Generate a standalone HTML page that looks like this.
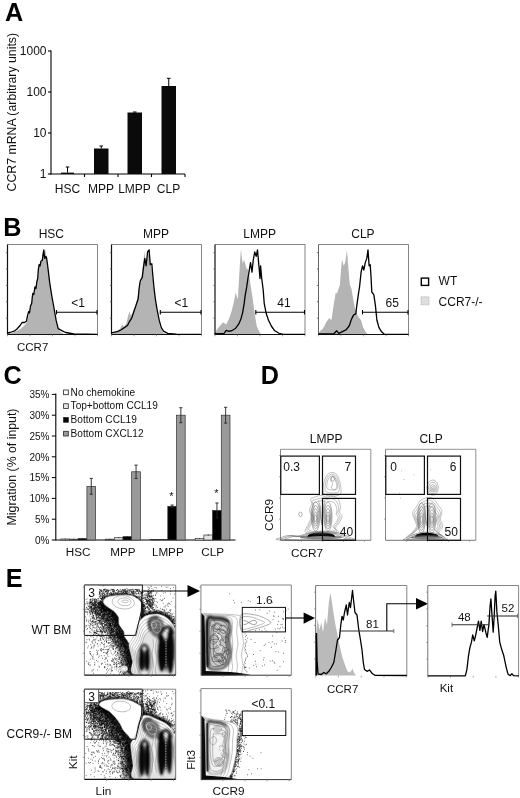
<!DOCTYPE html>
<html><head><meta charset="utf-8"><title>Figure</title>
<style>
html,body{margin:0;padding:0;background:#fff;}
body{width:520px;height:798px;overflow:hidden;}
svg{display:block;font-family:'Liberation Sans', sans-serif;will-change:transform;}
</style></head><body>
<svg width="520" height="798" viewBox="0 0 520 798">
<rect width="520" height="798" fill="#fff"/>
<text x="5" y="20.9" font-size="25.2" text-anchor="start" font-weight="bold" fill="#000">A</text>
<line x1="51" y1="50.5" x2="51" y2="174.5" stroke="#000" stroke-width="1.1"/>
<line x1="50.5" y1="174" x2="185" y2="174" stroke="#000" stroke-width="1.2"/>
<line x1="48" y1="51" x2="51" y2="51" stroke="#000" stroke-width="1.1"/>
<text x="46.5" y="55.2" font-size="12" text-anchor="end" font-weight="normal" fill="#111">1000</text>
<line x1="48" y1="92" x2="51" y2="92" stroke="#000" stroke-width="1.1"/>
<text x="46.5" y="96.2" font-size="12" text-anchor="end" font-weight="normal" fill="#111">100</text>
<line x1="48" y1="133" x2="51" y2="133" stroke="#000" stroke-width="1.1"/>
<text x="46.5" y="137.2" font-size="12" text-anchor="end" font-weight="normal" fill="#111">10</text>
<line x1="48" y1="174" x2="51" y2="174" stroke="#000" stroke-width="1.1"/>
<text x="46.5" y="178.2" font-size="12" text-anchor="end" font-weight="normal" fill="#111">1</text>
<line x1="84.5" y1="174" x2="84.5" y2="177" stroke="#000" stroke-width="1.1"/>
<line x1="118" y1="174" x2="118" y2="177" stroke="#000" stroke-width="1.1"/>
<line x1="151.5" y1="174" x2="151.5" y2="177" stroke="#000" stroke-width="1.1"/>
<line x1="185" y1="174" x2="185" y2="177" stroke="#000" stroke-width="1.1"/>
<rect x="61" y="172.6" width="13" height="1.4000000000000057" fill="#0a0a0a" stroke="none" stroke-width="1"/>
<line x1="67.5" y1="172.6" x2="67.5" y2="167" stroke="#000" stroke-width="1"/>
<line x1="65.7" y1="167" x2="69.3" y2="167" stroke="#000" stroke-width="1"/>
<rect x="94" y="148.5" width="14.5" height="25.5" fill="#0a0a0a" stroke="none" stroke-width="1"/>
<line x1="101.25" y1="148.5" x2="101.25" y2="146" stroke="#000" stroke-width="1"/>
<line x1="99.45" y1="146" x2="103.05" y2="146" stroke="#000" stroke-width="1"/>
<rect x="127.5" y="112.5" width="14.5" height="61.5" fill="#0a0a0a" stroke="none" stroke-width="1"/>
<line x1="134.75" y1="112.5" x2="134.75" y2="112" stroke="#000" stroke-width="1"/>
<line x1="132.95" y1="112" x2="136.55" y2="112" stroke="#000" stroke-width="1"/>
<rect x="161.5" y="86" width="14.5" height="88" fill="#0a0a0a" stroke="none" stroke-width="1"/>
<line x1="168.75" y1="86" x2="168.75" y2="78.3" stroke="#000" stroke-width="1"/>
<line x1="166.95" y1="78.3" x2="170.55" y2="78.3" stroke="#000" stroke-width="1"/>
<text x="67.5" y="192.5" font-size="12" text-anchor="middle" font-weight="normal" fill="#111">HSC</text>
<text x="101" y="192.5" font-size="12" text-anchor="middle" font-weight="normal" fill="#111">MPP</text>
<text x="134.5" y="192.5" font-size="12" text-anchor="middle" font-weight="normal" fill="#111">LMPP</text>
<text x="168.5" y="192.5" font-size="12" text-anchor="middle" font-weight="normal" fill="#111">CLP</text>
<text x="16.5" y="112.2" font-size="12.3" text-anchor="middle" font-weight="normal" fill="#111" transform="rotate(-90 16.5 112.2)">CCR7 mRNA (arbitrary units)</text>
<text x="3.2" y="236.2" font-size="25.2" text-anchor="start" font-weight="bold" fill="#000">B</text>
<path d="M7.5 334L12 333L17 331L21 328.5L24 326L27 322L28.5 316L30 309L32 301L33.5 294L35.5 287L37.5 279L39 268L40.5 262L42 258L43.3 249L44 252L45.2 249.5L46.5 256L48 267L49.5 280L51.5 294L53.5 306L55.5 318L57.5 327L60 331.5L64 334L64 334.5L7.5 334.5Z" fill="#b4b4b4" stroke="none" stroke-width="1"/>
<line x1="7.5" y1="244.5" x2="97.5" y2="244.5" stroke="#666" stroke-width="0.8"/>
<line x1="97.5" y1="244.5" x2="97.5" y2="334.5" stroke="#666" stroke-width="0.8"/>
<line x1="7.5" y1="244.5" x2="7.5" y2="334.5" stroke="#111" stroke-width="1.2"/>
<line x1="7.5" y1="334.5" x2="97.5" y2="334.5" stroke="#111" stroke-width="1.1"/>
<line x1="5.9" y1="318.1363636363636" x2="7.5" y2="318.1363636363636" stroke="#555" stroke-width="0.8"/>
<line x1="5.9" y1="301.77272727272725" x2="7.5" y2="301.77272727272725" stroke="#555" stroke-width="0.8"/>
<line x1="5.9" y1="285.4090909090909" x2="7.5" y2="285.4090909090909" stroke="#555" stroke-width="0.8"/>
<line x1="5.9" y1="269.04545454545456" x2="7.5" y2="269.04545454545456" stroke="#555" stroke-width="0.8"/>
<line x1="5.9" y1="252.6818181818182" x2="7.5" y2="252.6818181818182" stroke="#555" stroke-width="0.8"/>
<line x1="7.5" y1="334.5" x2="7.5" y2="336.3" stroke="#777" stroke-width="0.7"/>
<line x1="30.0" y1="334.5" x2="30.0" y2="336.3" stroke="#777" stroke-width="0.7"/>
<line x1="52.5" y1="334.5" x2="52.5" y2="336.3" stroke="#777" stroke-width="0.7"/>
<line x1="75.0" y1="334.5" x2="75.0" y2="336.3" stroke="#777" stroke-width="0.7"/>
<line x1="97.5" y1="334.5" x2="97.5" y2="336.3" stroke="#777" stroke-width="0.7"/>
<path d="M7.5 333L10 332.5L14.8 330.8L17 329L20.1 325.5L22.2 322.3L24.5 322.5L26.4 321.3L27.5 316L28.6 311.7L29.5 313L30.5 306L31.7 303.3L32.3 297L32.8 293.5L33.8 294.5L34.9 287L36 288.5L36.8 282L37.7 278.5L38.3 270L39.1 264.7L40 266L41 261L42.3 260.5L43 255L43.8 250L44.3 256L44.8 258.4L45.6 256.5L46.5 257.3L47.3 263L48.2 270L49.7 282.7L51.8 296L53.9 307.5L56.1 320.2L58.2 328.7L61.3 330.3L65.6 332.5L74 334L97.5 334.4" fill="none" stroke="#000" stroke-width="1.3" stroke-linejoin="round"/>
<text x="51.3" y="237.5" font-size="12" text-anchor="middle" font-weight="normal" fill="#111">HSC</text>
<line x1="56.5" y1="312.2" x2="97.0" y2="312.2" stroke="#000" stroke-width="1.1"/>
<line x1="56.5" y1="310.0" x2="56.5" y2="314.4" stroke="#000" stroke-width="1.1"/>
<line x1="97.0" y1="310.0" x2="97.0" y2="314.4" stroke="#000" stroke-width="1.1"/>
<text x="78" y="307" font-size="12" text-anchor="middle" font-weight="normal" fill="#111">&lt;1</text>
<path d="M111.6 334L116 332L120 329L122.2 324.4L124 327L126.5 323L128 316L129.6 311.7L131 316L133 312L135.5 305L137.5 298L139 289L140.5 281L142 274L143.2 264L144.4 251L145.5 262L147 258L148.5 253L150 261L151.5 268L152.8 279L154 290L155.5 301L157 311L158.8 321L160.5 328L163 332.5L166 334L166 334.5L111.6 334.5Z" fill="#b4b4b4" stroke="none" stroke-width="1"/>
<line x1="111.5" y1="244.5" x2="201.5" y2="244.5" stroke="#666" stroke-width="0.8"/>
<line x1="201.5" y1="244.5" x2="201.5" y2="334.5" stroke="#666" stroke-width="0.8"/>
<line x1="111.5" y1="244.5" x2="111.5" y2="334.5" stroke="#111" stroke-width="1.2"/>
<line x1="111.5" y1="334.5" x2="201.5" y2="334.5" stroke="#111" stroke-width="1.1"/>
<line x1="109.9" y1="318.1363636363636" x2="111.5" y2="318.1363636363636" stroke="#555" stroke-width="0.8"/>
<line x1="109.9" y1="301.77272727272725" x2="111.5" y2="301.77272727272725" stroke="#555" stroke-width="0.8"/>
<line x1="109.9" y1="285.4090909090909" x2="111.5" y2="285.4090909090909" stroke="#555" stroke-width="0.8"/>
<line x1="109.9" y1="269.04545454545456" x2="111.5" y2="269.04545454545456" stroke="#555" stroke-width="0.8"/>
<line x1="109.9" y1="252.6818181818182" x2="111.5" y2="252.6818181818182" stroke="#555" stroke-width="0.8"/>
<line x1="111.5" y1="334.5" x2="111.5" y2="336.3" stroke="#777" stroke-width="0.7"/>
<line x1="134.0" y1="334.5" x2="134.0" y2="336.3" stroke="#777" stroke-width="0.7"/>
<line x1="156.5" y1="334.5" x2="156.5" y2="336.3" stroke="#777" stroke-width="0.7"/>
<line x1="179.0" y1="334.5" x2="179.0" y2="336.3" stroke="#777" stroke-width="0.7"/>
<line x1="201.5" y1="334.5" x2="201.5" y2="336.3" stroke="#777" stroke-width="0.7"/>
<path d="M111.6 332.9L118 331.4L121.2 329.7L124.3 327.6L127.5 325.5L129.6 321.3L131.7 318.1L133.8 311.7L136 305.4L138.1 299L139.1 288.5L140.2 281L142.3 277.4L143.4 267.9L144.8 258.4L146.1 265.8L147.6 252L149.1 249.9L150.3 264.7L151.8 263.7L152.9 276.3L153.9 286.9L155.4 299.3L157.1 309.6L159.2 320.2L161.3 327.6L163.5 331.2L167.7 333.3L176.2 334.2L201.1 334.4" fill="none" stroke="#000" stroke-width="1.3" stroke-linejoin="round"/>
<text x="155.9" y="237.5" font-size="12" text-anchor="middle" font-weight="normal" fill="#111">MPP</text>
<line x1="160.3" y1="312.2" x2="201.0" y2="312.2" stroke="#000" stroke-width="1.1"/>
<line x1="160.3" y1="310.0" x2="160.3" y2="314.4" stroke="#000" stroke-width="1.1"/>
<line x1="201.0" y1="310.0" x2="201.0" y2="314.4" stroke="#000" stroke-width="1.1"/>
<text x="181.4" y="307" font-size="12" text-anchor="middle" font-weight="normal" fill="#111">&lt;1</text>
<path d="M214.5 334L216 331L219 327L223 322.3L226.2 324.4L229.3 318L231.4 311.7L233.6 303.3L235.7 292.5L237.8 299.6L238.8 282.7L240 262L241 248.8L241.9 258L242.7 263.7L244.1 259.4L246.3 267.9L248.4 270L250.5 284.8L252.6 298L254.7 313.8L256.8 326.5L260 332.9L262 334.4L262 334.5L214.5 334.5Z" fill="#b4b4b4" stroke="none" stroke-width="1"/>
<line x1="215" y1="244.5" x2="305" y2="244.5" stroke="#666" stroke-width="0.8"/>
<line x1="305" y1="244.5" x2="305" y2="334.5" stroke="#666" stroke-width="0.8"/>
<line x1="215" y1="244.5" x2="215" y2="334.5" stroke="#111" stroke-width="1.2"/>
<line x1="215" y1="334.5" x2="305" y2="334.5" stroke="#111" stroke-width="1.1"/>
<line x1="213.4" y1="318.1363636363636" x2="215" y2="318.1363636363636" stroke="#555" stroke-width="0.8"/>
<line x1="213.4" y1="301.77272727272725" x2="215" y2="301.77272727272725" stroke="#555" stroke-width="0.8"/>
<line x1="213.4" y1="285.4090909090909" x2="215" y2="285.4090909090909" stroke="#555" stroke-width="0.8"/>
<line x1="213.4" y1="269.04545454545456" x2="215" y2="269.04545454545456" stroke="#555" stroke-width="0.8"/>
<line x1="213.4" y1="252.6818181818182" x2="215" y2="252.6818181818182" stroke="#555" stroke-width="0.8"/>
<line x1="215.0" y1="334.5" x2="215.0" y2="336.3" stroke="#777" stroke-width="0.7"/>
<line x1="237.5" y1="334.5" x2="237.5" y2="336.3" stroke="#777" stroke-width="0.7"/>
<line x1="260.0" y1="334.5" x2="260.0" y2="336.3" stroke="#777" stroke-width="0.7"/>
<line x1="282.5" y1="334.5" x2="282.5" y2="336.3" stroke="#777" stroke-width="0.7"/>
<line x1="305.0" y1="334.5" x2="305.0" y2="336.3" stroke="#777" stroke-width="0.7"/>
<path d="M214.5 333.9L224 333.5L226.2 330.3L229.3 331.4L232.5 330.3L235.7 328.2L238.8 323.9L241 318.7L242.7 312.3L244.1 303.9L245.2 295.4L246.7 286.9L247.9 278.5L249 272.1L250.5 262.6L252 272.1L253.2 260.5L254.7 252L256.2 256.3L257.5 249.9L258.9 265.8L260 278.5L260.6 265.8L261.7 278.5L263.2 290L264.2 303.3L266.3 313.8L268.5 320.2L271.6 326.5L274.8 330.8L279 333.3L283.3 334.4L305 334.4" fill="none" stroke="#000" stroke-width="1.3" stroke-linejoin="round"/>
<text x="259.6" y="237.5" font-size="12" text-anchor="middle" font-weight="normal" fill="#111">LMPP</text>
<line x1="255.8" y1="312.2" x2="304.5" y2="312.2" stroke="#000" stroke-width="1.1"/>
<line x1="255.8" y1="310.0" x2="255.8" y2="314.4" stroke="#000" stroke-width="1.1"/>
<line x1="304.5" y1="310.0" x2="304.5" y2="314.4" stroke="#000" stroke-width="1.1"/>
<text x="284" y="307" font-size="12" text-anchor="middle" font-weight="normal" fill="#111">41</text>
<path d="M318.3 334L320 331L323 328.7L326.2 322.3L329.3 318.1L331.4 320.2L333.6 305.4L335.7 292.7L337 293.5L339.9 284.8L341 270L342 259.4L343.7 265.8L345.2 262.6L346.9 249.9L348.4 267.9L349.8 284.8L351.5 289L353.2 299.3L354.7 307.5L357.9 316L361.1 320.2L363.2 327.6L366.3 332.9L368.5 334.4L368.5 334.5L318.3 334.5Z" fill="#b4b4b4" stroke="none" stroke-width="1"/>
<line x1="318.5" y1="244.5" x2="408.5" y2="244.5" stroke="#666" stroke-width="0.8"/>
<line x1="408.5" y1="244.5" x2="408.5" y2="334.5" stroke="#666" stroke-width="0.8"/>
<line x1="318.5" y1="244.5" x2="318.5" y2="334.5" stroke="#555" stroke-width="0.9"/>
<line x1="318.5" y1="334.5" x2="408.5" y2="334.5" stroke="#111" stroke-width="1.1"/>
<line x1="316.9" y1="318.1363636363636" x2="318.5" y2="318.1363636363636" stroke="#555" stroke-width="0.8"/>
<line x1="316.9" y1="301.77272727272725" x2="318.5" y2="301.77272727272725" stroke="#555" stroke-width="0.8"/>
<line x1="316.9" y1="285.4090909090909" x2="318.5" y2="285.4090909090909" stroke="#555" stroke-width="0.8"/>
<line x1="316.9" y1="269.04545454545456" x2="318.5" y2="269.04545454545456" stroke="#555" stroke-width="0.8"/>
<line x1="316.9" y1="252.6818181818182" x2="318.5" y2="252.6818181818182" stroke="#555" stroke-width="0.8"/>
<line x1="318.5" y1="334.5" x2="318.5" y2="336.3" stroke="#777" stroke-width="0.7"/>
<line x1="341.0" y1="334.5" x2="341.0" y2="336.3" stroke="#777" stroke-width="0.7"/>
<line x1="363.5" y1="334.5" x2="363.5" y2="336.3" stroke="#777" stroke-width="0.7"/>
<line x1="386.0" y1="334.5" x2="386.0" y2="336.3" stroke="#777" stroke-width="0.7"/>
<line x1="408.5" y1="334.5" x2="408.5" y2="336.3" stroke="#777" stroke-width="0.7"/>
<path d="M318.3 334L333.6 334L336.7 330.8L338.8 333.3L342 331.8L346.3 329.7L349.4 325.5L351.5 319.1L353.7 314.9L355.8 313.8L356.8 305.4L358.3 294.8L359.6 286.5L361.1 272.1L362.5 265.8L363.8 270L365.3 262.6L366.8 258.4L368 249.9L369.1 265.8L370.2 264.7L371 276.3L371.8 292L373.8 294.6L375.4 305.4L376.9 320.2L379 327.6L381.6 331.8L384.3 334.2L408.5 334.4" fill="none" stroke="#000" stroke-width="1.3" stroke-linejoin="round"/>
<text x="362.9" y="237.5" font-size="12" text-anchor="middle" font-weight="normal" fill="#111">CLP</text>
<line x1="362.5" y1="312.2" x2="408.0" y2="312.2" stroke="#000" stroke-width="1.1"/>
<line x1="362.5" y1="310.0" x2="362.5" y2="314.4" stroke="#000" stroke-width="1.1"/>
<line x1="408.0" y1="310.0" x2="408.0" y2="314.4" stroke="#000" stroke-width="1.1"/>
<text x="392.3" y="307" font-size="12" text-anchor="middle" font-weight="normal" fill="#111">65</text>
<text x="17" y="350.5" font-size="11.5" text-anchor="start" font-weight="normal" fill="#111">CCR7</text>
<rect x="421.3" y="278.1" width="7.3" height="7.3" fill="#fff" stroke="#000" stroke-width="1.4"/>
<rect x="421" y="296.8" width="8" height="8" fill="#dedede" stroke="#a8a8a8" stroke-width="0.7" stroke-dasharray="1 0.6"/>
<text x="438.6" y="285" font-size="12" text-anchor="start" font-weight="normal" fill="#111">WT</text>
<text x="438.6" y="305.6" font-size="12" text-anchor="start" font-weight="normal" fill="#111">CCR7-/-</text>
<text x="3.5" y="384" font-size="25.2" text-anchor="start" font-weight="bold" fill="#000">C</text>
<line x1="55.8" y1="393.5" x2="55.8" y2="540.5" stroke="#000" stroke-width="1.1"/>
<line x1="55.8" y1="540" x2="235.5" y2="540" stroke="#000" stroke-width="1.1"/>
<line x1="51.8" y1="540.0" x2="55.8" y2="540.0" stroke="#000" stroke-width="1"/>
<text x="49.4" y="543.8" font-size="10" text-anchor="end" font-weight="normal" fill="#111">0%</text>
<line x1="51.8" y1="519.2" x2="55.8" y2="519.2" stroke="#000" stroke-width="1"/>
<text x="49.4" y="523.0" font-size="10" text-anchor="end" font-weight="normal" fill="#111">5%</text>
<line x1="51.8" y1="498.4" x2="55.8" y2="498.4" stroke="#000" stroke-width="1"/>
<text x="49.4" y="502.2" font-size="10" text-anchor="end" font-weight="normal" fill="#111">10%</text>
<line x1="51.8" y1="477.6" x2="55.8" y2="477.6" stroke="#000" stroke-width="1"/>
<text x="49.4" y="481.40000000000003" font-size="10" text-anchor="end" font-weight="normal" fill="#111">15%</text>
<line x1="51.8" y1="456.8" x2="55.8" y2="456.8" stroke="#000" stroke-width="1"/>
<text x="49.4" y="460.6" font-size="10" text-anchor="end" font-weight="normal" fill="#111">20%</text>
<line x1="51.8" y1="436.0" x2="55.8" y2="436.0" stroke="#000" stroke-width="1"/>
<text x="49.4" y="439.8" font-size="10" text-anchor="end" font-weight="normal" fill="#111">25%</text>
<line x1="51.8" y1="415.2" x2="55.8" y2="415.2" stroke="#000" stroke-width="1"/>
<text x="49.4" y="419.0" font-size="10" text-anchor="end" font-weight="normal" fill="#111">30%</text>
<line x1="51.8" y1="394.4" x2="55.8" y2="394.4" stroke="#000" stroke-width="1"/>
<text x="49.4" y="398.2" font-size="10" text-anchor="end" font-weight="normal" fill="#111">35%</text>
<rect x="63.6" y="390.0" width="4.7" height="4.7" fill="#fff" stroke="#222" stroke-width="0.8"/>
<text x="70.6" y="395.7" font-size="10.1" text-anchor="start" font-weight="normal" fill="#111">No chemokine</text>
<rect x="63.6" y="403.77" width="4.7" height="4.7" fill="#e4e4e4" stroke="#222" stroke-width="0.8"/>
<text x="70.6" y="409.46999999999997" font-size="10.1" text-anchor="start" font-weight="normal" fill="#111">Top+bottom CCL19</text>
<rect x="63.6" y="417.54" width="4.7" height="4.7" fill="#000" stroke="#222" stroke-width="0.8"/>
<text x="70.6" y="423.24" font-size="10.1" text-anchor="start" font-weight="normal" fill="#111">Bottom CCL19</text>
<rect x="63.6" y="431.31" width="4.7" height="4.7" fill="#9a9a9a" stroke="#222" stroke-width="0.8"/>
<text x="70.6" y="437.01" font-size="10.1" text-anchor="start" font-weight="normal" fill="#111">Bottom CXCL12</text>
<rect x="60.8" y="538.96" width="8.7" height="1.0399999999999636" fill="#fff" stroke="#333" stroke-width="0.7"/>
<line x1="65.14999999999999" y1="538.544" x2="65.14999999999999" y2="539.376" stroke="#222" stroke-width="0.9"/>
<rect x="69.5" y="539.168" width="8.7" height="0.8319999999999936" fill="#e4e4e4" stroke="#333" stroke-width="0.7"/>
<line x1="73.85" y1="538.752" x2="73.85" y2="539.584" stroke="#222" stroke-width="0.9"/>
<rect x="78.19999999999999" y="538.544" width="8.7" height="1.4560000000000173" fill="#000" stroke="#333" stroke-width="0.7"/>
<line x1="82.54999999999998" y1="537.92" x2="82.54999999999998" y2="539.168" stroke="#222" stroke-width="0.9"/>
<rect x="86.89999999999999" y="486.336" width="8.7" height="53.66399999999999" fill="#9a9a9a" stroke="#333" stroke-width="0.7"/>
<line x1="91.24999999999999" y1="478.432" x2="91.24999999999999" y2="494.24" stroke="#222" stroke-width="0.9"/>
<line x1="89.64999999999999" y1="478.432" x2="92.84999999999998" y2="478.432" stroke="#222" stroke-width="0.9"/>
<line x1="89.64999999999999" y1="494.24" x2="92.84999999999998" y2="494.24" stroke="#222" stroke-width="0.9"/>
<text x="78.19999999999999" y="556.3" font-size="11.7" text-anchor="middle" font-weight="normal" fill="#111">HSC</text>
<rect x="105.6" y="539.168" width="8.7" height="0.8319999999999936" fill="#fff" stroke="#333" stroke-width="0.7"/>
<line x1="109.94999999999999" y1="538.752" x2="109.94999999999999" y2="539.584" stroke="#222" stroke-width="0.9"/>
<rect x="114.3" y="537.712" width="8.7" height="2.288000000000011" fill="#e4e4e4" stroke="#333" stroke-width="0.7"/>
<line x1="118.64999999999999" y1="537.296" x2="118.64999999999999" y2="538.128" stroke="#222" stroke-width="0.9"/>
<rect x="123.0" y="536.672" width="8.7" height="3.3279999999999745" fill="#000" stroke="#333" stroke-width="0.7"/>
<line x1="127.35" y1="536.048" x2="127.35" y2="537.296" stroke="#222" stroke-width="0.9"/>
<rect x="131.7" y="471.776" width="8.7" height="68.22399999999999" fill="#9a9a9a" stroke="#333" stroke-width="0.7"/>
<line x1="136.04999999999998" y1="465.12" x2="136.04999999999998" y2="478.432" stroke="#222" stroke-width="0.9"/>
<line x1="134.45" y1="465.12" x2="137.64999999999998" y2="465.12" stroke="#222" stroke-width="0.9"/>
<line x1="134.45" y1="478.432" x2="137.64999999999998" y2="478.432" stroke="#222" stroke-width="0.9"/>
<text x="123.0" y="556.3" font-size="11.7" text-anchor="middle" font-weight="normal" fill="#111">MPP</text>
<rect x="150.4" y="539.584" width="8.7" height="0.41600000000005366" fill="#fff" stroke="#333" stroke-width="0.7"/>
<line x1="154.75" y1="539.376" x2="154.75" y2="539.792" stroke="#222" stroke-width="0.9"/>
<rect x="159.1" y="539.584" width="8.7" height="0.41600000000005366" fill="#e4e4e4" stroke="#333" stroke-width="0.7"/>
<line x1="163.45" y1="539.376" x2="163.45" y2="539.792" stroke="#222" stroke-width="0.9"/>
<rect x="167.8" y="506.304" width="8.7" height="33.696000000000026" fill="#000" stroke="#333" stroke-width="0.7"/>
<line x1="172.15" y1="505.056" x2="172.15" y2="507.552" stroke="#222" stroke-width="0.9"/>
<line x1="170.55" y1="505.056" x2="173.75" y2="505.056" stroke="#222" stroke-width="0.9"/>
<line x1="170.55" y1="507.552" x2="173.75" y2="507.552" stroke="#222" stroke-width="0.9"/>
<rect x="176.5" y="415.2" width="8.7" height="124.80000000000001" fill="#9a9a9a" stroke="#333" stroke-width="0.7"/>
<line x1="180.85" y1="407.712" x2="180.85" y2="422.688" stroke="#222" stroke-width="0.9"/>
<line x1="179.25" y1="407.712" x2="182.45" y2="407.712" stroke="#222" stroke-width="0.9"/>
<line x1="179.25" y1="422.688" x2="182.45" y2="422.688" stroke="#222" stroke-width="0.9"/>
<text x="167.8" y="556.3" font-size="11.7" text-anchor="middle" font-weight="normal" fill="#111">LMPP</text>
<rect x="195.2" y="538.544" width="8.7" height="1.4560000000000173" fill="#fff" stroke="#333" stroke-width="0.7"/>
<line x1="199.54999999999998" y1="538.128" x2="199.54999999999998" y2="538.96" stroke="#222" stroke-width="0.9"/>
<rect x="203.89999999999998" y="535.008" width="8.7" height="4.991999999999962" fill="#e4e4e4" stroke="#333" stroke-width="0.7"/>
<line x1="208.24999999999997" y1="534.384" x2="208.24999999999997" y2="535.632" stroke="#222" stroke-width="0.9"/>
<rect x="212.6" y="510.464" width="8.7" height="29.536" fill="#000" stroke="#333" stroke-width="0.7"/>
<line x1="216.95" y1="502.976" x2="216.95" y2="517.952" stroke="#222" stroke-width="0.9"/>
<line x1="215.35" y1="502.976" x2="218.54999999999998" y2="502.976" stroke="#222" stroke-width="0.9"/>
<line x1="215.35" y1="517.952" x2="218.54999999999998" y2="517.952" stroke="#222" stroke-width="0.9"/>
<rect x="221.29999999999998" y="415.2" width="8.7" height="124.80000000000001" fill="#9a9a9a" stroke="#333" stroke-width="0.7"/>
<line x1="225.64999999999998" y1="407.296" x2="225.64999999999998" y2="423.104" stroke="#222" stroke-width="0.9"/>
<line x1="224.04999999999998" y1="407.296" x2="227.24999999999997" y2="407.296" stroke="#222" stroke-width="0.9"/>
<line x1="224.04999999999998" y1="423.104" x2="227.24999999999997" y2="423.104" stroke="#222" stroke-width="0.9"/>
<text x="212.6" y="556.3" font-size="11.7" text-anchor="middle" font-weight="normal" fill="#111">CLP</text>
<text x="171.5" y="500" font-size="11" text-anchor="middle" font-weight="normal" fill="#111">*</text>
<text x="216.5" y="497" font-size="11" text-anchor="middle" font-weight="normal" fill="#111">*</text>
<text x="16.3" y="467" font-size="12.3" text-anchor="middle" font-weight="normal" fill="#111" transform="rotate(-90 16.3 467)">Migration (% of input)</text>
<text x="260.7" y="383.5" font-size="25.2" text-anchor="start" font-weight="bold" fill="#000">D</text>
<line x1="280.5" y1="449.3" x2="370.8" y2="449.3" stroke="#777" stroke-width="0.8"/>
<line x1="370.8" y1="449.3" x2="370.8" y2="540.3" stroke="#777" stroke-width="0.8"/>
<line x1="280.5" y1="449.3" x2="280.5" y2="540.3" stroke="#777" stroke-width="0.9"/>
<line x1="280.5" y1="540.3" x2="370.8" y2="540.3" stroke="#666" stroke-width="0.9"/>
<line x1="279.0" y1="519.1372093023256" x2="280.5" y2="519.1372093023256" stroke="#888" stroke-width="0.7"/>
<line x1="301.5" y1="540.3" x2="301.5" y2="541.8" stroke="#888" stroke-width="0.7"/>
<line x1="279.0" y1="497.97441860465113" x2="280.5" y2="497.97441860465113" stroke="#888" stroke-width="0.7"/>
<line x1="322.5" y1="540.3" x2="322.5" y2="541.8" stroke="#888" stroke-width="0.7"/>
<line x1="279.0" y1="476.81162790697675" x2="280.5" y2="476.81162790697675" stroke="#888" stroke-width="0.7"/>
<line x1="343.5" y1="540.3" x2="343.5" y2="541.8" stroke="#888" stroke-width="0.7"/>
<line x1="279.0" y1="455.6488372093023" x2="280.5" y2="455.6488372093023" stroke="#888" stroke-width="0.7"/>
<line x1="364.5" y1="540.3" x2="364.5" y2="541.8" stroke="#888" stroke-width="0.7"/>
<text x="326.1" y="443.1" font-size="12" text-anchor="middle" font-weight="normal" fill="#111">LMPP</text>
<path d="M281.5 537.5C282.7 536.8 285.7 535.8 288.5 535.5C291.3 535.2 295.2 536.4 298.5 536.0C301.8 535.6 304.6 533.8 308.5 533.0C312.4 532.2 317.4 531.3 322.0 531.2C326.6 531.1 332.3 531.9 336.0 532.5C339.7 533.1 341.7 534.2 344.0 535.0C346.3 535.8 349.2 536.7 350.0 537.5C350.8 538.3 360.4 539.6 349.0 540.0C337.6 540.4 292.8 540.4 281.5 540.0C270.2 539.6 280.3 538.2 281.5 537.5Z" fill="none" stroke="#555" stroke-width="0.5"/>
<path d="M285.1 537.7C286.2 537.0 288.9 536.1 291.4 535.9C294.0 535.7 297.4 536.7 300.4 536.4C303.4 536.0 305.9 534.4 309.4 533.6C313.0 532.9 317.5 532.1 321.6 532.0C325.7 532.0 330.9 532.6 334.2 533.2C337.5 533.8 339.3 534.7 341.4 535.5C343.5 536.2 346.1 537.0 346.8 537.7C347.6 538.5 356.2 539.6 345.9 540.0C335.6 540.3 295.3 540.3 285.1 540.0C275.0 539.6 284.1 538.4 285.1 537.7Z" fill="none" stroke="#555" stroke-width="0.5"/>
<path d="M288.8 537.9C289.7 537.3 292.1 536.5 294.4 536.3C296.7 536.1 299.7 537.0 302.4 536.7C305.1 536.4 307.3 534.9 310.4 534.3C313.5 533.7 317.5 532.9 321.2 532.9C324.9 532.8 329.5 533.4 332.4 533.9C335.3 534.4 336.9 535.2 338.8 535.9C340.7 536.6 342.9 537.2 343.6 537.9C344.3 538.6 351.9 539.6 342.8 539.9C333.7 540.2 297.8 540.2 288.8 539.9C279.8 539.6 287.9 538.5 288.8 537.9Z" fill="none" stroke="#555" stroke-width="0.5"/>
<ellipse cx="321.0" cy="537.4" rx="21" ry="1.9" fill="#333" opacity="0.6"/>
<path d="M308.0 536.2Q310.0 533.2 321.0 533Q332.0 533.2 334.5 536.2Q321.0 534.8 308.0 536.2Z" fill="#000" stroke="#000" stroke-width="1.2" stroke-linejoin="round"/>
<path d="M307.0 533.0C302.2 531.5 307.8 526.7 308.5 524.0C309.2 521.3 310.8 519.3 311.0 517.0C311.2 514.7 309.3 512.3 309.5 510.0C309.7 507.7 311.8 504.8 312.0 503.0C312.2 501.2 310.0 500.0 310.5 499.0C311.0 498.0 313.2 497.6 315.0 497.0C316.8 496.4 319.0 495.5 321.0 495.5C323.0 495.5 325.2 496.9 327.0 497.0C328.8 497.1 330.2 495.7 332.0 496.0C333.8 496.3 336.6 497.2 338.0 499.0C339.4 500.8 340.2 504.8 340.5 507.0C340.8 509.2 339.2 510.4 339.5 512.0C339.8 513.6 342.1 514.7 342.0 516.5C341.9 518.3 340.1 521.1 339.0 523.0C337.9 524.9 335.8 526.3 335.5 528.0C335.2 529.7 341.8 532.2 337.0 533.0C332.2 533.8 311.8 534.5 307.0 533.0Z" fill="none" stroke="#777" stroke-width="0.45"/>
<path d="M308.6 531.9C304.3 530.5 309.4 526.2 309.9 523.8C310.5 521.4 312.0 519.6 312.2 517.5C312.4 515.4 310.7 513.3 310.9 511.2C311.0 509.1 313.0 506.5 313.1 504.9C313.2 503.2 311.3 502.2 311.8 501.3C312.2 500.4 314.2 500.0 315.8 499.5C317.4 499.0 319.4 498.1 321.2 498.1C323.0 498.1 325.0 499.4 326.6 499.5C328.2 499.6 329.5 498.3 331.1 498.6C332.8 498.9 335.2 499.7 336.5 501.3C337.8 502.9 338.5 506.6 338.8 508.5C339.0 510.4 337.6 511.6 337.9 513.0C338.1 514.4 340.2 515.4 340.1 517.0C340.0 518.7 338.4 521.2 337.4 522.9C336.4 524.6 334.6 525.9 334.2 527.4C333.9 528.9 339.9 531.1 335.6 531.9C331.3 532.6 312.9 533.2 308.6 531.9Z" fill="none" stroke="#777" stroke-width="0.45"/>
<path d="M310.2 530.8C306.4 529.6 310.9 525.7 311.4 523.6C311.9 521.5 313.3 519.9 313.4 518.0C313.5 516.1 312.1 514.3 312.2 512.4C312.3 510.5 314.1 508.3 314.2 506.8C314.3 505.3 312.6 504.4 313.0 503.6C313.4 502.8 315.2 502.5 316.6 502.0C318.0 501.5 319.8 500.8 321.4 500.8C323.0 500.8 324.7 501.9 326.2 502.0C327.7 502.1 328.7 500.9 330.2 501.2C331.7 501.5 333.9 502.1 335.0 503.6C336.1 505.1 336.8 508.3 337.0 510.0C337.2 511.7 336.0 512.7 336.2 514.0C336.4 515.3 338.3 516.1 338.2 517.6C338.1 519.1 336.7 521.3 335.8 522.8C334.9 524.3 333.3 525.5 333.0 526.8C332.7 528.1 338.0 530.1 334.2 530.8C330.4 531.5 314.0 532.0 310.2 530.8Z" fill="none" stroke="#777" stroke-width="0.45"/>
<path d="M319.8 516.5C319.8 519.3 319.5 522.7 319.0 525.0C318.5 527.3 317.7 529.4 316.9 530.3C316.1 531.2 315.1 531.2 314.3 530.3C313.5 529.4 312.7 527.3 312.2 525.0C311.7 522.7 311.4 519.3 311.4 516.5C311.4 513.7 311.7 510.3 312.2 508.0C312.7 505.7 313.5 503.6 314.3 502.7C315.1 501.8 316.1 501.8 316.9 502.7C317.7 503.6 318.5 505.7 319.0 508.0C319.5 510.3 319.8 513.7 319.8 516.5Z" fill="none" stroke="#555" stroke-width="0.5"/>
<path d="M319.0 517.0C319.0 519.3 318.7 522.0 318.3 523.8C317.9 525.7 317.3 527.3 316.6 528.0C316.0 528.7 315.2 528.7 314.6 528.0C313.9 527.3 313.3 525.7 312.9 523.8C312.5 522.0 312.2 519.3 312.2 517.0C312.2 514.7 312.5 512.0 312.9 510.2C313.3 508.3 313.9 506.7 314.6 506.0C315.2 505.3 316.0 505.3 316.6 506.0C317.3 506.7 317.9 508.3 318.3 510.2C318.7 512.0 319.0 514.7 319.0 517.0Z" fill="none" stroke="#555" stroke-width="0.5"/>
<path d="M318.1 517.5C318.1 519.2 317.9 521.2 317.6 522.6C317.3 524.0 316.8 525.2 316.4 525.8C315.9 526.3 315.3 526.3 314.8 525.8C314.4 525.2 313.9 524.0 313.6 522.6C313.3 521.2 313.1 519.2 313.1 517.5C313.1 515.8 313.3 513.8 313.6 512.4C313.9 511.0 314.4 509.8 314.8 509.2C315.3 508.7 315.9 508.7 316.4 509.2C316.8 509.8 317.3 511.0 317.6 512.4C317.9 513.8 318.1 515.8 318.1 517.5Z" fill="none" stroke="#555" stroke-width="0.5"/>
<path d="M317.4 518.0C317.4 519.1 317.2 520.6 317.0 521.5C316.8 522.5 316.5 523.4 316.1 523.7C315.8 524.1 315.4 524.1 315.1 523.7C314.7 523.4 314.4 522.5 314.2 521.5C314.0 520.6 313.8 519.1 313.8 518.0C313.8 516.8 314.0 515.3 314.2 514.4C314.4 513.4 314.7 512.5 315.1 512.2C315.4 511.8 315.8 511.8 316.1 512.2C316.5 512.5 316.8 513.4 317.0 514.4C317.2 515.3 317.4 516.8 317.4 518.0Z" fill="none" stroke="#555" stroke-width="0.5"/>
<path d="M316.7 518.4C316.7 519.1 316.6 519.9 316.4 520.5C316.3 521.1 316.1 521.6 315.9 521.8C315.7 522.0 315.5 522.0 315.3 521.8C315.1 521.6 314.9 521.1 314.8 520.5C314.6 519.9 314.6 519.1 314.6 518.4C314.6 517.7 314.6 516.8 314.8 516.2C314.9 515.7 315.1 515.1 315.3 514.9C315.5 514.7 315.7 514.7 315.9 514.9C316.1 515.1 316.3 515.7 316.4 516.2C316.6 516.8 316.7 517.7 316.7 518.4Z" fill="none" stroke="#555" stroke-width="0.5"/>
<path d="M332.0 516.5C332.0 519.3 331.7 522.7 331.2 525.0C330.8 527.3 330.0 529.4 329.2 530.3C328.5 531.2 327.5 531.2 326.8 530.3C326.0 529.4 325.2 527.3 324.8 525.0C324.3 522.7 324.0 519.3 324.0 516.5C324.0 513.7 324.3 510.3 324.8 508.0C325.2 505.7 326.0 503.6 326.8 502.7C327.5 501.8 328.5 501.8 329.2 502.7C330.0 503.6 330.8 505.7 331.2 508.0C331.7 510.3 332.0 513.7 332.0 516.5Z" fill="none" stroke="#555" stroke-width="0.5"/>
<path d="M331.2 517.0C331.2 519.3 331.0 522.0 330.6 523.8C330.2 525.7 329.6 527.3 329.0 528.0C328.4 528.7 327.6 528.7 327.0 528.0C326.4 527.3 325.8 525.7 325.4 523.8C325.0 522.0 324.8 519.3 324.8 517.0C324.8 514.7 325.0 512.0 325.4 510.2C325.8 508.3 326.4 506.7 327.0 506.0C327.6 505.3 328.4 505.3 329.0 506.0C329.6 506.7 330.2 508.3 330.6 510.2C331.0 512.0 331.2 514.7 331.2 517.0Z" fill="none" stroke="#555" stroke-width="0.5"/>
<path d="M330.4 517.5C330.4 519.2 330.2 521.2 329.9 522.6C329.7 524.0 329.2 525.2 328.7 525.8C328.3 526.3 327.7 526.3 327.3 525.8C326.8 525.2 326.3 524.0 326.1 522.6C325.8 521.2 325.6 519.2 325.6 517.5C325.6 515.8 325.8 513.8 326.1 512.4C326.3 511.0 326.8 509.8 327.3 509.2C327.7 508.7 328.3 508.7 328.7 509.2C329.2 509.8 329.7 511.0 329.9 512.4C330.2 513.8 330.4 515.8 330.4 517.5Z" fill="none" stroke="#555" stroke-width="0.5"/>
<path d="M329.7 518.0C329.7 519.1 329.6 520.6 329.4 521.5C329.2 522.5 328.8 523.4 328.5 523.7C328.2 524.1 327.8 524.1 327.5 523.7C327.2 523.4 326.8 522.5 326.6 521.5C326.4 520.6 326.3 519.1 326.3 518.0C326.3 516.8 326.4 515.3 326.6 514.4C326.8 513.4 327.2 512.5 327.5 512.2C327.8 511.8 328.2 511.8 328.5 512.2C328.8 512.5 329.2 513.4 329.4 514.4C329.6 515.3 329.7 516.8 329.7 518.0Z" fill="none" stroke="#555" stroke-width="0.5"/>
<path d="M329.0 518.4C329.0 519.1 328.9 519.9 328.8 520.5C328.7 521.1 328.5 521.6 328.3 521.8C328.1 522.0 327.9 522.0 327.7 521.8C327.5 521.6 327.3 521.1 327.2 520.5C327.1 519.9 327.0 519.1 327.0 518.4C327.0 517.7 327.1 516.8 327.2 516.2C327.3 515.7 327.5 515.1 327.7 514.9C327.9 514.7 328.1 514.7 328.3 514.9C328.5 515.1 328.7 515.7 328.8 516.2C328.9 516.8 329.0 517.7 329.0 518.4Z" fill="none" stroke="#555" stroke-width="0.5"/>
<path d="M318.8 500.0C319.0 502.0 319.5 508.3 320.0 512.0C320.5 515.7 321.1 522.0 321.7 522.0C322.3 522.0 323.1 515.7 323.6 512.0C324.1 508.3 324.6 502.0 324.8 500.0" fill="none" stroke="#777" stroke-width="0.45"/>
<path d="M319.7 503.0C319.8 504.5 320.2 508.6 320.5 512.0C320.8 515.4 321.3 523.5 321.7 523.5C322.1 523.5 322.7 515.4 323.1 512.0C323.5 508.6 323.8 504.5 323.9 503.0" fill="none" stroke="#777" stroke-width="0.45"/>
<path d="M320.6 506.0C320.7 507.0 320.8 508.8 321.0 512.0C321.2 515.2 321.4 525.0 321.7 525.0C322.0 525.0 322.4 515.2 322.6 512.0C322.8 508.8 322.9 507.0 323.0 506.0" fill="none" stroke="#777" stroke-width="0.45"/>
<path d="M324.0 494.0C322.5 492.5 323.0 489.5 323.2 487.0C323.4 484.5 324.2 481.2 325.0 479.0C325.8 476.8 326.7 475.1 328.0 474.0C329.3 472.9 331.5 472.3 333.0 472.5C334.5 472.7 335.9 473.6 337.0 475.0C338.1 476.4 338.8 478.8 339.5 481.0C340.2 483.2 340.9 485.8 341.0 488.0C341.1 490.2 341.5 493.2 340.0 494.5C338.5 495.8 334.7 496.1 332.0 496.0C329.3 495.9 325.5 495.5 324.0 494.0Z" fill="none" stroke="#777" stroke-width="0.45"/>
<path d="M325.7 491.4C324.5 490.2 324.9 487.8 325.1 485.8C325.2 483.8 325.9 481.1 326.5 479.4C327.1 477.7 327.8 476.3 328.9 475.4C330.0 474.5 331.7 474.1 332.9 474.2C334.1 474.3 335.2 475.1 336.1 476.2C337.0 477.3 337.6 479.3 338.1 481.0C338.6 482.7 339.2 484.8 339.3 486.6C339.4 488.4 339.7 490.7 338.5 491.8C337.3 492.9 334.2 493.1 332.1 493.0C330.0 492.9 326.9 492.6 325.7 491.4Z" fill="none" stroke="#777" stroke-width="0.45"/>
<path d="M327.4 488.8C326.5 487.9 326.8 486.1 326.9 484.6C327.0 483.1 327.5 481.1 328.0 479.8C328.5 478.5 329.0 477.5 329.8 476.8C330.6 476.1 331.9 475.8 332.8 475.9C333.7 476.0 334.6 476.5 335.2 477.4C335.8 478.2 336.3 479.7 336.7 481.0C337.1 482.3 337.6 483.8 337.6 485.2C337.7 486.6 337.9 488.3 337.0 489.1C336.1 489.9 333.8 490.1 332.2 490.0C330.6 489.9 328.3 489.7 327.4 488.8Z" fill="none" stroke="#777" stroke-width="0.45"/>
<path d="M330.5 480.0C330.4 478.8 331.3 477.0 332.0 476.5C332.7 476.0 333.9 476.2 334.5 477.0C335.1 477.8 335.1 479.5 335.5 481.0C335.9 482.5 337.2 484.5 337.0 486.0C336.8 487.5 335.4 489.8 334.5 490.0C333.6 490.2 331.8 488.6 331.5 487.5C331.2 486.4 332.7 484.8 332.5 483.5C332.3 482.2 330.6 481.2 330.5 480.0Z" fill="none" stroke="#777" stroke-width="0.45"/>
<ellipse cx="332.8" cy="479" rx="1.7" ry="2.2" fill="none" stroke="#666" stroke-width="0.5"/>
<ellipse cx="300.5" cy="514.3" rx="1.7" ry="2.2" fill="none" stroke="#666" stroke-width="0.5"/>
<rect x="280.8" y="456.1" width="38.6" height="38.3" fill="none" stroke="#111" stroke-width="1.2"/>
<rect x="322.5" y="456.1" width="33" height="38.3" fill="none" stroke="#111" stroke-width="1.2"/>
<rect x="322.5" y="498.4" width="33" height="41.9" fill="none" stroke="#111" stroke-width="1.2"/>
<text x="283.3" y="470.8" font-size="12" text-anchor="start" font-weight="normal" fill="#111">0.3</text>
<text x="351.3" y="470.8" font-size="12" text-anchor="end" font-weight="normal" fill="#111">7</text>
<text x="353.1" y="536.4" font-size="12" text-anchor="end" font-weight="normal" fill="#111">40</text>
<line x1="385.5" y1="449.3" x2="475.8" y2="449.3" stroke="#777" stroke-width="0.8"/>
<line x1="475.8" y1="449.3" x2="475.8" y2="540.3" stroke="#777" stroke-width="0.8"/>
<line x1="385.5" y1="449.3" x2="385.5" y2="540.3" stroke="#777" stroke-width="0.9"/>
<line x1="385.5" y1="540.3" x2="475.8" y2="540.3" stroke="#666" stroke-width="0.9"/>
<line x1="384.0" y1="519.1372093023256" x2="385.5" y2="519.1372093023256" stroke="#888" stroke-width="0.7"/>
<line x1="406.5" y1="540.3" x2="406.5" y2="541.8" stroke="#888" stroke-width="0.7"/>
<line x1="384.0" y1="497.97441860465113" x2="385.5" y2="497.97441860465113" stroke="#888" stroke-width="0.7"/>
<line x1="427.5" y1="540.3" x2="427.5" y2="541.8" stroke="#888" stroke-width="0.7"/>
<line x1="384.0" y1="476.81162790697675" x2="385.5" y2="476.81162790697675" stroke="#888" stroke-width="0.7"/>
<line x1="448.5" y1="540.3" x2="448.5" y2="541.8" stroke="#888" stroke-width="0.7"/>
<line x1="384.0" y1="455.6488372093023" x2="385.5" y2="455.6488372093023" stroke="#888" stroke-width="0.7"/>
<line x1="469.5" y1="540.3" x2="469.5" y2="541.8" stroke="#888" stroke-width="0.7"/>
<text x="431.1" y="443.1" font-size="12" text-anchor="middle" font-weight="normal" fill="#111">CLP</text>
<path d="M405.5 538.5C406.3 537.8 409.3 536.4 411.5 535.5C413.7 534.6 416.0 533.6 418.5 533.0C421.0 532.4 423.8 532.0 426.5 532.0C429.2 532.0 432.2 532.4 434.5 533.0C436.8 533.6 438.7 534.6 440.5 535.5C442.3 536.4 444.8 537.8 445.5 538.5C446.2 539.2 451.0 539.8 444.5 540.0C438.0 540.2 413.0 540.2 406.5 540.0C400.0 539.8 404.7 539.2 405.5 538.5Z" fill="none" stroke="#555" stroke-width="0.5"/>
<path d="M408.6 538.6C409.4 538.0 411.9 536.9 413.8 536.1C415.6 535.3 417.6 534.5 419.7 534.0C421.8 533.5 424.2 533.1 426.5 533.1C428.8 533.1 431.3 533.5 433.3 534.0C435.3 534.5 436.8 535.3 438.4 536.1C440.0 536.9 442.1 538.0 442.6 538.6C443.2 539.3 447.3 539.7 441.8 539.9C436.3 540.1 415.0 540.1 409.5 539.9C404.0 539.7 407.9 539.3 408.6 538.6Z" fill="none" stroke="#555" stroke-width="0.5"/>
<ellipse cx="426.5" cy="537.6" rx="16" ry="1.7" fill="#333" opacity="0.6"/>
<path d="M415.5 536.3Q417.5 533.6 426.5 533.4Q436.0 533.6 438.0 536.3Q426.5 535 415.5 536.3Z" fill="#000" stroke="#000" stroke-width="1.1" stroke-linejoin="round"/>
<path d="M408.1 538.8C402.8 537.8 410.5 534.8 411.9 532.7C413.3 530.7 416.1 528.8 416.5 526.5C416.9 524.2 414.8 521.1 414.2 518.8C413.6 516.5 412.3 514.8 412.7 512.7C413.1 510.7 415.4 508.4 416.5 506.5C417.6 504.6 418.2 502.6 419.6 501.2C421.0 499.8 423.3 498.8 425.0 498.1C426.7 497.5 428.1 497.1 429.6 497.3C431.1 497.6 432.8 498.3 434.2 499.6C435.6 500.9 436.8 503.1 438.1 505.0C439.4 506.9 441.5 508.9 441.9 511.2C442.3 513.5 440.3 516.2 440.4 518.8C440.5 521.3 443.0 524.2 442.7 526.5C442.4 528.8 438.7 530.7 438.8 532.7C438.9 534.8 448.6 537.8 443.5 538.8C438.4 539.8 413.4 539.8 408.1 538.8Z" fill="none" stroke="#777" stroke-width="0.45"/>
<path d="M410.0 537.5C405.2 536.6 412.1 533.9 413.4 532.0C414.7 530.2 417.2 528.5 417.6 526.5C417.9 524.4 416.1 521.6 415.5 519.5C414.9 517.5 413.8 515.9 414.1 514.0C414.5 512.2 416.5 510.2 417.6 508.4C418.6 506.7 419.1 504.9 420.3 503.7C421.6 502.4 423.7 501.5 425.2 500.9C426.7 500.3 428.0 499.9 429.3 500.2C430.7 500.4 432.2 501.1 433.5 502.2C434.8 503.4 435.8 505.4 437.0 507.1C438.1 508.8 440.1 510.6 440.4 512.7C440.8 514.8 438.9 517.2 439.1 519.5C439.2 521.8 441.4 524.4 441.1 526.5C440.9 528.5 437.5 530.2 437.6 532.0C437.7 533.9 446.5 536.6 441.9 537.5C437.2 538.4 414.7 538.4 410.0 537.5Z" fill="none" stroke="#777" stroke-width="0.45"/>
<path d="M411.9 536.2C407.7 535.4 413.8 533.0 414.9 531.4C416.0 529.7 418.3 528.3 418.6 526.4C418.9 524.5 417.3 522.1 416.8 520.2C416.3 518.4 415.3 517.0 415.6 515.4C415.9 513.7 417.7 511.9 418.6 510.4C419.5 508.9 419.9 507.3 421.1 506.2C422.2 505.0 424.1 504.2 425.4 503.7C426.7 503.2 427.9 502.8 429.1 503.0C430.3 503.2 431.6 503.9 432.8 504.9C433.9 505.9 434.9 507.7 435.9 509.2C436.9 510.7 438.6 512.3 438.9 514.2C439.2 516.0 437.6 518.2 437.7 520.2C437.8 522.3 439.8 524.5 439.6 526.4C439.3 528.3 436.3 529.7 436.4 531.4C436.5 533.0 444.3 535.4 440.2 536.2C436.1 537.1 416.1 537.1 411.9 536.2Z" fill="none" stroke="#777" stroke-width="0.45"/>
<path d="M413.8 535.0C410.1 534.2 415.5 532.1 416.4 530.7C417.4 529.3 419.4 528.0 419.6 526.4C419.9 524.7 418.5 522.6 418.0 521.0C417.6 519.3 416.7 518.1 417.0 516.7C417.3 515.3 418.8 513.7 419.6 512.4C420.5 511.0 420.8 509.6 421.8 508.6C422.8 507.7 424.4 506.9 425.6 506.5C426.8 506.0 427.7 505.7 428.8 505.9C429.9 506.1 431.0 506.6 432.0 507.5C433.0 508.4 433.9 509.9 434.8 511.3C435.7 512.7 437.2 514.0 437.4 515.6C437.7 517.2 436.3 519.2 436.4 521.0C436.5 522.7 438.2 524.7 438.0 526.4C437.8 528.0 435.2 529.3 435.3 530.7C435.4 532.1 442.1 534.2 438.6 535.0C435.0 535.7 417.5 535.7 413.8 535.0Z" fill="none" stroke="#777" stroke-width="0.45"/>
<path d="M425.5 518.0C425.5 520.9 425.2 524.4 424.7 526.8C424.3 529.2 423.5 531.4 422.7 532.3C422.0 533.2 421.0 533.2 420.3 532.3C419.5 531.4 418.7 529.2 418.3 526.8C417.8 524.4 417.5 520.9 417.5 518.0C417.5 515.1 417.8 511.6 418.3 509.2C418.7 506.8 419.5 504.6 420.3 503.7C421.0 502.8 422.0 502.8 422.7 503.7C423.5 504.6 424.3 506.8 424.7 509.2C425.2 511.6 425.5 515.1 425.5 518.0Z" fill="none" stroke="#555" stroke-width="0.5"/>
<path d="M424.7 518.4C424.7 520.8 424.5 523.6 424.1 525.5C423.7 527.4 423.1 529.1 422.5 529.8C421.9 530.5 421.1 530.5 420.5 529.8C419.9 529.1 419.3 527.4 418.9 525.5C418.5 523.6 418.3 520.8 418.3 518.4C418.3 516.0 418.5 513.2 418.9 511.3C419.3 509.4 419.9 507.7 420.5 507.0C421.1 506.3 421.9 506.3 422.5 507.0C423.1 507.7 423.7 509.4 424.1 511.3C424.5 513.2 424.7 516.0 424.7 518.4Z" fill="none" stroke="#555" stroke-width="0.5"/>
<path d="M423.9 518.8C423.9 520.6 423.7 522.7 423.4 524.1C423.2 525.5 422.7 526.8 422.2 527.4C421.8 527.9 421.2 527.9 420.8 527.4C420.3 526.8 419.8 525.5 419.6 524.1C419.3 522.7 419.1 520.6 419.1 518.8C419.1 517.0 419.3 514.9 419.6 513.5C419.8 512.1 420.3 510.8 420.8 510.2C421.2 509.7 421.8 509.7 422.2 510.2C422.7 510.8 423.2 512.1 423.4 513.5C423.7 514.9 423.9 517.0 423.9 518.8Z" fill="none" stroke="#555" stroke-width="0.5"/>
<path d="M423.2 519.2C423.2 520.4 423.1 521.9 422.9 522.9C422.7 523.9 422.3 524.8 422.0 525.2C421.7 525.5 421.3 525.5 421.0 525.2C420.7 524.8 420.3 523.9 420.1 522.9C419.9 521.9 419.8 520.4 419.8 519.2C419.8 517.9 419.9 516.5 420.1 515.5C420.3 514.5 420.7 513.5 421.0 513.2C421.3 512.8 421.7 512.8 422.0 513.2C422.3 513.5 422.7 514.5 422.9 515.5C423.1 516.5 423.2 517.9 423.2 519.2Z" fill="none" stroke="#555" stroke-width="0.5"/>
<path d="M422.5 519.5C422.5 520.2 422.4 521.1 422.3 521.7C422.2 522.3 422.0 522.8 421.8 523.1C421.6 523.3 421.4 523.3 421.2 523.1C421.0 522.8 420.8 522.3 420.7 521.7C420.6 521.1 420.5 520.2 420.5 519.5C420.5 518.8 420.6 517.9 420.7 517.3C420.8 516.7 421.0 516.2 421.2 515.9C421.4 515.7 421.6 515.7 421.8 515.9C422.0 516.2 422.2 516.7 422.3 517.3C422.4 517.9 422.5 518.8 422.5 519.5Z" fill="none" stroke="#555" stroke-width="0.5"/>
<path d="M435.9 518.0C435.9 520.9 435.6 524.4 435.1 526.8C434.7 529.2 433.9 531.4 433.1 532.3C432.4 533.2 431.4 533.2 430.7 532.3C429.9 531.4 429.1 529.2 428.7 526.8C428.2 524.4 427.9 520.9 427.9 518.0C427.9 515.1 428.2 511.6 428.7 509.2C429.1 506.8 429.9 504.6 430.7 503.7C431.4 502.8 432.4 502.8 433.1 503.7C433.9 504.6 434.7 506.8 435.1 509.2C435.6 511.6 435.9 515.1 435.9 518.0Z" fill="none" stroke="#555" stroke-width="0.5"/>
<path d="M435.1 518.4C435.1 520.8 434.9 523.6 434.5 525.5C434.1 527.4 433.5 529.1 432.9 529.8C432.3 530.5 431.5 530.5 430.9 529.8C430.3 529.1 429.7 527.4 429.3 525.5C428.9 523.6 428.7 520.8 428.7 518.4C428.7 516.0 428.9 513.2 429.3 511.3C429.7 509.4 430.3 507.7 430.9 507.0C431.5 506.3 432.3 506.3 432.9 507.0C433.5 507.7 434.1 509.4 434.5 511.3C434.9 513.2 435.1 516.0 435.1 518.4Z" fill="none" stroke="#555" stroke-width="0.5"/>
<path d="M434.3 518.8C434.3 520.6 434.1 522.7 433.8 524.1C433.6 525.5 433.1 526.8 432.6 527.4C432.2 527.9 431.6 527.9 431.2 527.4C430.7 526.8 430.2 525.5 430.0 524.1C429.7 522.7 429.5 520.6 429.5 518.8C429.5 517.0 429.7 514.9 430.0 513.5C430.2 512.1 430.7 510.8 431.2 510.2C431.6 509.7 432.2 509.7 432.6 510.2C433.1 510.8 433.6 512.1 433.8 513.5C434.1 514.9 434.3 517.0 434.3 518.8Z" fill="none" stroke="#555" stroke-width="0.5"/>
<path d="M433.6 519.2C433.6 520.4 433.5 521.9 433.3 522.9C433.1 523.9 432.7 524.8 432.4 525.2C432.1 525.5 431.7 525.5 431.4 525.2C431.1 524.8 430.7 523.9 430.5 522.9C430.3 521.9 430.2 520.4 430.2 519.2C430.2 517.9 430.3 516.5 430.5 515.5C430.7 514.5 431.1 513.5 431.4 513.2C431.7 512.8 432.1 512.8 432.4 513.2C432.7 513.5 433.1 514.5 433.3 515.5C433.5 516.5 433.6 517.9 433.6 519.2Z" fill="none" stroke="#555" stroke-width="0.5"/>
<path d="M432.9 519.5C432.9 520.2 432.8 521.1 432.7 521.7C432.6 522.3 432.4 522.8 432.2 523.1C432.0 523.3 431.8 523.3 431.6 523.1C431.4 522.8 431.2 522.3 431.1 521.7C431.0 521.1 430.9 520.2 430.9 519.5C430.9 518.8 431.0 517.9 431.1 517.3C431.2 516.7 431.4 516.2 431.6 515.9C431.8 515.7 432.0 515.7 432.2 515.9C432.4 516.2 432.6 516.7 432.7 517.3C432.8 517.9 432.9 518.8 432.9 519.5Z" fill="none" stroke="#555" stroke-width="0.5"/>
<path d="M424.1 502.0C424.3 504.0 424.7 510.3 425.1 514.0C425.5 517.7 426.2 524.0 426.7 524.0C427.2 524.0 427.9 517.7 428.3 514.0C428.7 510.3 429.1 504.0 429.3 502.0" fill="none" stroke="#888" stroke-width="0.45"/>
<path d="M425.0 506.0C425.1 507.3 425.3 510.8 425.6 514.0C425.9 517.2 426.3 525.5 426.7 525.5C427.1 525.5 427.5 517.2 427.8 514.0C428.1 510.8 428.3 507.3 428.4 506.0" fill="none" stroke="#888" stroke-width="0.45"/>
<ellipse cx="432.7" cy="487.6" rx="5.6" ry="7.6" fill="none" stroke="#777" stroke-width="0.5"/>
<ellipse cx="432.7" cy="488.0" rx="4.2" ry="5.7" fill="none" stroke="#777" stroke-width="0.5"/>
<ellipse cx="432.7" cy="488.4" rx="2.8" ry="3.8" fill="none" stroke="#777" stroke-width="0.5"/>
<ellipse cx="432.7" cy="488.7" rx="1.7" ry="2.3" fill="none" stroke="#777" stroke-width="0.5"/>
<ellipse cx="432.7" cy="489.0" rx="0.7" ry="0.9" fill="none" stroke="#777" stroke-width="0.5"/>
<path d="M413.7 474.8h.7M430.0 469.7h.7M424.3 488.8h.7M400.4 498.0h.7M399.4 493.2h.7M401.0 470.9h.7M418.7 518.7h.7M403.7 479.5h.7M428.9 526.6h.7" fill="none" stroke="#777" stroke-width="0.7"/>
<rect x="385.8" y="456.1" width="38.6" height="38.3" fill="none" stroke="#111" stroke-width="1.2"/>
<rect x="427.5" y="456.1" width="33" height="38.3" fill="none" stroke="#111" stroke-width="1.2"/>
<rect x="427.5" y="498.4" width="33" height="41.9" fill="none" stroke="#111" stroke-width="1.2"/>
<text x="390.3" y="470.8" font-size="12" text-anchor="start" font-weight="normal" fill="#111">0</text>
<text x="456.5" y="470.8" font-size="12" text-anchor="end" font-weight="normal" fill="#111">6</text>
<text x="457.9" y="536.4" font-size="12" text-anchor="end" font-weight="normal" fill="#111">50</text>
<text x="273" y="515" font-size="11.8" text-anchor="middle" font-weight="normal" fill="#111" transform="rotate(-90 273 515)">CCR9</text>
<text x="291" y="556.5" font-size="11.8" text-anchor="start" font-weight="normal" fill="#111">CCR7</text>
<text x="5.7" y="586.5" font-size="25.2" text-anchor="start" font-weight="bold" fill="#000">E</text>
<defs><filter id="kb0" x="-20%" y="-20%" width="140%" height="140%"><feGaussianBlur stdDeviation="1.3"/></filter><clipPath id="kc0"><rect x="84.4" y="585.0" width="91.29999999999998" height="90.20000000000005"/></clipPath><clipPath id="clipR0"><path d="M134.8 675.0C127.6 672.6 133.2 664.8 132.4 660.8C131.6 656.8 130.6 653.7 130.0 651.0C129.4 648.3 128.8 646.3 129.0 644.5C129.2 642.7 130.5 641.7 131.5 640.0C132.5 638.3 133.9 636.7 134.8 634.5C135.7 632.3 136.2 629.2 137.0 627.0C137.8 624.8 138.4 623.1 139.5 621.5C140.6 619.9 141.8 618.4 143.5 617.3C145.2 616.1 147.4 615.1 150.0 614.6C152.6 614.1 156.1 613.6 159.0 614.2C161.9 614.8 165.2 616.5 167.5 618.2C169.8 619.9 171.4 622.2 172.7 624.5C173.9 626.8 174.5 628.6 175.0 632.0C175.5 635.4 175.5 637.8 175.6 645.0C175.7 652.2 182.4 670.0 175.6 675.0C168.8 680.0 142.0 677.4 134.8 675.0Z"/></clipPath></defs>
<g clip-path="url(#kc0)">
<g filter="url(#kb0)" opacity="0.8">
<path d="M103.3 601.2C103.8 600.6 104.5 598.7 106.0 597.8C107.5 596.9 109.3 596.5 112.0 596.0C114.7 595.5 118.8 595.1 122.0 595.0C125.2 594.9 128.7 595.1 131.0 595.5C133.3 595.9 134.2 596.8 135.6 597.6C137.0 598.4 138.6 599.4 139.5 600.5C140.4 601.6 141.0 603.4 141.3 604.0" fill="none" stroke="#000" stroke-width="3.2"/>
<path d="M141.3 604.0C141.2 605.3 141.2 609.3 141.0 612.0C140.8 614.7 140.5 617.4 140.0 620.0C139.5 622.6 138.8 625.2 138.0 627.5C137.2 629.8 136.4 632.0 135.5 634.0C134.6 636.0 133.0 638.6 132.5 639.5" fill="none" stroke="#000" stroke-width="7"/>
<path d="M132.5 639.5C132.0 640.2 130.4 643.4 129.5 643.5C128.6 643.6 127.8 641.2 127.0 640.0C126.2 638.8 125.0 637.9 124.5 636.5C124.0 635.1 124.5 633.1 123.9 631.6C123.3 630.1 121.8 628.7 121.0 627.5C120.2 626.3 119.4 625.5 119.0 624.3C118.6 623.0 118.9 621.2 118.8 620.0C118.7 618.8 119.0 618.1 118.5 617.0C118.0 615.9 116.8 614.5 116.0 613.5C115.2 612.5 114.6 611.8 113.6 611.0C112.6 610.2 111.2 609.3 110.0 608.5C108.8 607.7 107.3 606.9 106.3 606.1C105.3 605.3 104.5 604.3 104.0 603.5C103.5 602.7 103.4 601.6 103.3 601.2" fill="none" stroke="#000" stroke-width="10.5"/>
<path d="M129.5 643.5C129.1 642.9 127.8 641.2 127.0 640.0C126.2 638.8 125.0 637.9 124.5 636.5C124.0 635.1 124.5 633.1 123.9 631.6C123.3 630.1 121.8 628.7 121.0 627.5C120.2 626.3 119.4 625.5 119.0 624.3C118.6 623.0 118.9 621.2 118.8 620.0C118.7 618.8 119.0 618.1 118.5 617.0C118.0 615.9 116.8 614.5 116.0 613.5C115.2 612.5 114.6 611.8 113.6 611.0C112.6 610.2 111.2 609.3 110.0 608.5C108.8 607.7 107.3 606.9 106.3 606.1C105.3 605.3 104.5 604.3 104.0 603.5C103.5 602.7 103.4 601.6 103.3 601.2" fill="none" stroke="#000" stroke-width="26" opacity="0.5"/>
<path d="M134.8 675.0C134.4 672.6 133.2 664.8 132.4 660.8C131.6 656.8 130.6 653.7 130.0 651.0C129.4 648.3 128.8 646.3 129.0 644.5C129.2 642.7 131.1 640.8 131.5 640.0" fill="none" stroke="#000" stroke-width="11"/>
<path d="M134.8 675.0C134.4 672.6 133.2 664.8 132.4 660.8C131.6 656.8 130.6 653.7 130.0 651.0C129.4 648.3 128.8 646.3 129.0 644.5C129.2 642.7 131.1 640.8 131.5 640.0" fill="none" stroke="#000" stroke-width="24" opacity="0.45"/>
<path d="M131.5 640.0C132.1 639.1 133.9 636.7 134.8 634.5C135.7 632.3 136.2 629.2 137.0 627.0C137.8 624.8 138.4 623.1 139.5 621.5C140.6 619.9 141.8 618.4 143.5 617.3C145.2 616.1 147.4 615.1 150.0 614.6C152.6 614.1 156.1 613.6 159.0 614.2C161.9 614.8 165.2 616.5 167.5 618.2C169.8 619.9 171.8 623.5 172.7 624.5" fill="none" stroke="#000" stroke-width="6.5"/>
</g>
<g transform="scale(.1)"><path d="M1028 5859h8m469 1h8m-5 2h8m95 2h8m-144 6h8m174 1h8m10 0h8m-137 3h8m-69 2h8m237 0h8m-178 3h8m-53 4h8m-34 1h8m-233 1h8m429 1h8m-659 6h8m48 0h8m131 0h8m16 0h8m45 0h8m-288 1h8m-5 0h8m72 0h8m215 0h8m-324 1h8m1 0h8m16 0h8m227 0h8m60 0h8m9 0h8m-279 1h8m7 0h8m36 0h8m-7 0h8m38 0h8m21 0h8m38 0h8m7 0h8m9 0h8m17 0h8m-1 0h8m8 0h8m100 0h8m-374 1h8m8 0h8m58 0h8m29 0h8m35 0h8m72 0h8m-373 1h8m421 0h8m-439 1h8m6 0h8m15 0h8m18 0h8m55 0h8m-2 0h8m-59 1h8m88 0h8m47 0h8m113 0h8m176 0h8m-499 1h8m196 0h8m128 0h8m5 0h8m-394 1h8m236 0h8m70 0h8m83 0h8m-354 1h8m59 0h8m61 0h8m8 0h8m2 0h8m-238 1h8m49 0h8m14 0h8m-7 0h8m198 0h8m66 0h8m-365 1h8m63 0h8m6 0h8m37 0h8m14 0h8m118 0h8m80 0h8m-343 1h8m12 0h8m169 0h8m24 0h8m22 0h8m222 0h8m81 0h8m-463 1h8m13 0h8m25 0h8m105 0h8m25 0h8m52 0h8m-295 1h8m95 0h8m6 0h8m10 0h8m-265 1h8m83 0h8m7 0h8m100 0h8m71 0h8m60 0h8m10 0h8m40 0h8m45 0h8m-497 1h8m4 0h8m6 0h8m19 0h8m79 0h8m86 0h8m19 0h8m12 0h8m99 0h8m113 0h8m12 0h8m-471 1h8m3 0h8m96 0h8m3 0h8m105 0h8m69 0h8m124 0h8m-517 1h8m110 0h8m211 0h8m-339 1h8m13 0h8m146 0h8m11 0h8m29 0h8m64 0h8m48 0h8m11 0h8m-390 1h8m58 0h8m-5 0h8m167 0h8m28 0h8m30 0h8m36 0h8m-1 0h8m112 0h8m-453 1h8m68 0h8m100 0h8m16 0h8m60 0h8m-286 1h8m-3 0h8m-7 0h8m117 0h8m10 0h8m44 0h8m45 0h8m161 0h8m-5 0h8m-5 0h8m-495 1h8m119 0h8m115 0h8m19 0h8m51 0h8m23 0h8m31 0h8m48 0h8m48 0h8m-346 1h8m30 0h8m30 0h8m10 0h8m47 0h8m78 0h8m3 0h8m53 0h8m213 0h8m-578 1h8m90 0h8m184 0h8m-440 1h8m58 0h8m11 0h8m57 0h8m64 0h8m1 0h8m124 0h8m136 0h8m-510 1h8m16 0h8m2 0h8m21 0h8m78 0h8m35 0h8m114 0h8m-5 0h8m17 0h8m52 0h8m-174 1h8m50 0h8m14 0h8m19 0h8m53 0h8m16 0h8m43 0h8m1 0h8m8 0h8m9 0h8m-395 1h8m139 0h8m69 0h8m-233 1h8m291 0h8m-330 1h8m103 0h8m31 0h8m-7 0h8m68 0h8m70 0h8m4 0h8m-441 1h8m318 0h8m92 0h8m54 0h8m-411 1h8m98 0h8m37 0h8m-2 0h8m142 0h8m30 0h8m74 0h8m-517 1h8m4 0h8m33 0h8m97 0h8m10 0h8m146 0h8m180 0h8m47 0h8m-538 1h8m59 0h8m135 0h8m-3 0h8m5 0h8m15 0h8m116 0h8m-7 0h8m77 0h8m144 0h8m-633 1h8m80 0h8m213 0h8m-257 1h8m157 0h8m64 0h8m54 0h8m239 0h8m-569 1h8m87 0h8m34 0h8m17 0h8m22 0h8m-7 0h8m223 0h8m-431 1h8m125 0h8m127 0h8m4 0h8m59 0h8m64 0h8m62 0h8m-502 1h8m83 0h8m6 0h8m8 0h8m72 0h8m230 0h8m-519 1h8m6 0h8m13 0h8m110 0h8m0 0h8m9 0h8m93 0h8m38 0h8m71 0h8m79 0h8m-423 1h8m16 0h8m3 0h8m84 0h8m128 0h8m37 0h8m32 0h8m-406 1h8m7 0h8m88 0h8m19 0h8m54 0h8m14 0h8m-3 0h8m70 0h8m30 0h8m7 0h8m22 0h8m0 0h8m52 0h8m27 0h8m-310 1h8m24 0h8m6 0h8m196 0h8m13 0h8m-496 1h8m41 0h8m24 0h8m10 0h8m14 0h8m105 0h8m33 0h8m109 0h8m95 0h8m-382 1h8m7 0h8m131 0h8m70 0h8m-336 1h8m113 0h8m45 0h8m21 0h8m477 0h8m-650 1h8m61 0h8m-8 0h8m72 0h8m87 0h8m13 0h8m24 0h8m123 0h8m243 0h8m-741 1h8m30 0h8m17 0h8m35 0h8m-3 0h8m47 0h8m33 0h8m-45 1h8m42 0h8m37 0h8m188 0h8m-488 1h8m1 0h8m110 0h8m59 0h8m102 0h8m138 0h8m33 0h8m-468 1h8m70 0h8m8 0h8m89 0h8m-8 0h8m-103 1h8m47 0h8m9 0h8m105 0h8m87 0h8m78 0h8m18 0h8m-427 1h8m5 0h8m85 0h8m29 0h8m178 0h8m-439 1h8m46 0h8m91 0h8m184 0h8m211 0h8m-517 1h8m-3 0h8m157 0h8m63 0h8m119 0h8m30 0h8m-435 1h8m-2 0h8m81 0h8m42 0h8m-7 0h8m-32 1h8m5 0h8m133 0h8m159 0h8m-396 1h8m33 0h8m39 0h8m296 0h8m-61 1h8m35 0h8m64 0h8m-539 1h8m27 0h8m12 0h8m71 0h8m26 0h8m300 0h8m6 0h8m-468 1h8m27 0h8m73 0h8m342 0h8m49 0h8m-554 1h8m78 0h8m326 0h8m41 0h8m3 0h8m-422 1h8m40 0h8m203 0h8m154 0h8m7 0h8m-6 0h8m9 0h8m-496 1h8m296 0h8m75 0h8m14 0h8m148 0h8m-606 1h8m94 0h8m218 0h8m-224 1h8m358 0h8m-474 1h8m327 0h8m29 0h8m-396 2h8m6 0h8m5 0h8m37 0h8m-4 0h8m299 0h8m102 0h8m-481 1h8m484 0h8m-478 1h8m-5 0h8m0 0h8m339 0h8m98 0h8m-478 1h8m317 0h8m108 0h8m2 0h8m8 0h8m-149 1h8m-381 1h8m65 0h8m340 0h8m51 0h8m15 0h8m-5 0h8m-8 0h8m3 0h8m-512 1h8m335 0h8m109 0h8m-441 1h8m12 0h8m293 0h8m10 0h8m58 0h8m28 0h8m39 0h8m-534 1h8m21 0h8m364 0h8m90 0h8m26 0h8m-120 1h8m95 0h8m-164 1h8m2 0h8m-5 0h8m66 0h8m16 0h8m-5 0h8m-458 2h8m-8 0h8m-8 0h8m8 0h8m313 0h8m137 0h8m-496 1h8m419 0h8m1 0h8m-419 1h8m417 1h8m-447 1h8m349 0h8m10 0h8m-2 0h8m9 0h8m-412 1h8m361 0h8m13 0h8m305 0h8m-728 1h8m25 0h8m-3 0h8m384 0h8m-443 1h8m12 0h8m456 0h8m-126 1h8m9 0h8m55 0h8m-482 1h8m26 0h8m398 0h8m219 0h8m-640 1h8m35 0h8m366 0h8m89 0h8m2 0h8m-622 1h8m23 0h8m475 0h8m43 0h8m-623 1h8m48 0h8m0 0h8m6 0h8m26 0h8m11 0h8m29 0h8m492 0h8m10 0h8m-663 1h8m76 0h8m24 0h8m388 0h8m30 0h8m48 0h8m22 0h8m-571 1h8m35 0h8m400 0h8m96 0h8m-609 1h8m16 0h8m64 0h8m441 0h8m41 0h8m-26 1h8m-603 1h8m105 0h8m420 0h8m6 0h8m17 0h8m-555 1h8m63 0h8m-5 0h8m5 0h8m-135 1h8m539 0h8m58 0h8m104 0h8m-736 1h8m35 0h8m508 0h8m-607 1h8m93 0h8m-4 0h8m522 0h8m14 0h8m-128 1h8m-4 0h8m84 0h8m100 0h8m-681 1h8m12 0h8m530 0h8m45 0h8m-131 1h8m38 0h8m-2 0h8m26 0h8m13 0h8m-569 1h8m537 0h8m-600 1h8m9 0h8m476 0h8m-525 1h8m78 0h8m409 0h8m65 0h8m-539 1h8m567 0h8m12 0h8m-642 1h8m554 0h8m5 0h8m4 0h8m-574 1h8m88 0h8m436 0h8m147 0h8m-659 1h8m457 0h8m43 0h8m26 0h8m-525 1h8m455 0h8m8 0h8m30 0h8m87 0h8m-664 2h8m28 0h8m32 0h8m435 0h8m-8 0h8m7 0h8m-485 1h8m9 0h8m420 0h8m-546 1h8m16 0h8m-4 0h8m-2 0h8m-1 0h8m5 0h8m426 0h8m64 0h8m-544 1h8m450 0h8m68 0h8m10 0h8m37 0h8m-608 1h8m49 0h8m5 0h8m-18 1h8m403 0h8m-3 0h8m76 0h8m-643 1h8m20 0h8m10 0h8m107 0h8m420 0h8m-2 0h8m7 0h8m7 0h8m-501 1h8m11 0h8m391 0h8m97 0h8m28 0h8m144 0h8m-814 1h8m52 0h8m445 0h8m49 0h8m-7 0h8m10 0h8m-31 1h8m52 0h8m-599 1h8m4 0h8m42 0h8m482 0h8m5 0h8m-609 2h8m44 0h8m15 0h8m26 0h8m-3 0h8m-7 0h8m494 0h8m-5 0h8m-526 1h8m406 0h8m-531 1h8m0 0h8m5 0h8m17 0h8m41 0h8m8 0h8m411 0h8m73 0h8m58 0h8m-675 1h8m-3 0h8m2 0h8m37 0h8m29 0h8m8 0h8m400 0h8m-526 1h8m15 0h8m43 0h8m-7 0h8m-1 0h8m-3 0h8m-8 0h8m463 0h8m55 0h8m-587 1h8m71 0h8m386 0h8m4 0h8m-1 0h8m22 0h8m16 0h8m23 0h8m-668 1h8m26 0h8m-6 0h8m578 0h8m8 0h8m-600 1h8m25 0h8m0 0h8m59 0h8m439 0h8m3 0h8m-599 1h8m6 0h8m36 0h8m10 0h8m60 0h8m488 0h8m-517 1h8m461 0h8m17 0h8m-636 1h8m1 0h8m75 1h8m5 0h8m26 0h8m474 0h8m166 0h8m-763 1h8m10 0h8m24 0h8m4 0h8m418 0h8m48 0h8m27 0h8m116 0h8m-694 1h8m-4 0h8m55 0h8m8 0h8m392 0h8m44 0h8m206 0h8m-832 1h8m126 0h8m456 0h8m33 0h8m14 0h8m-613 1h8m-6 0h8m17 0h8m516 0h8m-505 1h8m431 0h8m0 0h8m27 0h8m20 0h8m-589 1h8m84 0h8m-3 0h8m440 0h8m30 0h8m11 0h8m-610 1h8m65 0h8m-4 0h8m2 0h8m14 0h8m497 0h8m147 0h8m-833 1h8m10 0h8m13 0h8m-8 0h8m29 0h8m99 0h8m374 0h8m-488 1h8m39 0h8m-1 0h8m5 0h8m508 0h8m5 0h8m-512 1h8m460 0h8m43 0h8m-637 1h8m5 0h8m-1 0h8m54 0h8m-7 0h8m450 0h8m-2 0h8m25 0h8m192 0h8m-755 1h8m56 0h8m497 0h8m-570 1h8m33 0h8m425 0h8m44 0h8m21 0h8m-607 1h8m6 0h8m24 0h8m46 0h8m27 0h8m371 0h8m-7 0h8m-3 0h8m82 0h8m-614 1h8m67 0h8m483 0h8m-1 0h8m-513 1h8m39 0h8m457 0h8m21 0h8m-605 1h8m-2 0h8m16 0h8m15 0h8m15 0h8m-57 1h8m21 0h8m431 0h8m12 0h8m26 0h8m183 0h8m-779 1h8m42 0h8m53 0h8m-2 0h8m452 0h8m1 0h8m-8 0h8m11 0h8m-582 1h8m7 0h8m34 0h8m2 0h8m15 0h8m22 0h8m385 0h8m93 0h8m-522 1h8m-1 0h8m4 0h8m439 0h8m-614 1h8m20 0h8m13 0h8m9 0h8m43 0h8m39 0h8m453 0h8m-584 1h8m66 0h8m30 0h8m-136 1h8m28 0h8m63 0h8m379 0h8m66 0h8m-83 1h8m2 0h8m4 0h8m46 0h8m-2 0h8m-5 0h8m0 0h8m8 0h8m122 0h8m-786 1h8m63 0h8m19 0h8m517 0h8m-1 0h8m6 0h8m33 0h8m-556 1h8m-6 0h8m1 0h8m389 0h8m-477 1h8m62 0h8m-4 0h8m-2 0h8m383 0h8m-492 1h8m23 0h8m79 0h8m369 0h8m-387 1h8m371 0h8m68 0h8m-574 1h8m-1 0h8m38 0h8m14 0h8m468 0h8m53 0h8m-660 1h8m116 0h8m9 0h8m3 0h8m369 0h8m62 0h8m167 0h8m-806 1h8m22 0h8m68 0h8m41 0h8m424 0h8m-4 0h8m-570 1h8m99 0h8m392 0h8m-8 0h8m76 0h8m-8 0h8m-607 1h8m66 0h8m29 0h8m396 0h8m-6 0h8m20 0h8m50 0h8m6 0h8m-639 1h8m17 0h8m48 0h8m36 0h8m17 0h8m374 0h8m17 0h8m36 0h8m-604 1h8m81 0h8m24 0h8m12 0h8m8 0h8m453 0h8m130 0h8m-688 1h8m-6 0h8m2 0h8m-3 0h8m31 0h8m-5 0h8m5 0h8m425 0h8m155 0h8m102 0h8m-860 1h8m6 0h8m20 0h8m33 0h8m25 0h8m55 0h8m385 0h8m-488 1h8m15 0h8m5 0h8m-5 0h8m11 0h8m25 0h8m386 0h8m-419 1h8m-167 1h8m0 0h8m45 0h8m22 0h8m18 0h8m11 0h8m437 0h8m13 0h8m59 0h8m-716 1h8m33 0h8m88 0h8m1 0h8m2 0h8m19 0h8m404 0h8m38 0h8m9 0h8m-622 1h8m24 0h8m-1 0h8m2 0h8m22 0h8m4 0h8m61 0h8m455 0h8m-589 1h8m62 0h8m-1 0h8m497 0h8m-590 1h8m6 0h8m23 0h8m78 0h8m380 0h8m-563 1h8m45 0h8m27 0h8m28 0h8m18 0h8m17 0h8m460 0h8m-700 1h8m67 0h8m2 0h8m65 0h8m423 0h8m-468 1h8m30 0h8m30 0h8m419 0h8m4 0h8m-4 0h8m0 0h8m-543 1h8m85 0h8m7 0h8m350 0h8m13 0h8m-605 1h8m15 0h8m11 0h8m5 0h8m1 0h8m38 0h8m15 0h8m586 0h8m-714 1h8m3 0h8m11 0h8m53 0h8m74 0h8m357 0h8m-430 1h8m5 0h8m0 0h8m-3 0h8m17 0h8m379 0h8m30 0h8m19 0h8m0 0h8m-572 1h8m50 0h8m3 0h8m-148 1h8m44 0h8m68 0h8m18 0h8m12 0h8m0 0h8m340 0h8m-2 0h8m-495 1h8m2 0h8m497 0h8m21 0h8m-578 1h8m2 0h8m39 0h8m43 0h8m33 0h8m348 0h8m-432 1h8m34 0h8m-8 0h8m10 0h8m356 0h8m18 0h8m-516 1h8m61 0h8m8 0h8m37 0h8m591 0h8m-739 1h8m34 0h8m52 0h8m380 0h8m192 0h8m-776 1h8m80 0h8m60 0h8m-7 0h8m17 0h8m6 0h8m-7 0h8m26 0h8m389 0h8m-623 1h8m1 0h8m66 0h8m41 0h8m46 0h8m19 0h8m2 0h8m424 0h8m-650 1h8m20 0h8m-1 0h8m80 0h8m1 0h8m47 0h8m17 0h8m11 0h8m320 0h8m89 0h8m-5 0h8m73 0h8m-722 1h8m-2 0h8m70 0h8m94 0h8m389 0h8m-3 0h8m134 0h8m-720 1h8m30 0h8m72 0h8m27 0h8m3 0h8m-216 1h8m148 0h8m74 0h8m419 0h8m153 0h8m-678 1h8m-6 0h8m31 0h8m37 0h8m-158 1h8m-6 0h8m116 0h8m426 0h8m-602 1h8m86 0h8m30 0h8m-4 0h8m7 0h8m-1 0h8m-3 0h8m467 0h8m118 0h8m-785 1h8m81 0h8m33 0h8m19 0h8m-161 1h8m14 0h8m35 0h8m6 0h8m23 0h8m385 0h8m201 0h8m44 0h8m-684 1h8m9 0h8m-8 0h8m39 0h8m18 0h8m2 0h8m310 0h8m-537 1h8m50 0h8m10 0h8m5 0h8m49 0h8m-5 0h8m3 0h8m15 0h8m-3 0h8m316 0h8m-516 1h8m118 0h8m0 0h8m-2 0h8m19 0h8m47 0h8m295 0h8m119 0h8m-663 1h8m39 0h8m16 0h8m17 0h8m-5 0h8m104 0h8m-5 0h8m307 0h8m11 0h8m123 0h8m45 0h8m-647 1h8m32 0h8m-4 0h8m-1 0h8m1 0h8m36 0h8m336 0h8m32 0h8m7 0h8m-622 1h8m148 0h8m51 0h8m6 0h8m349 0h8m58 0h8m-622 1h8m18 0h8m1 0h8m26 0h8m15 0h8m4 0h8m53 0h8m36 0h8m285 0h8m211 0h8m-763 1h8m-5 0h8m179 0h8m42 0h8m283 0h8m31 0h8m93 0h8m-619 1h8m44 0h8m3 0h8m11 0h8m51 0h8m321 0h8m11 0h8m55 0h8m-660 1h8m43 0h8m-2 0h8m145 0h8m35 0h8m0 0h8m378 0h8m50 0h8m-649 1h8m8 0h8m38 0h8m24 0h8m14 0h8m77 0h8m471 0h8m-662 1h8m15 0h8m9 0h8m16 0h8m15 0h8m8 0h8m9 0h8m21 0h8m35 0h8m-5 0h8m352 0h8m-638 1h8m135 0h8m78 0h8m26 0h8m276 0h8m0 0h8m125 0h8m2 0h8m-654 1h8m21 0h8m55 0h8m71 0h8m22 0h8m3 0h8m4 0h8m285 0h8m258 0h8m-798 1h8m128 0h8m50 0h8m335 0h8m78 0h8m-616 1h8m84 0h8m8 0h8m4 0h8m29 0h8m32 0h8m408 0h8m56 0h8m29 0h8m-784 1h8m36 0h8m38 0h8m44 0h8m8 0h8m23 0h8m38 0h8m499 0h8m-3 0h8m-765 1h8m84 0h8m63 0h8m119 0h8m336 0h8m49 0h8m-4 0h8m-520 1h8m13 0h8m356 0h8m56 0h8m-3 0h8m118 0h8m8 0h8m25 0h8m2 0h8m-730 1h8m-7 0h8m85 0h8m4 0h8m29 0h8m24 0h8m279 0h8m55 0h8m6 0h8m94 0h8m78 0h8m-768 1h8m78 0h8m-5 0h8m-5 0h8m8 0h8m79 0h8m20 0h8m262 0h8m-555 1h8m48 0h8m21 0h8m45 0h8m72 0h8m43 0h8m-7 0h8m374 0h8m162 0h8m-810 1h8m75 0h8m15 0h8m9 0h8m414 0h8m52 0h8m50 0h8m-4 0h8m-665 1h8m39 0h8m19 0h8m29 0h8m47 0h8m21 0h8m37 0h8m337 0h8m80 0h8m12 0h8m-4 0h8m21 0h8m-739 1h8m59 0h8m166 0h8m349 0h8m10 0h8m9 0h8m38 0h8m-663 1h8m-1 0h8m46 0h8m0 0h8m24 0h8m87 0h8m14 0h8m268 0h8m-4 0h8m114 0h8m107 0h8m5 0h8m-546 1h8m446 0h8m-660 1h8m202 0h8m-6 0h8m267 0h8m239 0h8m-750 1h8m19 0h8m-5 0h8m22 0h8m54 0h8m26 0h8m-6 0h8m411 0h8m22 0h8m116 0h8m-620 1h8m46 0h8m19 0h8m-1 0h8m20 0h8m267 0h8m54 0h8m30 0h8m-8 0h8m21 0h8m29 0h8m-3 0h8m-1 0h8m-649 1h8m66 0h8m71 0h8m31 0h8m291 0h8m64 0h8m59 0h8m119 0h8m-738 1h8m66 0h8m14 0h8m56 0h8m254 0h8m68 0h8m12 0h8m28 0h8m-613 1h8m17 0h8m-2 0h8m-2 0h8m13 0h8m33 0h8m370 0h8m66 0h8m74 0h8m-685 1h8m37 0h8m73 0h8m58 0h8m33 0h8m391 0h8m14 0h8m111 0h8m22 0h8m-724 1h8m49 0h8m3 0h8m14 0h8m21 0h8m299 0h8m276 0h8m-789 1h8m33 0h8m60 0h8m9 0h8m11 0h8m7 0h8m42 0h8m-7 0h8m-6 0h8m7 0h8m316 0h8m22 0h8m107 0h8m-626 1h8m47 0h8m30 0h8m-8 0h8m1 0h8m8 0h8m15 0h8m394 0h8m1 0h8m91 0h8m-699 1h8m-8 0h8m29 0h8m152 0h8m350 0h8m110 0h8m38 0h8m26 0h8m-845 1h8m24 0h8m12 0h8m66 0h8m-5 0h8m-4 0h8m19 0h8m112 0h8m-6 0h8m2 0h8m246 0h8m180 0h8m-714 1h8m124 0h8m-4 0h8m15 0h8m-6 0h8m23 0h8m362 0h8m-484 1h8m32 0h8m-7 0h8m40 0h8m55 0h8m3 0h8m289 0h8m20 0h8m140 0h8m-646 1h8m40 0h8m3 0h8m19 0h8m4 0h8m354 0h8m-487 1h8m17 0h8m60 0h8m40 0h8m11 0h8m278 0h8m39 0h8m7 0h8m174 0h8m-701 1h8m94 0h8m-2 0h8m17 0h8m314 0h8m63 0h8m-6 0h8m114 0h8m12 0h8m84 0h8m-705 1h8m-6 0h8m111 0h8m495 0h8m-686 1h8m9 0h8m45 0h8m-3 0h8m72 0h8m280 0h8m-475 1h8m7 0h8m-2 0h8m11 0h8m29 0h8m8 0h8m-7 0h8m-1 0h8m52 0h8m3 0h8m284 0h8m9 0h8m-4 0h8m-411 1h8m44 0h8m32 0h8m-6 0h8m-3 0h8m-7 0h8m28 0h8m262 0h8m-521 1h8m29 0h8m48 0h8m51 0h8m342 0h8m218 0h8m8 0h8m-718 1h8m28 0h8m139 0h8m289 0h8m205 0h8m30 0h8m-718 1h8m78 0h8m7 0h8m26 0h8m22 0h8m7 0h8m250 0h8m242 0h8m-6 0h8m-746 1h8m57 0h8m-2 0h8m-4 0h8m106 0h8m12 0h8m0 0h8m536 0h8m-681 1h8m-5 0h8m6 0h8m33 0h8m42 0h8m0 0h8m267 0h8m231 0h8m-726 1h8m111 0h8m60 0h8m9 0h8m514 0h8m-624 1h8m39 0h8m16 0h8m307 0h8m245 0h8m20 0h8m-617 1h8m23 0h8m2 0h8m10 0h8m534 0h8m-777 1h8m85 0h8m28 0h8m41 0h8m62 0h8m-291 1h8m30 0h8m93 0h8m28 0h8m37 0h8m293 0h8m289 0h8m-765 1h8m106 0h8m21 0h8m0 0h8m-200 1h8m95 0h8m48 0h8m2 0h8m18 0h8m27 0h8m-7 0h8m-196 1h8m14 0h8m26 0h8m20 0h8m-7 0h8m30 0h8m23 0h8m291 0h8m249 0h8m-663 1h8m10 0h8m-7 0h8m27 0h8m18 0h8m21 0h8m21 0h8m-3 0h8m-4 0h8m246 0h8m241 0h8m16 0h8m35 0h8m-723 1h8m-4 0h8m72 0h8m5 0h8m14 0h8m514 0h8m55 0h8m-875 2h8m65 0h8m45 0h8m165 0h8m5 0h8m514 0h8m-628 1h8m21 0h8m-7 0h8m1 0h8m11 0h8m283 0h8m253 0h8m51 0h8m-779 1h8m12 0h8m44 0h8m47 0h8m333 0h8m-319 1h8m31 0h8m7 0h8m225 0h8m273 0h8m43 0h8m-764 1h8m42 0h8m10 0h8m28 0h8m6 0h8m20 0h8m-142 1h8m23 0h8m43 0h8m33 0h8m12 0h8m18 0h8m489 0h8m5 0h8m-760 1h8m-3 0h8m28 0h8m-8 0h8m38 0h8m72 0h8m20 0h8m8 0h8m14 0h8m243 0h8m7 0h8m-7 0h8m261 0h8m-728 1h8m53 0h8m126 0h8m-248 1h8m205 0h8m21 0h8m-5 0h8m-5 0h8m228 0h8m3 0h8m280 0h8m-774 1h8m135 0h8m600 0h8m-704 1h8m14 0h8m43 0h8m591 0h8m8 0h8m-778 1h8m45 0h8m13 0h8m18 0h8m58 0h8m5 0h8m28 0h8m10 0h8m-8 0h8m8 0h8m9 0h8m480 0h8m-637 1h8m13 0h8m2 0h8m12 0h8m-3 0h8m22 0h8m46 0h8m483 0h8m-617 1h8m-3 0h8m9 0h8m63 0h8m517 0h8m-772 1h8m37 0h8m13 0h8m-6 0h8m58 0h8m5 0h8m12 0h8m82 0h8m221 0h8m-4 0h8m-475 1h8m12 0h8m47 0h8m-5 0h8m42 0h8m-3 0h8m610 0h8m-666 1h8m32 0h8m33 0h8m578 0h8m3 0h8m-712 1h8m32 0h8m91 0h8m4 0h8m-264 1h8m16 0h8m78 0h8m10 0h8m-4 0h8m56 0h8m302 0h8m-3 0h8m315 0h8m-750 1h8m-3 0h8m15 0h8m110 0h8m37 0h8m488 0h8m-752 1h8m17 0h8m46 0h8m1 0h8m75 0h8m-1 0h8m8 0h8m-1 0h8m10 0h8m-307 1h8m247 0h8m-7 0h8m-5 0h8m19 0h8m2 0h8m-235 1h8m106 0h8m90 0h8m29 0h8m552 0h8m-7 0h8m-727 1h8m34 0h8m42 0h8m-8 0h8m46 0h8m-119 1h8m-3 0h8m0 0h8m54 0h8m-2 0h8m38 0h8m-249 1h8m7 0h8m45 0h8m51 0h8m30 0h8m12 0h8m43 0h8m513 0h8m-691 1h8m54 0h8m57 0h8m-5 0h8m36 0h8m533 0h8m-657 1h8m8 0h8m71 0h8m-224 1h8m85 0h8m32 0h8m4 0h8m9 0h8m2 0h8m9 0h8m-4 0h8m574 0h8m-766 1h8m50 0h8m32 0h8m21 0h8m56 0h8m-271 1h8m212 0h8m29 0h8m-162 1h8m14 0h8m-4 0h8m1 0h8m9 0h8m75 0h8m-5 0h8m13 0h8m559 0h8m-862 1h8m150 0h8m59 0h8m60 0h8m0 0h8m-195 1h8m162 0h8m551 0h8m9 0h8m-760 1h8m3 0h8m74 0h8m-4 0h8m-6 0h8m72 0h8m553 0h8m-737 1h8m59 0h8m-6 0h8m-7 0h8m109 0h8m-206 1h8m58 0h8m17 0h8m45 0h8m-163 1h8m-5 0h8m10 0h8m5 0h8m53 0h8m11 0h8m7 0h8m36 0h8m14 0h8m-251 1h8m41 0h8m2 0h8m29 0h8m54 0h8m-5 0h8m14 0h8m38 0h8m236 0h8m-510 1h8m147 0h8m17 0h8m-1 0h8m28 0h8m-6 0h8m52 0h8m-330 1h8m113 0h8m76 0h8m20 0h8m22 0h8m-7 0h8m20 0h8m8 0h8m9 0h8m510 0h8m34 0h8m-893 1h8m28 0h8m156 0h8m69 0h8m1 0h8m21 0h8m-262 1h8m34 0h8m25 0h8m20 0h8m14 0h8m9 0h8m63 0h8m26 0h8m-254 1h8m4 0h8m53 0h8m32 0h8m71 0h8m63 0h8m-200 1h8m39 0h8m28 0h8m634 0h8m-4 0h8m-673 1h8m105 0h8m-6 0h8m-232 1h8m139 0h8m635 0h8m-831 1h8m-2 0h8m62 0h8m9 0h8m13 0h8m10 0h8m24 0h8m8 0h8m2 0h8m51 0h8m0 0h8m-275 1h8m33 0h8m69 0h8m-81 1h8m4 0h8m73 0h8m54 0h8m48 0h8m13 0h8m-311 1h8m48 0h8m119 0h8m48 0h8m-5 0h8m24 0h8m-34 1h8m44 0h8m-269 1h8m78 0h8m115 0h8m15 0h8m10 0h8m-187 1h8m-2 0h8m-6 0h8m109 0h8m24 0h8m30 0h8m-261 1h8m74 0h8m29 0h8m90 0h8m29 0h8m-151 1h8m18 0h8m91 0h8m552 0h8m-679 1h8m10 0h8m46 0h8m-6 0h8m48 0h8m521 0h8m-3 0h8m-787 1h8m37 0h8m20 0h8m19 0h8m2 0h8m72 0h8m19 0h8m-7 0h8m-8 0h8m555 0h8m-567 1h8m-163 1h8m75 0h8m14 0h8m-169 1h8m106 0h8m11 0h8m73 0h8m10 0h8m-281 1h8m46 0h8m5 0h8m18 0h8m135 0h8m2 0h8m-230 1h8m156 0h8m8 0h8m28 0h8m-273 1h8m59 0h8m774 0h8m-722 1h8m8 0h8m25 0h8m6 0h8m-1 0h8m626 0h8m-634 1h8m13 0h8m-209 1h8m183 0h8m53 0h8m-1 0h8m554 0h8m-743 1h8m19 0h8m38 0h8m6 0h8m-1 0h8m638 0h8m-853 1h8m47 0h8m12 0h8m33 0h8m38 0h8m-6 0h8m50 0h8m611 0h8m-760 1h8m14 0h8m1 0h8m2 0h8m-4 0h8m55 0h8m39 0h8m583 0h8m-738 1h8m71 0h8m59 0h8m20 0h8m-214 1h8m190 0h8m-214 1h8m31 0h8m82 0h8m-19 1h8m8 0h8m16 0h8m-7 0h8m2 0h8m5 0h8m-159 1h8m94 0h8m65 0h8m-278 1h8m96 0h8m40 0h8m36 0h8m73 0h8m-132 1h8m58 0h8m-179 1h8m60 0h8m111 0h8m23 0h8m2 0h8m-7 0h8m-136 1h8m-1 0h8m28 0h8m41 0h8m-247 1h8m34 0h8m17 0h8m62 0h8m89 0h8m-231 1h8m91 0h8m712 0h8m-681 1h8m3 0h8m-1 0h8m15 0h8m-7 0h8m-176 1h8m78 0h8m10 0h8m39 0h8m7 0h8m-6 0h8m10 0h8m44 0h8m2 0h8m-4 0h8m-179 1h8m19 0h8m5 0h8m109 0h8m9 0h8m-233 1h8m119 0h8m-6 0h8m6 0h8m45 0h8m-110 1h8m24 0h8m43 0h8m-4 0h8m9 0h8m15 0h8m-316 1h8m158 0h8m31 0h8m36 0h8m614 0h8m-834 1h8m165 0h8m-248 1h8m195 0h8m35 0h8m-7 0h8m81 0h8m538 0h8m-821 1h8m41 0h8m36 0h8m111 0h8m4 0h8m1 0h8m-304 1h8m203 0h8m24 0h8m-5 0h8m6 0h8m13 0h8m-100 1h8m102 0h8m-3 0h8m-278 1h8m118 0h8m-6 0h8m8 0h8m55 0h8m31 0h8m4 0h8m30 0h8m-304 1h8m206 0h8m32 0h8m24 0h8m559 0h8m-667 1h8m12 0h8m22 0h8m592 0h8m-5 0h8m-626 1h8m-168 1h8m4 0h8m41 0h8m112 0h8m0 0h8m7 0h8m8 0h8m5 0h8m-107 1h8m87 0h8m-132 1h8m-33 1h8m-23 1h8m40 0h8m95 0h8m-3 0h8m6 0h8m-81 1h8m46 0h8m-335 1h8m116 0h8m21 0h8m66 0h8m-68 1h8m0 0h8m0 0h8m20 0h8m16 0h8m-1 0h8m0 0h8m18 0h8m7 0h8m3 0h8m576 0h8m-817 1h8m60 0h8m-3 0h8m21 0h8m98 0h8m-223 1h8m105 0h8m62 0h8m86 0h8m535 0h8m-863 1h8m62 0h8m12 0h8m40 0h8m151 0h8m3 0h8m2 0h8m-136 1h8m2 0h8m10 0h8m-122 1h8m62 0h8m62 0h8m62 0h8m-273 1h8m145 0h8m82 0h8m-139 1h8m16 0h8m13 0h8m95 0h8m2 0h8m-152 1h8m13 0h8m72 0h8m-225 1h8m54 2h8m77 0h8m13 0h8m85 0h8m-6 0h8m-321 1h8m126 0h8m32 0h8m62 0h8m50 0h8m-1 0h8m-343 1h8m231 0h8m50 0h8m-273 1h8m142 0h8m34 0h8m-111 1h8m38 0h8m61 0h8m-1 0h8m-2 0h8m-2 0h8m3 0h8m53 0h8m-171 1h8m77 0h8m64 0h8m-234 1h8m48 0h8m78 0h8m-61 1h8m-73 1h8m14 0h8m9 0h8m30 0h8m-152 1h8m105 0h8m8 0h8m21 0h8m-3 0h8m21 0h8m84 0h8m-196 1h8m82 0h8m-3 0h8m39 0h8m26 0h8m542 0h8m-729 1h8m100 0h8m27 0h8m-311 2h8m218 0h8m75 0h8m-101 1h8m65 0h8m-200 1h8m143 0h8m34 0h8m27 0h8m-138 1h8m64 0h8m-8 0h8m-164 1h8m149 0h8m-232 1h8m83 0h8m74 0h8m12 0h8m-2 0h8m-4 0h8m-3 0h8m-126 1h8m31 0h8m13 0h8m39 0h8m39 0h8m13 0h8m-181 1h8m104 0h8m4 0h8m23 0h8m22 0h8m27 0h8m-131 1h8m10 0h8m-7 0h8m62 0h8m-236 1h8m42 1h8m41 0h8m29 0h8m13 0h8m94 0h8m3 0h8m-203 1h8m141 0h8m30 0h8m-304 1h8m9 0h8m116 0h8m-110 1h8m169 0h8m12 0h8m15 0h8m40 0h8m-236 1h8m12 0h8m31 0h8m14 0h8m14 0h8m8 0h8m0 0h8m50 0h8m36 0h8m-207 1h8m-7 0h8m64 0h8m74 0h8m8 0h8m-175 1h8m1 0h8m88 0h8m61 0h8m-222 1h8m47 0h8m-3 0h8m-2 0h8m36 0h8m-145 1h8m8 0h8m14 0h8m177 0h8m3 0h8m20 0h8m-165 1h8m4 0h8m31 0h8m-8 0h8m30 0h8m48 0h8m-335 1h8m77 0h8m33 0h8m102 0h8m19 0h8m0 0h8m-173 1h8m134 0h8m-214 1h8m19 0h8m197 0h8m28 0h8m0 0h8m-251 1h8m36 0h8m130 0h8m34 0h8m-196 1h8m-6 0h8m26 0h8m-4 0h8m38 0h8m18 0h8m8 0h8m-146 1h8m11 0h8m15 0h8m131 0h8m-90 1h8m-2 0h8m9 0h8m48 0h8m-165 1h8m74 0h8m9 0h8m-6 0h8m-3 0h8m-2 0h8m-6 0h8m40 0h8m8 0h8m-252 1h8m196 0h8m-224 1h8m-6 0h8m1 0h8m96 0h8m10 0h8m31 0h8m116 0h8m-293 1h8m90 0h8m55 0h8m49 0h8m-6 0h8m18 0h8m-307 1h8m33 0h8m76 0h8m132 1h8m23 0h8m-177 1h8m16 0h8m21 0h8m18 0h8m43 0h8m30 0h8m26 0h8m-6 0h8m-328 1h8m244 0h8m-1 0h8m49 0h8m-166 1h8m91 0h8m30 0h8m-274 1h8m135 0h8m68 0h8m34 0h8m-245 1h8m-8 0h8m121 0h8m8 0h8m61 0h8m13 0h8m-238 1h8m133 0h8m79 0h8m9 0h8m-1 0h8m-269 1h8m132 0h8m34 0h8m20 0h8m-2 0h8m-7 0h8m54 0h8m-113 1h8m19 0h8m15 0h8m22 0h8m17 0h8m-6 0h8m-231 1h8m140 0h8m-5 0h8m-102 1h8m23 0h8m-169 1h8m216 0h8m-200 1h8m102 0h8m66 0h8m-63 1h8m68 0h8m-2 0h8m21 0h8m-268 1h8m63 0h8m84 0h8m-7 0h8m70 0h8m-223 1h8m8 0h8m69 0h8m98 0h8m33 0h8m-175 1h8m37 0h8m1 0h8m42 0h8m-4 0h8m24 0h8m5 0h8m14 0h8m-7 0h8m-305 1h8m171 0h8m23 0h8m6 0h8m49 0h8m-207 1h8m97 0h8m52 0h8m-8 0h8m23 0h8m22 0h8m-113 1h8m23 0h8m4 0h8m-19 1h8m29 0h8m-229 1h8m143 0h8m-7 0h8m30 0h8m-6 0h8m-3 0h8m19 0h8m-151 1h8m70 0h8m15 0h8m-101 1h8m17 0h8m0 1h8m37 0h8m10 0h8m49 0h8m9 0h8m-320 1h8m91 0h8m60 0h8m-3 0h8m7 0h8m84 0h8m-232 1h8m97 0h8m55 0h8m65 0h8m-240 2h8m90 0h8m59 0h8m22 0h8m6 0h8m-19 1h8m-4 0h8m-235 1h8m47 0h8m52 0h8m2 0h8m53 0h8m-203 1h8m124 0h8m92 0h8m39 0h8m-12 1h8m-3 0h8m-155 1h8m15 0h8m16 0h8m21 0h8m-2 0h8m20 0h8m4 0h8m-6 0h8m-358 1h8m142 0h8m91 0h8m82 0h8m-186 1h8m110 0h8m73 0h8m-333 1h8m83 0h8m63 0h8m69 0h8m-67 1h8m8 0h8m21 0h8m38 0h8m7 0h8m0 0h8m30 0h8m-119 1h8m49 0h8m41 0h8m-234 1h8m1 0h8m151 0h8m5 0h8m29 0h8m-313 1h8m113 0h8m56 0h8m31 0h8m48 0h8m-5 0h8m-4 0h8m13 0h8m-228 1h8m163 0h8m-49 1h8m-175 1h8m171 0h8m-2 0h8m29 0h8m2 0h8m3 0h8m15 0h8m-25 1h8m14 0h8m-151 1h8m12 0h8m43 0h8m28 0h8m-280 1h8m248 0h8m26 0h8m5 0h8m-145 1h8m71 0h8m10 0h8m3 0h8m-2 0h8m18 0h8m-1 0h8m-162 1h8m4 0h8m-3 0h8m28 0h8m21 0h8m-4 0h8m27 1h8m14 0h8m-219 1h8m29 0h8m-2 0h8m81 0h8m-5 0h8m6 0h8m11 0h8m19 0h8m2 0h8m-127 1h8m15 0h8m26 0h8m-134 1h8m49 0h8m40 0h8m29 0h8m0 0h8m54 0h8m-183 1h8m4 0h8m5 0h8m133 0h8m-163 1h8m31 0h8m68 0h8m44 0h8m-147 1h8m16 0h8m18 0h8m16 0h8m-1 0h8m-182 1h8m165 0h8m7 0h8m4 0h8m20 0h8m-52 1h8m38 0h8m-257 1h8m51 1h8m61 0h8m10 0h8m43 0h8m-7 0h8m33 0h8m-166 1h8m107 0h8m-101 1h8m0 0h8m57 0h8m32 0h8m-1 0h8m7 0h8m-291 2h8m219 0h8m-8 0h8m44 0h8m-357 1h8m281 0h8m-181 1h8m126 0h8m55 0h8m8 0h8m39 0h8m-245 1h8m23 0h8m177 0h8m-316 1h8m5 0h8m218 0h8m49 0h8m-1 0h8m5 0h8m2 0h8m-118 1h8m77 0h8m10 0h8m-231 1h8m60 0h8m15 0h8m11 0h8m115 0h8m-405 1h8m124 0h8m112 0h8m84 0h8m16 0h8m-40 1h8m11 0h8m-7 0h8m-109 1h8m49 0h8m29 0h8m-333 1h8m231 0h8m78 0h8m20 0h8m-313 1h8m177 0h8m72 0h8m42 0h8m-214 1h8m28 0h8m173 1h8m-1 0h8m-300 1h8m151 0h8m22 0h8m15 0h8m40 0h8m-242 1h8m85 0h8m115 0h8m23 0h8m6 0h8m-348 1h8m131 0h8m167 0h8m-34 1h8m-1 0h8m-243 1h8m171 1h8m-4 0h8m21 0h8m-3 0h8m22 0h8m-15 1h8m-287 1h8m178 0h8m11 0h8m-8 0h8m84 0h8m-98 1h8m12 0h8m77 0h8m-227 1h8m13 0h8m80 0h8m14 0h8m20 0h8m-96 1h8m107 0h8m34 0h8m-142 1h8m33 0h8m44 0h8m-174 1h8m64 0h8m22 0h8m81 0h8m-4 0h8m-144 1h8m54 0h8m36 0h8m-321 1h8m139 0h8m119 0h8m23 0h8m28 0h8m-28 1h8m-387 2h8m58 0h8m227 0h8m64 0h8m16 0h8m-94 1h8m4 0h8m21 0h8m10 0h8m-170 1h8m90 0h8m8 0h8m65 0h8m-5 0h8m19 0h8m-158 1h8m3 0h8m-51 1h8m47 0h8m75 0h8m2 0h8m-391 1h8m80 0h8m54 0h8m63 0h8m160 0h8m23 0h8m-141 1h8m38 0h8m50 0h8m12 0h8m-203 1h8m121 0h8m34 0h8m5 0h8m5 0h8m-275 1h8m72 0h8m166 0h8m-134 1h8m83 0h8m-7 0h8m24 0h8m-152 1h8m-18 1h8m160 0h8m-264 1h8m155 0h8m10 0h8m-4 0h8m19 0h8m25 0h8m-191 1h8m58 0h8m40 0h8m-78 1h8m24 0h8m55 0h8m38 0h8m-348 1h8m283 0h8m16 1h8m-209 1h8m171 0h8m14 0h8m-282 1h8m-2 0h8m210 0h8m11 0h8m21 0h8m-61 1h8m-36 2h8m40 0h8m-6 0h8m-7 0h8m10 0h8m-27 2h8m60 0h8m-253 1h8m116 0h8m60 0h8m-14 1h8m11 0h8m22 0h8m-130 1h8m77 0h8m-333 1h8m189 0h8m0 0h8m67 0h8m44 0h8m-2 0h8m-253 1h8m147 0h8m-219 1h8m90 0h8m160 0h8m20 0h8m5 0h8m8 0h8m11 0h8m-168 2h8m25 0h8m5 0h8m2 0h8m-8 0h8m10 0h8m7 0h8m-13 1h8m-120 1h8m106 0h8m30 0h8m-126 1h8m35 0h8m-64 1h8m121 0h8m-3 0h8m-9 1h8m-6 0h8m28 0h8m-67 1h8m-292 1h8m262 0h8m-1 0h8m58 0h8m-416 1h8m188 0h8m23 0h8m92 0h8m20 0h8m-312 1h8m202 0h8m32 0h8m46 0h8m1 0h8m1 0h8m-5 0h8m-7 0h8m-287 1h8m145 0h8m32 0h8m24 0h8m-84 1h8m78 0h8m-89 1h8m48 0h8m49 0h8m-45 1h8m-3 0h8m19 0h8m21 0h8m-216 1h8m126 0h8m33 0h8m20 0h8m-37 1h8m-1 0h8m38 0h8m-258 1h8m195 0h8m-2 0h8m13 0h8m-23 1h8m-3 0h8m21 0h8m-381 1h8m175 0h8m145 0h8m34 0h8m-176 1h8m115 0h8m5 0h8m11 0h8m2 0h8m-182 1h8m37 0h8m89 0h8m-220 1h8m137 0h8m-34 1h8m-1 0h8m105 0h8m-89 1h8m-296 1h8m314 0h8m18 0h8m19 0h8m-76 1h8m-355 1h8m279 0h8m47 0h8m46 0h8m-344 1h8m184 1h8m121 0h8m-2 0h8m-67 1h8m-123 1h8m164 0h8m1 0h8m-147 1h8m19 1h8m52 0h8m19 0h8m-242 2h8m181 0h8m15 0h8m62 0h8m-393 1h8m280 0h8m-77 1h8m116 0h8m-3 0h8m9 0h8m12 1h8m-148 1h8m102 0h8m-263 1h8m16 1h8m167 0h8m12 0h8m22 0h8m-135 1h8m-6 0h8m116 0h8m-240 1h8m54 0h8m199 0h8m-244 1h8m129 0h8m79 0h8m-219 1h8m0 0h8m115 0h8m38 0h8m-3 0h8m-259 1h8m224 0h8m-203 1h8m233 0h8m-3 0h8m3 0h8m-217 1h8m191 0h8m-74 1h8m53 0h8m6 0h8m-338 2h8m266 0h8m38 0h8m7 0h8m-299 1h8m-36 1h8m192 0h8m27 0h8m-5 0h8m60 0h8m-42 1h8m15 0h8m2 0h8m-98 1h8m-193 1h8m228 0h8m-7 0h8m-180 1h8m23 1h8m173 0h8m-19 1h8m-135 1h8m41 0h8m-195 1h8m195 0h8m49 0h8m-71 1h8m8 0h8m28 0h8m13 0h8m-2 0h8m-71 1h8m-329 1h8m167 0h8m70 0h8m72 0h8m-3 0h8m-5 0h8m-99 2h8m46 0h8m85 0h8m-337 1h8m231 0h8m19 0h8m1 0h8m3 0h8m12 0h8m-392 1h8m330 0h8m28 0h8m-68 1h8m25 0h8m2 0h8m12 0h8m-3 0h8m-7 0h8m12 0h8m-229 1h8m126 1h8m27 0h8m-215 1h8m28 0h8m178 0h8m19 0h8m4 0h8m-65 1h8m-7 0h8m-5 0h8m-6 0h8m-218 1h8m14 0h8m81 1h8m18 0h8m19 0h8m28 0h8m-276 1h8m290 0h8m-3 0h8m-107 1h8m96 0h8m-17 1h8m-4 0h8m9 0h8m7 0h8m-37 1h8m-35 1h8m10 0h8m-208 1h8m38 0h8m86 0h8m57 0h8m9 0h8m2 0h8m-6 0h8m-411 2h8m235 0h8m28 0h8m45 0h8m2 0h8m12 0h8m-365 1h8m313 0h8m32 0h8m22 0h8m-4 0h8m2 0h8m-340 1h8m235 0h8m28 0h8m43 0h8m-254 1h8m198 0h8m-205 1h8m102 0h8m59 0h8m35 0h8m-38 1h8m-2 0h8m27 0h8m-24 1h8m12 0h8m-132 1h8m59 0h8m-278 1h8m223 0h8m42 0h8m-105 1h8m79 0h8m35 0h8m-7 0h8m-1 0h8m-87 1h8m-325 2h8m317 1h8m42 0h8m11 0h8m-373 1h8m29 0h8m152 0h8m64 0h8m3 0h8m82 0h8m-235 1h8m127 0h8m56 0h8m19 0h8m-25 1h8m20 0h8m-100 1h8m26 0h8m17 1h8m-66 1h8m55 0h8m-63 1h8m1 0h8m3 0h8m31 0h8m11 0h8m-40 1h8m-4 0h8m21 0h8m-162 1h8m16 0h8m89 0h8m-369 1h8m90 0h8m21 0h8m184 0h8m19 0h8m37 0h8m-82 1h8m1 0h8m51 0h8m5 0h8m-76 1h8m28 0h8m22 0h8m-326 2h8m163 0h8m93 0h8m5 0h8m-60 1h8m-153 1h8m203 0h8m12 0h8m-82 1h8m62 0h8m-389 2h8m300 1h8m39 0h8m14 0h8m-48 1h8m31 0h8m6 0h8m-134 1h8m43 0h8m-42 1h8m53 0h8m35 0h8m-88 1h8m14 0h8m-6 0h8m-334 2h8m288 0h8m-247 1h8m255 0h8m2 0h8m-2 0h8m7 0h8m19 0h8m-257 2h8m128 0h8m38 0h8m32 0h8m-37 1h8m49 0h8m-70 1h8m-4 0h8m38 0h8m-161 1h8m123 0h8m-100 1h8m-131 1h8m163 0h8m-87 1h8m108 0h8m2 0h8m-262 1h8m163 0h8m78 0h8m9 0h8m-87 2h8m38 0h8m5 0h8m12 0h8m9 0h8m-262 1h8m99 0h8m42 0h8m-301 1h8m192 1h8m17 0h8m90 0h8m43 1h8m-27 1h8m-386 1h8m260 0h8m75 0h8m30 0h8m22 0h8m-390 1h8m186 0h8m54 0h8m39 0h8m-7 1h8m15 0h8m20 0h8m-1 0h8m-37 1h8m-230 1h8m130 0h8m110 0h8m-158 1h8m63 0h8m17 0h8m-9 1h8m-128 1h8m-6 0h8m135 0h8m-52 1h8m71 0h8m-51 1h8m11 0h8m-46 1h8m-2 0h8m43 0h8m-41 1h8m-2 0h8m-211 1h8m84 0h8m40 0h8m60 0h8m28 0h8m-364 1h8m311 0h8m20 0h8m-12 1h8m3 0h8m-2 0h8m-122 1h8m38 1h8m-51 1h8m6 0h8m67 0h8m-196 1h8m-4 0h8m3 0h8m103 0h8m21 0h8m-34 1h8m29 0h8m17 0h8m-37 1h8m4 0h8m-220 1h8m93 0h8m72 0h8m8 0h8m2 0h8m-3 0h8m22 0h8m-459 1h8m251 0h8m74 0h8m76 0h8m10 0h8m-178 1h8m126 0h8m7 0h8m16 0h8m6 0h8m-8 0h8m-151 1h8m118 1h8m-6 0h8m-61 1h8m-4 0h8m31 0h8m7 0h8m-6 0h8m-348 1h8m250 0h8m31 0h8m15 1h8m-71 1h8m48 0h8m6 0h8m2 0h8m-275 1h8m260 0h8m-378 2h8m261 0h8m28 0h8m26 0h8m-130 1h8m113 0h8m23 0h8m-435 1h8m243 0h8m53 0h8m79 0h8m10 0h8m-2 0h8m-154 2h8m40 0h8m-7 0h8m37 0h8m13 0h8m2 0h8m-2 0h8m21 0h8m-188 1h8m38 0h8m107 0h8m-52 1h8m-3 0h8m15 1h8m-66 1h8m80 0h8m-125 1h8m101 0h8m3 0h8m-306 1h8m122 0h8m122 0h8m-411 1h8m330 0h8m70 0h8m10 0h8m-3 0h8m-57 1h8m37 0h8m-5 0h8m-145 1h8m-11 1h8m53 0h8m8 0h8m13 0h8m-17 1h8m9 0h8m14 0h8m-302 1h8m116 0h8m129 0h8m-113 1h8m15 0h8m-123 1h8m139 0h8m37 0h8m-7 0h8m-331 1h8m60 0h8m237 0h8m-5 0h8m12 0h8m22 0h8m-265 1h8m9 0h8m78 0h8m47 0h8m4 1h8m62 0h8m8 0h8m-438 1h8m210 0h8m31 0h8m-8 0h8m150 0h8m-140 1h8m127 0h8m-75 1h8m14 0h8m-14 1h8m16 0h8m-7 0h8m16 0h8m-7 0h8m-365 1h8m275 0h8m27 0h8m-7 0h8m49 0h8m-70 1h8m-367 1h8m-5 0h8m188 0h8m188 0h8m0 0h8m-14 1h8m-9 1h8m-196 2h8m107 0h8m-66 1h8m99 0h8m35 1h8m-21 1h8m-67 1h8m28 0h8m18 0h8m-96 1h8m81 0h8m-3 0h8m-328 1h8m83 0h8m134 0h8m2 0h8m10 0h8m10 0h8m-106 1h8m56 1h8m66 0h8m-4 0h8m-171 1h8m39 0h8m-2 0h8m17 0h8m-1 0h8m7 0h8m1 0h8m40 0h8m-152 1h8m28 0h8m83 0h8m-250 2h8m227 0h8m-68 1h8m60 0h8m11 0h8m-271 1h8m63 0h8m39 1h8m55 0h8m44 1h8m-295 1h8m282 0h8m-171 1h8m133 0h8m12 0h8m23 0h8m-274 1h8m153 0h8m61 0h8m-96 2h8m63 0h8m-1 0h8m20 0h8m-253 1h8m145 0h8m9 0h8m-79 2h8m80 0h8m23 0h8m-33 1h8m53 0h8m-142 1h8m107 0h8m10 1h8m-24 1h8m-75 1h8m41 0h8m35 0h8m-246 1h8m132 0h8m47 1h8m9 0h8m-175 2h8m-27 2h8m160 0h8m-35 1h8m21 0h8m9 0h8m2 0h8m10 0h8m-115 1h8m63 1h8m-5 1h8m1 2h8m-232 1h8m155 0h8m67 0h8m-378 1h8m249 0h8m28 0h8m43 0h8m-124 1h8m118 0h8m-376 1h8m49 0h8m127 0h8m117 1h8m6 0h8m23 0h8m-207 1h8m30 2h8m117 1h8m-131 3h8m147 0h8m-6 0h8m18 0h8m-79 1h8m-26 1h8m57 0h8m-369 1h8m311 0h8m-136 1h8m62 1h8m106 0h8m12 0h8m-54 1h8m35 1h8m-116 1h8m48 0h8m34 0h8m-7 0h8m-24 1h8m-21 1h8m-25 1h8m-188 1h8m161 0h8m28 0h8m1 1h8m-39 1h8m39 1h8m-3 0h8m-116 1h8m72 0h8m15 0h8m1 2h8m-96 2h8m58 0h8m-111 1h8m43 1h8m-188 2h8m243 0h8m-386 1h8m163 0h8m121 2h8m78 2h8m-77 1h8m-47 3h8m79 0h8m-114 1h8m119 0h8m-84 1h8m-114 1h8m85 0h8" stroke="#000" stroke-width="7.4" fill="none" opacity="0.85"/></g>
<path d="M103.3 601.2C103.6 600.2 104.5 598.7 106.0 597.8C107.5 596.9 109.3 596.5 112.0 596.0C114.7 595.5 118.8 595.1 122.0 595.0C125.2 594.9 128.7 595.1 131.0 595.5C133.3 595.9 134.2 596.8 135.6 597.6C137.0 598.4 138.6 599.4 139.5 600.5C140.4 601.6 141.1 602.1 141.3 604.0C141.6 605.9 141.2 609.3 141.0 612.0C140.8 614.7 140.5 617.4 140.0 620.0C139.5 622.6 138.8 625.2 138.0 627.5C137.2 629.8 136.4 632.0 135.5 634.0C134.6 636.0 133.5 637.9 132.5 639.5C131.5 641.1 130.4 643.4 129.5 643.5C128.6 643.6 127.8 641.2 127.0 640.0C126.2 638.8 125.0 637.9 124.5 636.5C124.0 635.1 124.5 633.1 123.9 631.6C123.3 630.1 121.8 628.7 121.0 627.5C120.2 626.3 119.4 625.5 119.0 624.3C118.6 623.0 118.9 621.2 118.8 620.0C118.7 618.8 119.0 618.1 118.5 617.0C118.0 615.9 116.8 614.5 116.0 613.5C115.2 612.5 114.6 611.8 113.6 611.0C112.6 610.2 111.2 609.3 110.0 608.5C108.8 607.7 107.3 606.9 106.3 606.1C105.3 605.3 104.5 604.3 104.0 603.5C103.5 602.7 103.0 602.2 103.3 601.2Z" fill="#fff" stroke="#aaa" stroke-width="0.5"/>
<path d="M134.4 603.5C134.3 604.8 133.3 606.2 131.9 607.1C130.5 608.0 128.2 608.7 126.1 608.9C124.0 609.1 121.2 608.8 119.2 608.2C117.2 607.6 115.1 606.4 113.9 605.2C112.7 604.0 112.0 602.4 112.2 601.1C112.3 599.8 113.3 598.4 114.7 597.5C116.1 596.6 118.4 595.9 120.5 595.7C122.6 595.5 125.4 595.8 127.4 596.4C129.4 597.0 131.5 598.2 132.7 599.4C133.9 600.6 134.6 602.2 134.4 603.5Z" fill="none" stroke="#888" stroke-width="0.55"/>
<path d="M131.1 602.3C131.0 603.0 130.5 603.9 129.7 604.5C128.9 605.0 127.5 605.5 126.3 605.6C125.0 605.8 123.4 605.7 122.2 605.4C121.0 605.0 119.7 604.4 119.0 603.7C118.3 603.0 117.9 602.1 117.9 601.3C118.0 600.6 118.5 599.7 119.3 599.1C120.1 598.6 121.5 598.1 122.7 598.0C124.0 597.8 125.6 597.9 126.8 598.2C128.0 598.6 129.3 599.2 130.0 599.9C130.7 600.6 131.1 601.5 131.1 602.3Z" fill="none" stroke="#888" stroke-width="0.55"/>
<path d="M128.4 601.4C128.4 601.7 128.2 602.0 127.8 602.2C127.4 602.4 126.8 602.6 126.2 602.7C125.6 602.8 124.8 602.8 124.2 602.7C123.6 602.6 123.0 602.4 122.6 602.2C122.2 602.0 122.0 601.7 122.0 601.4C122.0 601.1 122.2 600.8 122.6 600.6C123.0 600.4 123.6 600.2 124.2 600.1C124.8 600.0 125.6 600.0 126.2 600.1C126.8 600.2 127.4 600.4 127.8 600.6C128.2 600.8 128.4 601.1 128.4 601.4Z" fill="none" stroke="#888" stroke-width="0.55"/>
<ellipse cx="123.9" cy="668.7" rx="3.8" ry="2.9" fill="#fff" stroke="#999" stroke-width="0.5"/>
<ellipse cx="123.9" cy="668.7" rx="2.1" ry="1.6" fill="#fff" stroke="#999" stroke-width="0.5"/>
<path d="M134.8 675.0C127.6 672.6 133.2 664.8 132.4 660.8C131.6 656.8 130.6 653.7 130.0 651.0C129.4 648.3 128.8 646.3 129.0 644.5C129.2 642.7 130.5 641.7 131.5 640.0C132.5 638.3 133.9 636.7 134.8 634.5C135.7 632.3 136.2 629.2 137.0 627.0C137.8 624.8 138.4 623.1 139.5 621.5C140.6 619.9 141.8 618.4 143.5 617.3C145.2 616.1 147.4 615.1 150.0 614.6C152.6 614.1 156.1 613.6 159.0 614.2C161.9 614.8 165.2 616.5 167.5 618.2C169.8 619.9 171.4 622.2 172.7 624.5C173.9 626.8 174.5 628.6 175.0 632.0C175.5 635.4 175.5 637.8 175.6 645.0C175.7 652.2 182.4 670.0 175.6 675.0C168.8 680.0 142.0 677.4 134.8 675.0Z" fill="#fff" stroke="#999" stroke-width="0.5"/>
<g clip-path="url(#clipR0)">
<path d="M136.2 675.3C129.3 673.0 134.6 665.5 133.9 661.7C133.1 657.9 132.1 655.0 131.6 652.4C131.0 649.8 130.4 647.9 130.6 646.2C130.9 644.4 132.1 643.4 133.0 641.9C133.9 640.3 135.3 638.7 136.2 636.6C137.0 634.5 137.5 631.5 138.3 629.4C139.0 627.4 139.6 625.7 140.6 624.2C141.7 622.6 142.8 621.3 144.5 620.2C146.1 619.1 148.2 618.1 150.7 617.6C153.1 617.1 156.5 616.6 159.3 617.2C162.1 617.8 165.2 619.4 167.4 621.0C169.6 622.7 171.2 624.9 172.4 627.1C173.5 629.2 174.1 631.0 174.6 634.2C175.0 637.5 175.0 639.8 175.1 646.6C175.2 653.5 181.6 670.5 175.1 675.3C168.6 680.1 143.0 677.5 136.2 675.3Z" fill="none" stroke="#8a8a8a" stroke-width="0.5"/>
<path d="M137.5 675.6C131.0 673.4 136.1 666.3 135.3 662.6C134.6 659.0 133.7 656.2 133.2 653.7C132.6 651.2 132.0 649.5 132.2 647.8C132.5 646.1 133.6 645.2 134.5 643.7C135.4 642.2 136.7 640.7 137.5 638.7C138.4 636.7 138.8 633.8 139.5 631.9C140.2 629.9 140.8 628.3 141.8 626.9C142.8 625.4 143.8 624.1 145.4 623.1C147.0 622.0 149.0 621.1 151.3 620.6C153.7 620.1 156.9 619.7 159.5 620.2C162.2 620.8 165.2 622.3 167.3 623.9C169.4 625.4 170.9 627.5 172.0 629.6C173.1 631.7 173.7 633.3 174.1 636.4C174.5 639.5 174.6 641.7 174.6 648.3C174.7 654.8 180.8 671.0 174.6 675.6C168.5 680.1 144.1 677.7 137.5 675.6Z" fill="none" stroke="#8a8a8a" stroke-width="0.5"/>
<path d="M138.9 675.8C132.6 673.8 137.5 667.0 136.8 663.6C136.1 660.1 135.2 657.4 134.7 655.1C134.2 652.7 133.6 651.0 133.9 649.5C134.1 647.9 135.2 647.0 136.0 645.6C136.9 644.1 138.1 642.7 138.9 640.8C139.7 638.9 140.1 636.2 140.8 634.3C141.5 632.4 142.0 631.0 142.9 629.6C143.9 628.2 144.9 626.9 146.4 625.9C147.9 624.9 149.8 624.0 152.0 623.6C154.3 623.1 157.3 622.7 159.8 623.2C162.3 623.8 165.2 625.2 167.2 626.7C169.1 628.2 170.6 630.2 171.7 632.2C172.7 634.1 173.2 635.7 173.7 638.6C174.1 641.6 174.1 643.7 174.2 649.9C174.3 656.1 180.1 671.5 174.2 675.8C168.3 680.2 145.1 677.9 138.9 675.8Z" fill="none" stroke="#8a8a8a" stroke-width="0.5"/>
<path d="M140.2 676.1C134.3 674.2 138.9 667.8 138.3 664.5C137.6 661.2 136.8 658.7 136.3 656.4C135.8 654.2 135.3 652.6 135.5 651.1C135.7 649.6 136.7 648.8 137.5 647.4C138.3 646.0 139.5 644.7 140.2 642.9C141.0 641.1 141.4 638.5 142.0 636.8C142.7 635.0 143.2 633.6 144.1 632.2C145.0 630.9 145.9 629.7 147.4 628.8C148.8 627.9 150.6 627.0 152.7 626.6C154.8 626.2 157.7 625.8 160.1 626.3C162.5 626.8 165.2 628.1 167.1 629.5C168.9 630.9 170.3 632.8 171.3 634.7C172.3 636.6 172.8 638.1 173.2 640.9C173.6 643.7 173.6 645.6 173.7 651.5C173.8 657.4 179.3 672.0 173.7 676.1C168.1 680.2 146.1 678.1 140.2 676.1Z" fill="none" stroke="#8a8a8a" stroke-width="0.5"/>
<path d="M141.6 676.4C136.0 674.6 140.4 668.5 139.7 665.4C139.1 662.3 138.3 659.9 137.9 657.8C137.4 655.7 136.9 654.2 137.1 652.8C137.3 651.3 138.3 650.6 139.0 649.3C139.8 648.0 140.9 646.7 141.6 645.0C142.3 643.3 142.7 640.9 143.3 639.2C143.9 637.5 144.4 636.2 145.2 634.9C146.1 633.7 147.0 632.6 148.3 631.7C149.7 630.8 151.4 630.0 153.4 629.6C155.4 629.2 158.1 628.8 160.3 629.3C162.6 629.7 165.2 631.0 166.9 632.4C168.7 633.7 170.0 635.5 171.0 637.3C171.9 639.0 172.4 640.4 172.8 643.1C173.1 645.7 173.1 647.6 173.2 653.1C173.3 658.7 178.5 672.5 173.2 676.4C167.9 680.3 147.2 678.2 141.6 676.4Z" fill="none" stroke="#8a8a8a" stroke-width="0.5"/>
<defs><filter id="kr0" x="-30%" y="-30%" width="160%" height="160%"><feGaussianBlur stdDeviation="0.9"/></filter></defs>
<g filter="url(#kr0)">
<path d="M140.8 676.2C135.1 674.3 139.6 668.1 138.9 664.9C138.3 661.7 137.5 659.2 137.0 657.0C136.5 654.9 136.0 653.3 136.2 651.8C136.4 650.4 137.4 649.6 138.2 648.2C139.0 646.9 140.1 645.6 140.8 643.8C141.6 642.1 142.0 639.6 142.6 637.8C143.2 636.1 143.7 634.7 144.6 633.4C145.5 632.1 146.4 631.0 147.8 630.1C149.2 629.2 150.9 628.3 153.0 627.9C155.1 627.5 157.9 627.1 160.2 627.6C162.5 628.1 165.2 629.4 167.0 630.8C168.8 632.2 170.2 634.0 171.2 635.8C172.2 637.7 172.6 639.1 173.0 641.8C173.4 644.6 173.4 646.5 173.5 652.2C173.6 658.0 178.9 672.2 173.5 676.2C168.0 680.2 146.6 678.1 140.8 676.2Z" fill="#777" stroke="none" stroke-width="1" opacity="0.22"/>
<path d="M148.5 622.0C148.8 619.8 150.4 618.3 152.0 617.5C153.6 616.7 156.2 616.4 158.0 617.0C159.8 617.6 162.0 619.0 163.0 621.0C164.0 623.0 164.3 626.5 164.0 629.0C163.7 631.5 162.5 634.7 161.0 636.0C159.5 637.3 156.8 637.8 155.0 637.0C153.2 636.2 151.1 633.5 150.0 631.0C148.9 628.5 148.2 624.2 148.5 622.0Z" fill="#222" stroke="none" stroke-width="1" opacity="0.6"/>
<path d="M150.0 631.0C149.8 629.5 148.2 624.2 148.5 622.0C148.8 619.8 150.4 618.3 152.0 617.5C153.6 616.7 157.0 617.1 158.0 617.0" fill="none" stroke="#000" stroke-width="1.8" opacity="0.8"/>
<ellipse cx="141.4" cy="659.8" rx="2.6" ry="11.5" fill="#000" fill-opacity="0.97"/>
<ellipse cx="147.5" cy="659.8" rx="2.6" ry="11.5" fill="#000" fill-opacity="0.97"/>
<ellipse cx="144.4" cy="660" rx="1.6" ry="10.5" fill="#000" fill-opacity="0.7"/>
<ellipse cx="161.8" cy="653.5" rx="4.1" ry="18.5" fill="#000" fill-opacity="0.97"/>
<ellipse cx="170.4" cy="651" rx="3.9" ry="23" fill="#000" fill-opacity="0.97"/>
<ellipse cx="166" cy="655" rx="1.6" ry="17" fill="#000" fill-opacity="0.8"/>
<path d="M140.3 652.0C140.5 651.2 140.8 648.2 141.5 647.0C142.2 645.8 143.4 644.8 144.4 644.8C145.4 644.8 146.6 645.8 147.3 647.0C148.0 648.2 148.3 651.2 148.5 652.0" fill="none" stroke="#000" stroke-width="2.6" opacity="0.85"/>
<path d="M159.0 640.0C159.4 638.7 160.3 634.1 161.5 632.0C162.7 629.9 164.5 627.9 166.0 627.2C167.5 626.5 169.3 626.9 170.5 628.0C171.7 629.1 172.6 633.0 173.0 634.0" fill="none" stroke="#000" stroke-width="3.2" opacity="0.8"/>
</g>
<ellipse cx="144.45" cy="660.8" rx="6.6" ry="15.3" fill="none" stroke="#777" stroke-width="0.45"/>
<ellipse cx="144.45" cy="660.8" rx="8.1" ry="15.7" fill="none" stroke="#777" stroke-width="0.45"/>
<path d="M152.8 639.3C152.9 640.0 153.5 642.2 153.5 643.7C153.6 645.2 153.4 646.6 153.2 648.1C152.9 649.6 152.4 651.0 152.2 652.5C152.0 654.0 151.9 655.4 152.0 656.9C152.2 658.4 152.7 659.8 152.9 661.3C153.2 662.8 153.5 664.2 153.5 665.7C153.6 667.2 153.2 668.6 153.0 670.1C152.8 671.6 152.2 673.0 152.1 674.5C151.9 676.0 152.1 678.2 152.1 678.9" fill="none" stroke="#888" stroke-width="0.5"/>
<path d="M155.0 639.3C155.0 640.0 155.1 642.2 154.9 643.7C154.8 645.2 154.2 646.6 154.0 648.1C153.8 649.6 153.5 651.0 153.6 652.5C153.6 654.0 154.0 655.4 154.3 656.9C154.5 658.4 155.0 659.8 155.1 661.3C155.2 662.8 155.0 664.2 154.8 665.7C154.6 667.2 154.1 668.6 153.8 670.1C153.6 671.6 153.5 673.0 153.6 674.5C153.7 676.0 154.3 678.2 154.5 678.9" fill="none" stroke="#fff" stroke-width="0.6"/>
<path d="M156.8 639.3C156.6 640.0 156.2 642.2 155.9 643.7C155.7 645.2 155.3 646.6 155.3 648.1C155.2 649.6 155.5 651.0 155.8 652.5C156.0 654.0 156.5 655.4 156.7 656.9C156.8 658.4 156.8 659.8 156.7 661.3C156.5 662.8 156.0 664.2 155.8 665.7C155.5 667.2 155.2 668.6 155.3 670.1C155.3 671.6 155.7 673.0 155.9 674.5C156.2 676.0 156.6 678.2 156.8 678.9" fill="none" stroke="#888" stroke-width="0.5"/>
<line x1="166" y1="640" x2="166" y2="667.2" stroke="#e8e8e8" stroke-width="0.8" stroke-dasharray="0.8 0.8"/>
<path d="M151.7 623.7C151.9 622.4 152.8 621.5 153.8 621.0C154.7 620.5 156.3 620.4 157.4 620.7C158.5 621.1 159.8 621.9 160.4 623.1C161.0 624.3 161.2 626.4 161.0 627.9C160.8 629.4 160.1 631.3 159.2 632.1C158.3 632.9 156.7 633.2 155.6 632.7C154.5 632.2 153.2 630.6 152.6 629.1C151.9 627.6 151.5 625.1 151.7 623.7Z" fill="none" stroke="#ccc" stroke-width="0.55"/>
<path d="M151.7 623.7C151.8 623.1 152.3 622.6 152.7 622.4C153.2 622.1 154.0 622.1 154.5 622.2C155.1 622.4 155.7 622.8 156.0 623.4C156.3 624.0 156.4 625.1 156.3 625.8C156.2 626.6 155.9 627.5 155.4 627.9C155.0 628.3 154.2 628.5 153.6 628.2C153.1 628.0 152.4 627.2 152.1 626.4C151.8 625.7 151.6 624.4 151.7 623.7Z" fill="none" stroke="#e4e4e4" stroke-width="0.55"/>
</g>
</g>
<path d="M84.4 585.0L142.5 585.0L141.3 611.5L135.6 635.4L84.4 635.4Z" fill="none" stroke="#111" stroke-width="1.0"/>
<rect x="85.0" y="585.6" width="13.4" height="12.8" fill="#fff" stroke="none" stroke-width="1"/>
<text x="88.30000000000001" y="596.6" font-size="12" text-anchor="start" font-weight="normal" fill="#111">3</text>
<line x1="84.4" y1="585.0" x2="175.7" y2="585.0" stroke="#666" stroke-width="0.8"/>
<line x1="175.7" y1="585.0" x2="175.7" y2="675.2" stroke="#666" stroke-width="0.8"/>
<line x1="84.4" y1="585.0" x2="84.4" y2="675.2" stroke="#666" stroke-width="0.8"/>
<line x1="84.4" y1="675.2" x2="175.7" y2="675.2" stroke="#111" stroke-width="1.2"/>
<line x1="82.80000000000001" y1="653.2" x2="84.4" y2="653.2" stroke="#777" stroke-width="0.7"/>
<line x1="106.66829268292683" y1="675.2" x2="106.66829268292683" y2="677.0" stroke="#888" stroke-width="0.7"/>
<line x1="82.80000000000001" y1="631.2" x2="84.4" y2="631.2" stroke="#777" stroke-width="0.7"/>
<line x1="128.93658536585366" y1="675.2" x2="128.93658536585366" y2="677.0" stroke="#888" stroke-width="0.7"/>
<line x1="82.80000000000001" y1="609.2" x2="84.4" y2="609.2" stroke="#777" stroke-width="0.7"/>
<line x1="151.2048780487805" y1="675.2" x2="151.2048780487805" y2="677.0" stroke="#888" stroke-width="0.7"/>
<line x1="82.80000000000001" y1="587.2" x2="84.4" y2="587.2" stroke="#777" stroke-width="0.7"/>
<line x1="173.4731707317073" y1="675.2" x2="173.4731707317073" y2="677.0" stroke="#888" stroke-width="0.7"/>
<defs><filter id="kb1" x="-20%" y="-20%" width="140%" height="140%"><feGaussianBlur stdDeviation="1.3"/></filter><clipPath id="kc1"><rect x="84.4" y="689.2" width="91.29999999999998" height="90.09999999999991"/></clipPath><clipPath id="clipR1"><path d="M134.8 779.0C127.7 776.7 133.6 769.5 133.0 765.0C132.4 760.5 131.7 755.6 131.3 752.0C130.9 748.4 130.4 745.7 130.8 743.5C131.2 741.3 132.7 741.0 133.8 739.0C134.9 737.0 136.5 733.7 137.3 731.2C138.1 728.7 138.1 726.0 138.8 724.0C139.6 722.0 141.0 720.7 141.8 719.3C142.6 717.9 142.4 716.1 143.6 715.5C144.8 714.9 147.0 715.2 149.2 715.8C151.4 716.4 154.4 718.1 157.0 719.2C159.6 720.4 162.4 721.3 164.6 722.7C166.8 724.1 168.9 725.7 170.4 727.7C171.9 729.7 173.0 732.1 173.8 734.6C174.7 737.1 175.2 735.3 175.5 742.7C175.8 750.1 182.4 773.0 175.6 779.0C168.8 785.0 141.9 781.3 134.8 779.0Z"/></clipPath></defs>
<g clip-path="url(#kc1)">
<g filter="url(#kb1)" opacity="0.8">
<path d="M99.2 704.2C100.0 703.6 101.8 701.6 104.0 700.8C106.2 700.0 109.3 699.9 112.7 699.6C116.1 699.3 121.0 698.9 124.2 699.2C127.4 699.5 129.8 700.4 131.9 701.2C134.0 702.0 135.5 702.9 137.0 703.8C138.5 704.7 140.1 705.4 141.0 706.5C141.9 707.6 142.0 709.8 142.2 710.5" fill="none" stroke="#000" stroke-width="3.2"/>
<path d="M142.2 710.5C142.2 711.2 142.2 713.1 142.0 714.5C141.8 715.9 141.4 717.5 140.8 719.0C140.2 720.5 139.0 721.5 138.3 723.5C137.7 725.5 137.4 728.9 136.9 731.2C136.4 733.5 136.1 735.8 135.4 737.3C134.7 738.8 133.0 739.7 132.5 740.2" fill="none" stroke="#000" stroke-width="7"/>
<path d="M132.5 740.2C131.8 739.4 129.6 737.1 128.1 735.4C126.6 733.7 124.6 732.0 123.3 730.2C122.0 728.4 121.7 726.5 120.4 724.4C119.1 722.3 117.0 719.4 115.6 717.7C114.2 716.0 113.1 715.1 112.0 714.0C110.9 712.9 110.3 712.0 108.8 711.0C107.2 710.0 104.3 708.8 102.7 707.7C101.1 706.6 99.8 704.8 99.2 704.2" fill="none" stroke="#000" stroke-width="10.5"/>
<path d="M128.1 735.4C127.3 734.5 124.6 732.0 123.3 730.2C122.0 728.4 121.7 726.5 120.4 724.4C119.1 722.3 117.0 719.4 115.6 717.7C114.2 716.0 113.1 715.1 112.0 714.0C110.9 712.9 110.3 712.0 108.8 711.0C107.2 710.0 104.3 708.8 102.7 707.7C101.1 706.6 99.8 704.8 99.2 704.2" fill="none" stroke="#000" stroke-width="26" opacity="0.5"/>
<path d="M134.8 779.0C134.5 776.7 133.6 769.5 133.0 765.0C132.4 760.5 131.7 755.6 131.3 752.0C130.9 748.4 130.4 745.7 130.8 743.5C131.2 741.3 133.3 739.8 133.8 739.0" fill="none" stroke="#000" stroke-width="11"/>
<path d="M134.8 779.0C134.5 776.7 133.6 769.5 133.0 765.0C132.4 760.5 131.7 755.6 131.3 752.0C130.9 748.4 130.4 745.7 130.8 743.5C131.2 741.3 133.3 739.8 133.8 739.0" fill="none" stroke="#000" stroke-width="24" opacity="0.45"/>
<path d="M133.8 739.0C134.4 737.7 136.5 733.7 137.3 731.2C138.1 728.7 138.1 726.0 138.8 724.0C139.6 722.0 141.0 720.7 141.8 719.3C142.6 717.9 142.4 716.1 143.6 715.5C144.8 714.9 147.0 715.2 149.2 715.8C151.4 716.4 154.4 718.1 157.0 719.2C159.6 720.4 162.4 721.3 164.6 722.7C166.8 724.1 169.4 726.9 170.4 727.7" fill="none" stroke="#000" stroke-width="6.5"/>
</g>
<g transform="scale(.1)"><path d="M1472 6902h8m-49 2h8m73 0h8m-16 1h8m15 4h8m-83 2h8m-34 1h8m-154 2h8m435 1h8m-173 2h8m39 1h8m-32 2h8m-318 2h8m13 0h8m-227 1h8m118 0h8m65 0h8m121 0h8m-291 1h8m55 0h8m189 0h8m-392 1h8m0 0h8m85 0h8m-2 0h8m54 0h8m15 0h8m135 0h8m-205 1h8m32 0h8m81 0h8m117 0h8m171 0h8m-586 1h8m-4 0h8m121 0h8m26 0h8m62 0h8m78 0h8m-169 1h8m0 0h8m41 0h8m74 0h8m-276 1h8m13 0h8m172 0h8m28 0h8m56 0h8m-317 1h8m49 0h8m305 0h8m359 0h8m-739 1h8m77 0h8m191 0h8m56 0h8m8 0h8m270 0h8m-643 1h8m8 0h8m43 0h8m53 0h8m66 0h8m29 0h8m25 0h8m-2 0h8m7 0h8m206 0h8m-530 1h8m-5 0h8m63 0h8m6 0h8m0 0h8m26 0h8m119 0h8m27 0h8m1 0h8m27 0h8m18 0h8m15 0h8m-3 0h8m7 0h8m7 0h8m177 0h8m-457 1h8m98 0h8m-176 1h8m166 0h8m-7 0h8m10 0h8m3 0h8m38 0h8m9 0h8m19 0h8m4 0h8m6 0h8m-221 1h8m18 0h8m55 0h8m34 0h8m124 0h8m-465 1h8m6 0h8m60 0h8m20 0h8m8 0h8m92 0h8m39 0h8m0 0h8m1 0h8m1 0h8m-170 1h8m84 0h8m-181 1h8m59 0h8m60 0h8m0 0h8m54 0h8m78 0h8m362 0h8m-673 1h8m32 0h8m5 0h8m46 0h8m50 0h8m83 0h8m76 0h8m-1 0h8m-418 1h8m130 0h8m6 0h8m112 0h8m116 0h8m-70 1h8m15 0h8m-296 1h8m12 0h8m15 0h8m50 0h8m71 0h8m0 0h8m14 0h8m90 0h8m-321 1h8m31 0h8m29 0h8m38 0h8m22 0h8m-4 0h8m62 0h8m-232 1h8m114 0h8m58 0h8m47 0h8m-331 1h8m27 0h8m3 0h8m76 0h8m1 0h8m152 0h8m36 0h8m5 0h8m44 0h8m203 0h8m-580 1h8m19 0h8m1 0h8m44 0h8m63 0h8m192 0h8m6 0h8m-212 1h8m130 0h8m-8 0h8m-357 1h8m17 0h8m115 0h8m60 0h8m17 0h8m26 0h8m10 0h8m93 0h8m-390 1h8m1 0h8m-3 0h8m70 0h8m59 0h8m-7 0h8m45 0h8m-105 1h8m41 0h8m63 0h8m35 0h8m-294 1h8m-4 0h8m31 0h8m8 0h8m23 0h8m-1 0h8m63 0h8m70 0h8m141 0h8m-409 1h8m27 0h8m81 0h8m-5 0h8m96 0h8m14 0h8m98 0h8m-330 1h8m13 0h8m69 0h8m79 0h8m17 0h8m21 0h8m23 0h8m-4 0h8m-182 1h8m-7 0h8m-2 0h8m11 0h8m65 0h8m18 0h8m190 0h8m-461 1h8m4 0h8m35 0h8m161 0h8m444 0h8m-699 1h8m12 0h8m120 0h8m11 0h8m69 0h8m35 0h8m3 0h8m140 0h8m223 0h8m-638 1h8m-2 0h8m1 0h8m57 0h8m55 0h8m146 0h8m-342 1h8m451 0h8m109 0h8m-555 1h8m16 0h8m81 0h8m26 0h8m29 0h8m18 0h8m6 0h8m-2 0h8m32 0h8m96 0h8m-396 1h8m0 0h8m62 0h8m6 0h8m70 0h8m-175 1h8m336 0h8m79 0h8m-264 1h8m11 0h8m76 0h8m25 0h8m75 0h8m247 0h8m-666 1h8m15 0h8m29 0h8m10 0h8m-5 0h8m32 0h8m60 0h8m170 0h8m-394 1h8m4 0h8m20 0h8m111 0h8m30 0h8m72 0h8m216 0h8m-401 1h8m127 0h8m28 0h8m16 0h8m44 0h8m-8 0h8m27 0h8m-353 1h8m60 0h8m-6 0h8m68 0h8m0 0h8m2 0h8m28 0h8m-92 1h8m11 0h8m152 0h8m28 0h8m-226 1h8m63 0h8m52 0h8m10 0h8m96 0h8m-5 0h8m-294 1h8m40 0h8m92 0h8m-275 1h8m15 0h8m54 0h8m9 0h8m-2 0h8m65 0h8m42 0h8m127 0h8m35 0h8m-428 1h8m149 0h8m67 0h8m19 0h8m-2 0h8m14 0h8m97 0h8m-297 1h8m27 0h8m55 0h8m19 0h8m64 0h8m16 0h8m59 0h8m33 0h8m109 0h8m-545 1h8m71 0h8m73 0h8m4 0h8m61 0h8m55 0h8m-195 1h8m-7 0h8m34 0h8m-2 0h8m299 0h8m-437 1h8m79 0h8m8 0h8m79 0h8m140 0h8m1 0h8m-295 1h8m133 0h8m79 0h8m9 0h8m-351 1h8m14 0h8m-3 0h8m26 0h8m110 0h8m6 0h8m17 0h8m330 0h8m-570 1h8m345 0h8m24 0h8m318 0h8m-681 1h8m40 0h8m89 0h8m86 0h8m2 0h8m20 0h8m32 0h8m7 0h8m-306 1h8m27 0h8m-8 0h8m41 0h8m17 0h8m248 0h8m194 0h8m-473 1h8m94 0h8m368 0h8m-656 1h8m121 0h8m133 0h8m86 0h8m94 0h8m-320 1h8m207 0h8m86 0h8m62 0h8m-485 1h8m2 0h8m15 0h8m39 0h8m63 0h8m306 0h8m-507 1h8m26 0h8m69 0h8m-7 0h8m68 0h8m27 0h8m21 0h8m278 0h8m25 0h8m-603 1h8m324 0h8m142 0h8m-502 1h8m20 0h8m22 0h8m123 0h8m-152 1h8m27 0h8m43 0h8m222 0h8m14 0h8m4 0h8m-404 1h8m86 0h8m27 0h8m50 0h8m159 0h8m-6 0h8m-280 1h8m183 0h8m35 0h8m96 0h8m52 0h8m238 0h8m-562 1h8m136 0h8m22 0h8m54 0h8m87 0h8m-446 1h8m246 0h8m134 0h8m-450 1h8m408 0h8m-395 1h8m223 0h8m43 0h8m-282 1h8m235 0h8m30 0h8m30 0h8m-261 1h8m262 0h8m51 0h8m-413 1h8m1 0h8m2 0h8m426 0h8m82 0h8m-542 1h8m281 0h8m24 0h8m40 0h8m181 0h8m-75 1h8m-548 1h8m18 0h8m469 0h8m36 0h8m-4 0h8m-522 1h8m279 0h8m64 0h8m70 0h8m77 0h8m-563 1h8m4 0h8m291 0h8m52 0h8m122 0h8m-102 1h8m76 0h8m-477 2h8m276 0h8m159 0h8m66 0h8m-545 1h8m320 0h8m78 0h8m-66 1h8m-2 0h8m26 1h8m95 0h8m1 0h8m-200 1h8m14 0h8m63 0h8m-411 1h8m6 0h8m354 0h8m232 0h8m-644 1h8m355 0h8m203 0h8m-247 1h8m143 0h8m35 0h8m-540 1h8m344 0h8m42 0h8m7 0h8m-428 1h8m-2 0h8m338 0h8m11 0h8m95 0h8m14 0h8m36 0h8m-537 1h8m325 0h8m31 0h8m37 0h8m1 0h8m2 0h8m-453 1h8m400 0h8m11 0h8m115 1h8m-191 1h8m126 0h8m-6 0h8m-82 1h8m88 0h8m3 0h8m-530 1h8m340 0h8m4 0h8m92 0h8m70 0h8m-1 0h8m10 0h8m-84 1h8m50 0h8m-214 1h8m40 1h8m67 0h8m74 0h8m33 0h8m-607 1h8m403 0h8m13 0h8m45 0h8m18 0h8m-516 1h8m355 0h8m7 1h8m-6 0h8m-469 1h8m44 0h8m523 0h8m35 0h8m-611 1h8m-4 0h8m44 0h8m360 0h8m1 0h8m-472 1h8m12 0h8m23 0h8m549 0h8m-604 1h8m14 0h8m10 0h8m550 0h8m-595 1h8m23 0h8m486 0h8m82 0h8m17 0h8m-702 1h8m5 0h8m594 0h8m-584 1h8m70 0h8m369 0h8m43 0h8m76 0h8m23 0h8m-574 1h8m397 0h8m153 0h8m-83 1h8m73 0h8m116 0h8m-770 1h8m519 0h8m10 0h8m41 0h8m213 0h8m-788 1h8m-4 0h8m35 0h8m562 0h8m-597 1h8m496 0h8m23 0h8m22 0h8m-640 1h8m523 0h8m10 0h8m14 0h8m54 0h8m-604 1h8m449 0h8m4 0h8m21 0h8m-532 1h8m22 0h8m-5 0h8m30 0h8m-5 0h8m412 0h8m126 0h8m-4 0h8m-696 1h8m536 0h8m19 0h8m39 0h8m-543 1h8m5 0h8m-5 0h8m440 0h8m21 0h8m28 0h8m23 0h8m-7 0h8m26 0h8m-609 1h8m524 0h8m31 0h8m-567 1h8m14 0h8m483 0h8m-3 0h8m36 0h8m-567 1h8m25 0h8m727 0h8m-826 1h8m-5 0h8m2 0h8m40 0h8m455 0h8m30 0h8m10 0h8m27 0h8m48 0h8m-108 1h8m38 0h8m1 0h8m-627 1h8m-3 0h8m8 0h8m560 0h8m2 0h8m8 0h8m-662 1h8m1 0h8m114 0h8m424 0h8m69 0h8m-591 1h8m64 0h8m407 0h8m-507 1h8m0 0h8m26 0h8m2 0h8m28 0h8m513 0h8m-624 1h8m1 0h8m44 0h8m445 0h8m121 0h8m-654 1h8m40 0h8m-6 0h8m24 0h8m442 0h8m51 0h8m-621 1h8m19 0h8m-1 0h8m16 0h8m5 0h8m24 0h8m432 0h8m52 0h8m36 0h8m-642 1h8m10 0h8m559 0h8m21 0h8m4 0h8m-2 0h8m9 0h8m-617 1h8m17 0h8m36 0h8m512 0h8m-651 1h8m1 0h8m-5 0h8m62 0h8m7 0h8m481 0h8m2 0h8m29 0h8m1 0h8m-648 1h8m20 0h8m54 0h8m5 0h8m-5 0h8m488 0h8m43 0h8m-644 1h8m25 0h8m-65 1h8m62 0h8m476 0h8m131 0h8m-618 1h8m34 0h8m461 0h8m-8 0h8m-2 0h8m-623 1h8m133 0h8m1 0h8m411 0h8m-3 0h8m34 0h8m4 0h8m21 0h8m69 0h8m-698 1h8m-3 0h8m504 0h8m25 0h8m48 0h8m-3 0h8m-4 0h8m-3 0h8m-632 1h8m16 0h8m18 0h8m514 0h8m-578 1h8m-44 1h8m124 0h8m422 0h8m105 0h8m-608 1h8m10 0h8m-6 0h8m-7 0h8m461 0h8m12 0h8m20 0h8m54 0h8m-640 1h8m3 0h8m6 0h8m36 0h8m-2 0h8m658 0h8m-785 1h8m129 0h8m417 0h8m-521 1h8m5 0h8m-64 1h8m10 0h8m586 0h8m204 0h8m-814 1h8m65 0h8m487 0h8m78 0h8m-650 1h8m42 0h8m-3 0h8m20 0h8m8 0h8m-6 0h8m500 0h8m-625 1h8m15 0h8m-3 0h8m18 0h8m0 0h8m30 0h8m471 0h8m1 0h8m-640 1h8m50 0h8m68 0h8m18 0h8m496 0h8m50 0h8m16 0h8m-706 1h8m4 0h8m-1 0h8m507 0h8m35 0h8m-6 0h8m29 0h8m-551 1h8m6 0h8m453 0h8m-505 1h8m22 0h8m5 0h8m435 0h8m31 0h8m87 0h8m-709 1h8m46 0h8m-4 0h8m-3 0h8m9 0h8m1 0h8m4 0h8m-7 0h8m3 0h8m31 0h8m394 0h8m78 0h8m15 0h8m-616 1h8m17 0h8m28 0h8m28 0h8m448 0h8m-1 0h8m21 0h8m11 0h8m-596 1h8m533 0h8m-585 1h8m3 0h8m33 0h8m32 0h8m-5 0h8m5 0h8m438 0h8m32 0h8m-614 1h8m46 0h8m-6 0h8m31 0h8m19 0h8m2 0h8m401 0h8m-586 1h8m28 0h8m16 0h8m22 0h8m518 0h8m14 0h8m180 0h8m-722 1h8m30 0h8m471 0h8m-607 1h8m9 0h8m-7 0h8m20 0h8m35 0h8m8 0h8m25 0h8m398 0h8m102 0h8m-608 1h8m-3 0h8m9 0h8m19 0h8m-2 0h8m32 0h8m-89 1h8m-7 0h8m28 0h8m18 0h8m457 0h8m-6 0h8m16 0h8m29 0h8m-691 1h8m97 0h8m526 0h8m-652 1h8m66 0h8m15 0h8m1 0h8m18 0h8m16 0h8m-7 0h8m404 0h8m222 0h8m-802 1h8m65 0h8m32 0h8m1 0h8m29 0h8m389 0h8m36 0h8m-4 0h8m21 0h8m10 0h8m-8 0h8m-8 0h8m25 0h8m144 0h8m-770 1h8m85 0h8m-7 0h8m438 0h8m45 0h8m30 0h8m-728 1h8m33 0h8m-5 0h8m40 0h8m74 0h8m6 0h8m1 0h8m411 0h8m47 0h8m-2 0h8m-1 0h8m-1 0h8m-623 1h8m51 0h8m-5 0h8m47 0h8m469 0h8m-676 1h8m3 0h8m26 0h8m4 0h8m3 0h8m0 0h8m103 0h8m15 0h8m388 0h8m5 0h8m42 0h8m-4 0h8m-593 1h8m64 0h8m460 0h8m-8 0h8m50 0h8m-619 1h8m6 0h8m4 0h8m3 0h8m53 0h8m-4 0h8m399 0h8m136 0h8m81 0h8m-761 1h8m81 0h8m8 0h8m1 0h8m11 0h8m1 0h8m367 0h8m40 0h8m17 0h8m-629 1h8m20 0h8m-7 0h8m21 0h8m27 0h8m72 0h8m467 0h8m-614 1h8m80 0h8m40 0h8m2 0h8m369 0h8m147 0h8m-699 1h8m38 0h8m45 0h8m13 0h8m13 0h8m-4 0h8m398 0h8m12 0h8m-589 1h8m28 0h8m-5 0h8m14 0h8m6 0h8m-5 0h8m24 0h8m-2 0h8m-5 0h8m7 0h8m504 0h8m-680 1h8m13 0h8m-6 0h8m100 0h8m405 0h8m-5 0h8m108 0h8m-695 1h8m52 0h8m57 0h8m47 0h8m-5 0h8m-1 0h8m6 0h8m-167 1h8m131 0h8m375 0h8m-4 0h8m13 0h8m86 0h8m-648 1h8m1 0h8m-3 0h8m8 0h8m22 0h8m36 0h8m419 0h8m58 0h8m-584 1h8m-6 0h8m4 0h8m39 0h8m24 0h8m15 0h8m432 0h8m-4 0h8m47 0h8m-638 1h8m587 0h8m12 0h8m-4 0h8m-635 1h8m80 0h8m11 0h8m7 0h8m0 0h8m411 0h8m27 0h8m-611 1h8m32 0h8m22 0h8m15 0h8m62 0h8m-194 1h8m49 0h8m20 0h8m3 0h8m-7 0h8m70 0h8m24 0h8m1 0h8m6 0h8m336 0h8m66 0h8m-2 0h8m-573 1h8m43 0h8m2 0h8m-3 0h8m4 0h8m24 0h8m4 0h8m0 0h8m396 0h8m-629 1h8m24 0h8m31 0h8m1 0h8m19 0h8m27 0h8m2 0h8m33 0h8m405 0h8m7 0h8m68 0h8m-654 1h8m5 0h8m110 0h8m7 0h8m401 0h8m0 0h8m-3 0h8m-473 1h8m28 0h8m457 0h8m-6 0h8m17 0h8m188 0h8m-870 1h8m72 0h8m2 0h8m4 0h8m79 0h8m-3 0h8m6 0h8m399 0h8m-559 1h8m24 0h8m15 0h8m35 0h8m391 0h8m-4 0h8m57 0h8m-582 1h8m70 0h8m486 0h8m49 0h8m-643 1h8m64 0h8m85 0h8m-3 0h8m334 0h8m58 0h8m42 0h8m-652 1h8m28 0h8m105 0h8m-4 0h8m13 0h8m6 0h8m406 0h8m5 0h8m-5 0h8m-637 1h8m4 0h8m2 0h8m-1 0h8m130 0h8m23 0h8m351 0h8m45 0h8m-654 1h8m10 0h8m8 0h8m19 0h8m35 0h8m58 0h8m6 0h8m-6 0h8m0 0h8m14 0h8m8 0h8m403 0h8m-591 1h8m49 0h8m28 0h8m1 0h8m9 0h8m-8 0h8m34 0h8m340 0h8m-4 0h8m107 0h8m-684 1h8m127 0h8m-7 0h8m8 0h8m25 0h8m2 0h8m487 0h8m-711 1h8m-2 0h8m0 0h8m-5 0h8m-2 0h8m0 0h8m33 0h8m35 0h8m16 0h8m27 0h8m50 0h8m-6 0h8m328 0h8m24 0h8m57 0h8m68 0h8m-741 1h8m102 0h8m2 0h8m12 0h8m46 0h8m27 0h8m-116 1h8m94 0h8m324 0h8m-3 0h8m0 0h8m49 0h8m-649 1h8m-1 0h8m29 0h8m-1 0h8m15 0h8m2 0h8m101 0h8m12 0h8m-3 0h8m1 0h8m5 0h8m5 0h8m384 0h8m3 0h8m164 0h8m-805 1h8m94 0h8m90 0h8m7 0h8m2 0h8m368 0h8m8 0h8m204 0h8m-866 1h8m581 0h8m23 0h8m64 0h8m151 0h8m-839 1h8m54 0h8m-6 0h8m1 0h8m104 0h8m30 0h8m-2 0h8m428 0h8m-5 0h8m-599 1h8m26 0h8m-5 0h8m110 0h8m-6 0h8m320 0h8m41 0h8m-631 1h8m69 0h8m3 0h8m90 0h8m45 0h8m486 0h8m102 0h8m-856 1h8m34 0h8m48 0h8m24 0h8m19 0h8m26 0h8m6 0h8m353 0h8m24 0h8m128 0h8m-694 1h8m14 0h8m15 0h8m-2 0h8m456 0h8m27 0h8m-5 0h8m41 0h8m-628 1h8m82 0h8m64 0h8m375 0h8m-512 1h8m86 0h8m398 0h8m21 0h8m-565 1h8m83 0h8m35 0h8m12 0h8m391 0h8m43 0h8m7 0h8m-564 1h8m-3 0h8m31 0h8m10 0h8m57 0h8m7 0h8m425 0h8m-692 1h8m21 0h8m55 0h8m86 0h8m45 0h8m358 0h8m-6 0h8m44 0h8m97 0h8m-3 0h8m-717 1h8m56 0h8m7 0h8m12 0h8m20 0h8m3 0h8m25 0h8m-5 0h8m-1 0h8m9 0h8m538 0h8m-733 1h8m29 0h8m-1 0h8m70 0h8m-210 1h8m95 0h8m41 0h8m76 0h8m18 0h8m308 0h8m78 0h8m-595 1h8m80 0h8m45 0h8m21 0h8m315 0h8m4 0h8m0 0h8m10 0h8m-7 0h8m123 0h8m-726 1h8m13 0h8m10 0h8m76 0h8m421 0h8m26 0h8m2 0h8m7 0h8m34 0h8m-638 1h8m45 0h8m47 0h8m21 0h8m31 0h8m24 0h8m467 0h8m139 0h8m-842 1h8m7 0h8m133 0h8m24 0h8m354 0h8m3 0h8m-593 1h8m107 0h8m18 0h8m86 0h8m366 0h8m94 0h8m-692 1h8m-5 0h8m100 0h8m38 0h8m0 0h8m2 0h8m-7 0h8m40 0h8m424 0h8m-634 1h8m66 0h8m-4 0h8m56 0h8m438 0h8m-5 0h8m30 0h8m-2 0h8m-561 1h8m0 0h8m25 0h8m-107 1h8m28 0h8m57 0h8m450 0h8m199 0h8m-830 1h8m5 0h8m3 0h8m-1 0h8m8 0h8m-7 0h8m57 0h8m7 0h8m37 0h8m22 0h8m6 0h8m367 0h8m-564 1h8m133 0h8m11 0h8m426 0h8m-683 1h8m97 0h8m0 0h8m73 0h8m497 0h8m-609 1h8m86 0h8m10 0h8m0 0h8m5 0h8m15 0h8m20 0h8m355 0h8m-655 1h8m42 0h8m166 0h8m445 0h8m-644 1h8m38 0h8m16 0h8m68 0h8m19 0h8m14 0h8m43 0h8m572 0h8m-852 1h8m226 0h8m18 0h8m283 0h8m-563 1h8m21 0h8m75 0h8m15 0h8m15 0h8m13 0h8m1 0h8m6 0h8m30 0h8m8 0h8m373 0h8m55 0h8m96 0h8m-564 1h8m292 0h8m-497 1h8m60 0h8m1 0h8m0 0h8m59 0h8m-1 0h8m17 0h8m-208 1h8m99 0h8m53 0h8m-3 0h8m446 0h8m-584 1h8m26 0h8m64 0h8m345 0h8m-512 1h8m9 0h8m-5 0h8m80 0h8m66 0h8m518 0h8m-723 1h8m13 0h8m5 0h8m602 0h8m13 0h8m51 0h8m5 0h8m-807 1h8m48 0h8m21 0h8m107 0h8m361 0h8m98 0h8m27 0h8m57 0h8m0 0h8m-711 1h8m83 0h8m0 0h8m4 0h8m-1 0h8m19 0h8m27 0h8m413 0h8m-540 1h8m44 0h8m17 0h8m24 0h8m34 0h8m-7 0h8m376 0h8m128 0h8m-711 1h8m1 0h8m12 0h8m13 0h8m41 0h8m3 0h8m-3 0h8m2 0h8m36 0h8m-214 1h8m6 0h8m18 0h8m47 0h8m86 0h8m13 0h8m-249 1h8m22 0h8m2 0h8m0 0h8m-2 0h8m75 0h8m23 0h8m-6 0h8m338 0h8m-538 1h8m75 0h8m44 0h8m52 0h8m13 0h8m7 0h8m0 0h8m18 0h8m388 0h8m34 0h8m16 0h8m-758 1h8m87 0h8m182 0h8m429 0h8m-648 1h8m-7 0h8m-4 0h8m8 0h8m13 0h8m1 0h8m4 0h8m39 0h8m49 0h8m18 0h8m447 0h8m-738 1h8m36 0h8m78 0h8m-5 0h8m59 0h8m50 0h8m-227 1h8m2 0h8m6 0h8m6 0h8m101 0h8m9 0h8m21 0h8m-7 0h8m470 0h8m-543 1h8m8 0h8m24 0h8m45 0h8m397 0h8m-650 1h8m7 0h8m56 0h8m-1 0h8m48 0h8m46 0h8m38 0h8m434 0h8m-692 1h8m28 0h8m104 0h8m6 0h8m-1 0h8m474 0h8m66 0h8m-677 1h8m28 0h8m-1 0h8m2 0h8m540 0h8m19 0h8m73 0h8m-811 1h8m8 0h8m81 0h8m1 0h8m88 0h8m3 0h8m-3 0h8m14 0h8m9 0h8m-2 0h8m276 0h8m219 0h8m57 0h8m-788 1h8m3 0h8m42 0h8m-4 0h8m55 0h8m-5 0h8m513 0h8m1 0h8m-654 1h8m97 0h8m75 0h8m-3 0h8m5 0h8m400 0h8m32 0h8m-7 0h8m-697 1h8m-7 0h8m28 0h8m118 0h8m66 0h8m-197 1h8m84 0h8m85 0h8m438 0h8m33 0h8m-769 1h8m97 0h8m27 0h8m84 0h8m3 0h8m42 0h8m427 0h8m34 0h8m-761 1h8m40 0h8m14 0h8m29 0h8m116 0h8m-3 0h8m-4 0h8m478 0h8m-742 1h8m35 0h8m-7 0h8m15 0h8m28 0h8m27 0h8m26 0h8m80 0h8m16 0h8m-322 1h8m65 0h8m4 0h8m87 0h8m87 0h8m23 0h8m425 0h8m13 0h8m-718 1h8m2 0h8m52 0h8m52 0h8m-3 0h8m16 0h8m-1 0h8m339 0h8m-570 1h8m12 0h8m116 0h8m53 0h8m21 0h8m-4 0h8m568 0h8m-801 1h8m107 0h8m-4 0h8m139 0h8m-111 1h8m12 0h8m62 0h8m455 0h8m2 0h8m-705 1h8m19 0h8m23 0h8m11 0h8m70 0h8m33 0h8m-6 0h8m2 0h8m19 0h8m-281 1h8m52 0h8m-6 0h8m3 0h8m31 0h8m42 0h8m39 0h8m82 0h8m-3 0h8m229 0h8m-6 0h8m-4 0h8m180 0h8m83 0h8m-771 1h8m26 0h8m27 0h8m89 0h8m1 0h8m0 0h8m-4 0h8m3 0h8m0 0h8m458 0h8m26 0h8m92 0h8m-801 1h8m13 0h8m85 0h8m18 0h8m535 0h8m-565 1h8m95 0h8m-8 0h8m450 0h8m-708 1h8m14 0h8m34 0h8m-6 0h8m88 0h8m12 0h8m2 0h8m4 0h8m35 0h8m437 0h8m63 0h8m-727 1h8m5 0h8m7 0h8m-5 0h8m5 0h8m125 0h8m-198 1h8m30 0h8m15 0h8m-6 0h8m16 0h8m565 0h8m-757 1h8m61 0h8m124 0h8m-6 0h8m53 0h8m261 0h8m194 0h8m46 0h8m-677 1h8m-2 0h8m0 0h8m-1 0h8m70 0h8m27 0h8m36 0h8m452 0h8m4 0h8m72 0h8m-840 1h8m82 0h8m25 0h8m12 0h8m28 0h8m13 0h8m70 0h8m509 0h8m-793 1h8m114 0h8m21 0h8m-6 0h8m0 0h8m19 0h8m9 0h8m21 0h8m478 0h8m3 0h8m81 0h8m-808 1h8m3 0h8m43 0h8m50 0h8m-8 0h8m25 0h8m23 0h8m55 0h8m466 0h8m-735 1h8m-6 0h8m-2 0h8m108 0h8m353 0h8m-538 1h8m62 0h8m75 0h8m34 0h8m68 0h8m474 0h8m15 0h8m-732 1h8m25 0h8m37 0h8m81 0h8m84 0h8m527 0h8m-782 1h8m49 0h8m3 0h8m6 0h8m50 0h8m89 0h8m219 0h8m222 0h8m-629 1h8m11 0h8m14 0h8m-7 0h8m14 0h8m32 0h8m-6 0h8m43 0h8m478 0h8m-735 1h8m2 0h8m-1 0h8m107 0h8m-5 0h8m9 0h8m36 0h8m-4 0h8m22 0h8m18 0h8m484 0h8m-2 0h8m-736 1h8m9 0h8m-8 0h8m6 0h8m54 0h8m-2 0h8m0 0h8m113 0h8m205 0h8m-410 1h8m116 0h8m49 0h8m212 0h8m300 0h8m35 0h8m-858 1h8m27 0h8m-3 0h8m4 0h8m0 0h8m12 0h8m-4 0h8m2 0h8m15 0h8m17 0h8m66 0h8m9 0h8m24 0h8m467 0h8m11 0h8m-753 1h8m92 0h8m21 0h8m-7 0h8m15 0h8m41 0h8m532 0h8m-759 1h8m24 0h8m69 0h8m-8 0h8m65 0h8m9 0h8m22 0h8m49 0h8m520 0h8m-740 1h8m51 0h8m18 0h8m21 0h8m-2 0h8m9 0h8m7 0h8m-6 0h8m23 0h8m217 0h8m238 0h8m14 0h8m21 0h8m-840 1h8m21 0h8m107 0h8m4 0h8m91 0h8m614 0h8m-758 1h8m40 0h8m56 0h8m-200 1h8m102 0h8m50 0h8m10 0h8m13 0h8m36 0h8m508 0h8m-817 1h8m89 0h8m81 0h8m332 0h8m-4 0h8m-535 1h8m38 0h8m71 0h8m77 0h8m17 0h8m31 0h8m526 0h8m-816 1h8m127 0h8m11 0h8m37 0h8m69 0h8m4 0h8m229 0h8m-331 1h8m32 0h8m-2 0h8m-4 0h8m-240 1h8m14 0h8m26 0h8m4 0h8m56 0h8m75 0h8m8 0h8m7 0h8m-2 0h8m-4 0h8m5 0h8m523 0h8m-759 1h8m84 0h8m0 0h8m79 0h8m-7 0h8m42 0h8m515 0h8m-743 1h8m136 0h8m19 0h8m2 0h8m521 0h8m-780 1h8m63 0h8m17 0h8m28 0h8m116 0h8m16 0h8m201 0h8m-506 1h8m29 0h8m42 0h8m39 0h8m41 0h8m41 0h8m33 0h8m7 0h8m-303 1h8m39 0h8m84 0h8m63 0h8m20 0h8m-1 0h8m552 0h8m0 0h8m-3 0h8m-2 0h8m-801 1h8m50 0h8m36 0h8m-5 0h8m0 0h8m-6 0h8m21 0h8m9 0h8m-6 0h8m80 0h8m13 0h8m504 0h8m-786 1h8m-6 0h8m24 0h8m16 0h8m7 0h8m37 0h8m46 0h8m56 0h8m511 0h8m11 0h8m-759 1h8m16 0h8m31 0h8m10 0h8m-5 0h8m4 0h8m1 0h8m5 0h8m-115 1h8m144 0h8m68 0h8m-7 0h8m1 0h8m-264 1h8m46 0h8m-4 0h8m9 0h8m0 0h8m9 0h8m21 0h8m118 0h8m-231 1h8m24 0h8m3 0h8m1 0h8m7 0h8m30 0h8m4 0h8m0 0h8m19 0h8m-8 0h8m13 0h8m-6 0h8m529 0h8m-613 1h8m6 0h8m80 0h8m556 0h8m-756 1h8m-3 0h8m6 0h8m30 0h8m68 0h8m5 0h8m-1 0h8m-6 0h8m-253 1h8m95 0h8m55 0h8m67 0h8m546 0h8m4 0h8m-2 0h8m-711 1h8m21 0h8m10 0h8m91 0h8m33 0h8m534 0h8m-702 1h8m7 0h8m38 0h8m270 0h8m-374 1h8m83 0h8m15 0h8m2 0h8m526 0h8m38 0h8m-803 1h8m2 0h8m150 0h8m43 0h8m35 0h8m-1 0h8m-300 1h8m30 0h8m38 0h8m10 0h8m-6 0h8m-7 0h8m25 0h8m19 0h8m12 0h8m41 0h8m43 0h8m-6 0h8m536 0h8m-835 1h8m122 0h8m93 0h8m3 0h8m537 0h8m-737 1h8m28 0h8m55 0h8m26 0h8m22 0h8m-6 0h8m22 0h8m210 0h8m-421 1h8m38 0h8m19 0h8m35 0h8m11 0h8m8 0h8m-200 1h8m11 0h8m31 0h8m6 0h8m15 0h8m33 0h8m101 0h8m202 0h8m333 0h8m16 0h8m-802 1h8m91 0h8m1 0h8m2 0h8m74 0h8m-4 0h8m-257 1h8m80 0h8m4 0h8m21 0h8m35 0h8m58 0h8m553 0h8m19 0h8m-847 1h8m34 0h8m3 0h8m29 0h8m137 0h8m246 0h8m-388 1h8m37 0h8m22 0h8m-4 0h8m51 0h8m574 0h8m-753 1h8m128 0h8m-241 1h8m25 0h8m34 0h8m83 0h8m48 0h8m-174 1h8m-3 0h8m12 0h8m39 0h8m-3 0h8m47 0h8m95 0h8m-316 1h8m85 0h8m417 0h8m299 0h8m8 0h8m-763 1h8m37 0h8m-3 0h8m86 0h8m20 0h8m65 0h8m-291 1h8m32 0h8m14 0h8m70 0h8m3 0h8m631 0h8m9 0h8m-798 1h8m-1 0h8m1 0h8m87 0h8m11 0h8m9 0h8m17 0h8m45 0h8m532 0h8m-800 1h8m54 0h8m202 0h8m-245 1h8m5 0h8m79 0h8m-5 0h8m131 0h8m-337 1h8m24 0h8m43 0h8m103 0h8m43 0h8m16 0h8m37 0h8m1 0h8m-281 1h8m73 0h8m86 0h8m26 0h8m0 0h8m-6 0h8m1 0h8m-4 0h8m26 0h8m7 0h8m16 0h8m1 0h8m-292 1h8m33 0h8m-8 0h8m81 0h8m32 0h8m1 0h8m14 0h8m594 0h8m-2 0h8m-630 1h8m21 0h8m18 0h8m196 0h8m-487 1h8m-8 0h8m81 0h8m29 0h8m40 0h8m-7 0h8m9 0h8m24 0h8m-1 0h8m3 0h8m21 0h8m-6 0h8m-289 1h8m-5 0h8m36 0h8m4 0h8m86 0h8m75 0h8m71 0h8m5 0h8m151 0h8m320 0h8m-724 1h8m41 0h8m10 0h8m51 0h8m6 0h8m48 0h8m7 0h8m-220 1h8m29 0h8m11 0h8m47 0h8m-191 1h8m32 0h8m30 0h8m0 0h8m6 0h8m-4 0h8m11 0h8m-8 0h8m126 0h8m20 0h8m-356 1h8m8 0h8m67 0h8m7 0h8m14 0h8m53 0h8m-4 0h8m7 0h8m56 0h8m67 0h8m509 0h8m-702 1h8m29 0h8m41 0h8m22 0h8m3 0h8m-138 1h8m18 0h8m93 0h8m20 0h8m-237 1h8m37 0h8m2 0h8m82 0h8m-6 0h8m-5 0h8m32 0h8m-1 0h8m69 0h8m-219 1h8m79 0h8m82 0h8m-7 0h8m-318 1h8m45 0h8m38 0h8m24 0h8m-1 0h8m-1 0h8m70 0h8m26 0h8m12 0h8m-2 0h8m19 0h8m7 0h8m-259 1h8m116 0h8m50 0h8m-4 0h8m-7 0h8m19 0h8m44 0h8m-204 1h8m34 0h8m13 0h8m34 0h8m8 0h8m17 0h8m-4 0h8m42 0h8m149 0h8m-387 1h8m0 0h8m-5 0h8m67 0h8m18 0h8m75 0h8m-314 1h8m70 0h8m48 0h8m97 0h8m244 0h8m355 0h8m-806 1h8m33 0h8m83 0h8m41 0h8m33 0h8m25 0h8m168 0h8m342 0h8m-815 1h8m17 0h8m212 0h8m-123 1h8m6 0h8m38 0h8m4 0h8m27 0h8m-8 0h8m13 0h8m-266 1h8m147 0h8m49 0h8m84 0h8m-366 1h8m270 0h8m15 0h8m-7 0h8m4 0h8m12 0h8m19 0h8m-203 1h8m14 0h8m47 0h8m20 0h8m35 0h8m562 0h8m-832 1h8m132 0h8m-5 0h8m55 0h8m27 0h8m33 0h8m11 0h8m-219 1h8m139 0h8m-158 1h8m28 0h8m126 0h8m542 0h8m-863 1h8m9 0h8m23 0h8m25 0h8m3 0h8m21 0h8m44 0h8m48 0h8m-195 1h8m70 0h8m46 0h8m-1 0h8m45 0h8m37 0h8m-7 0h8m-3 0h8m-128 1h8m136 0h8m-74 1h8m61 0h8m26 0h8m497 0h8m-648 1h8m49 0h8m79 0h8m-205 1h8m14 0h8m52 0h8m-3 0h8m53 0h8m33 0h8m-2 0h8m491 0h8m-761 1h8m-2 0h8m6 0h8m22 0h8m66 0h8m27 0h8m62 0h8m-318 1h8m179 0h8m35 0h8m-5 0h8m11 0h8m10 0h8m200 0h8m-418 1h8m50 0h8m91 0h8m28 0h8m-8 0h8m-296 1h8m94 0h8m37 0h8m2 0h8m129 0h8m-6 0h8m55 0h8m-283 1h8m-7 0h8m97 0h8m27 0h8m-4 0h8m4 0h8m1 0h8m-6 0h8m43 0h8m17 0h8m-218 1h8m21 0h8m9 0h8m46 0h8m-7 0h8m62 0h8m8 0h8m9 0h8m0 0h8m5 0h8m-276 1h8m56 0h8m6 0h8m25 0h8m57 0h8m15 0h8m76 0h8m-302 1h8m45 0h8m14 0h8m99 0h8m31 0h8m62 0h8m6 0h8m-284 1h8m-3 0h8m80 0h8m-7 0h8m37 0h8m16 0h8m56 0h8m7 0h8m527 0h8m-685 1h8m59 0h8m238 0h8m366 0h8m-719 1h8m15 0h8m23 0h8m18 0h8m42 0h8m13 0h8m13 0h8m-285 1h8m89 0h8m44 0h8m-6 0h8m-6 0h8m81 0h8m31 0h8m-361 1h8m256 0h8m8 0h8m59 0h8m11 0h8m-300 1h8m53 0h8m17 0h8m30 0h8m25 0h8m36 0h8m4 0h8m22 0h8m560 0h8m-2 0h8m-646 1h8m-179 1h8m60 0h8m20 0h8m-3 0h8m60 0h8m44 0h8m50 0h8m-2 0h8m-88 1h8m21 0h8m-317 1h8m174 0h8m73 0h8m13 0h8m8 0h8m13 0h8m30 0h8m137 0h8m-268 1h8m93 0h8m519 0h8m-815 1h8m86 0h8m153 0h8m28 0h8m8 0h8m125 0h8m-405 1h8m43 0h8m28 0h8m54 0h8m30 0h8m10 0h8m-151 1h8m62 0h8m-1 0h8m3 0h8m47 0h8m-1 0h8m18 0h8m-315 1h8m44 0h8m113 0h8m-1 0h8m14 0h8m-2 0h8m46 0h8m17 0h8m-3 0h8m5 0h8m2 0h8m-250 1h8m10 0h8m53 0h8m117 0h8m18 0h8m-5 0h8m517 0h8m-851 1h8m258 0h8m4 0h8m71 0h8m-240 1h8m223 0h8m-194 1h8m21 0h8m52 0h8m24 0h8m14 0h8m14 0h8m505 0h8m-731 1h8m17 0h8m18 0h8m32 0h8m-4 0h8m18 0h8m10 0h8m82 0h8m-364 1h8m128 0h8m56 0h8m-3 0h8m-4 0h8m-2 0h8m-210 1h8m29 0h8m6 0h8m77 0h8m16 0h8m38 0h8m20 0h8m-8 0h8m30 0h8m47 0h8m-5 0h8m-3 0h8m487 0h8m-750 1h8m68 0h8m4 0h8m40 0h8m42 0h8m55 0h8m-279 1h8m35 0h8m104 0h8m33 0h8m35 0h8m3 0h8m-298 1h8m110 0h8m-2 0h8m-1 0h8m86 0h8m13 0h8m-180 1h8m24 0h8m48 0h8m11 0h8m19 0h8m-2 0h8m-140 1h8m206 0h8m3 0h8m500 0h8m-806 1h8m62 0h8m34 0h8m53 0h8m16 0h8m9 0h8m87 0h8m-356 1h8m96 0h8m55 0h8m64 0h8m-8 0h8m4 0h8m-1 0h8m-144 1h8m10 0h8m30 0h8m15 0h8m4 0h8m-227 1h8m351 0h8m-328 1h8m95 0h8m1 0h8m59 0h8m-94 1h8m79 0h8m60 0h8m-5 0h8m4 0h8m0 0h8m-309 1h8m284 0h8m23 0h8m-176 1h8m-3 0h8m14 0h8m39 0h8m10 0h8m26 0h8m13 0h8m-225 1h8m18 0h8m50 0h8m7 0h8m4 0h8m25 0h8m14 0h8m22 0h8m54 0h8m9 0h8m-354 1h8m43 0h8m51 0h8m29 0h8m15 0h8m-6 0h8m14 0h8m-6 0h8m2 0h8m58 0h8m16 0h8m-289 1h8m9 0h8m28 0h8m119 0h8m44 0h8m30 0h8m-4 0h8m47 0h8m-245 1h8m174 0h8m-233 1h8m29 0h8m46 0h8m113 0h8m8 0h8m46 0h8m-282 1h8m44 0h8m35 0h8m6 0h8m87 0h8m-7 0h8m6 0h8m9 0h8m-6 0h8m-333 1h8m18 0h8m93 0h8m49 0h8m24 0h8m102 0h8m26 0h8m-175 1h8m82 0h8m23 0h8m1 0h8m4 0h8m2 0h8m-273 1h8m61 0h8m65 0h8m34 0h8m-222 1h8m124 0h8m10 0h8m19 0h8m16 0h8m8 0h8m6 0h8m20 0h8m21 0h8m-331 1h8m21 0h8m18 0h8m-4 0h8m251 0h8m-217 1h8m74 0h8m6 0h8m-4 0h8m12 0h8m-4 0h8m83 0h8m22 0h8m-316 1h8m36 0h8m52 0h8m105 0h8m-261 1h8m78 0h8m-6 0h8m30 0h8m32 0h8m8 0h8m-1 0h8m67 0h8m-297 1h8m99 0h8m43 0h8m-3 0h8m-1 0h8m-4 0h8m53 0h8m11 0h8m3 0h8m45 0h8m10 0h8m-386 1h8m137 0h8m32 0h8m37 0h8m6 0h8m-4 0h8m103 0h8m6 0h8m-291 1h8m147 0h8m21 0h8m67 0h8m-95 1h8m21 0h8m7 0h8m86 0h8m-185 1h8m34 0h8m9 0h8m6 0h8m10 0h8m46 0h8m0 0h8m2 0h8m-385 1h8m143 0h8m28 0h8m20 0h8m-1 0h8m63 0h8m39 0h8m29 0h8m23 0h8m-369 1h8m166 0h8m53 0h8m4 0h8m1 0h8m-3 0h8m-113 1h8m22 0h8m162 0h8m1 0h8m-190 1h8m132 0h8m-6 0h8m-208 1h8m94 0h8m79 0h8m44 0h8m-291 1h8m51 0h8m61 0h8m44 0h8m35 0h8m8 0h8m20 0h8m-427 1h8m153 0h8m4 0h8m89 0h8m-5 0h8m24 0h8m115 0h8m-314 1h8m-6 0h8m35 0h8m99 0h8m90 0h8m-310 1h8m41 0h8m0 0h8m24 0h8m26 0h8m33 0h8m80 0h8m47 0h8m4 0h8m-3 0h8m36 0h8m-237 1h8m56 0h8m22 0h8m9 0h8m29 0h8m54 0h8m-260 1h8m148 0h8m55 0h8m-205 1h8m-6 0h8m34 0h8m12 0h8m8 0h8m50 0h8m-269 1h8m182 0h8m21 0h8m-3 0h8m12 0h8m22 0h8m13 0h8m-1 0h8m48 0h8m-268 1h8m112 0h8m32 0h8m60 0h8m18 0h8m-5 0h8m-259 1h8m79 0h8m9 0h8m14 0h8m-183 1h8m96 0h8m9 0h8m2 0h8m11 0h8m13 0h8m48 0h8m-338 1h8m34 0h8m77 0h8m44 0h8m-3 0h8m63 0h8m86 0h8m29 0h8m-221 1h8m32 0h8m63 0h8m5 0h8m70 0h8m0 0h8m-326 1h8m205 0h8m143 0h8m-289 1h8m32 0h8m107 0h8m64 0h8m-87 1h8m-7 0h8m-2 0h8m-7 0h8m30 0h8m-4 0h8m-6 0h8m40 0h8m-203 1h8m13 0h8m36 0h8m64 0h8m1 0h8m6 0h8m14 0h8m10 0h8m21 0h8m-287 1h8m37 0h8m-3 0h8m103 0h8m43 0h8m-236 1h8m151 0h8m19 0h8m87 0h8m-413 1h8m21 0h8m94 0h8m28 0h8m10 0h8m21 0h8m6 0h8m48 0h8m7 0h8m42 0h8m-6 0h8m-334 1h8m208 0h8m5 0h8m62 0h8m60 0h8m-282 1h8m-4 0h8m71 0h8m134 0h8m32 0h8m-255 1h8m151 0h8m36 0h8m8 0h8m26 0h8m2 0h8m-263 1h8m183 0h8m-1 0h8m34 0h8m11 0h8m-294 1h8m41 0h8m56 0h8m105 0h8m-328 1h8m201 0h8m25 0h8m-6 0h8m15 0h8m37 0h8m8 0h8m2 0h8m-336 1h8m138 0h8m65 0h8m117 0h8m-236 1h8m114 0h8m26 0h8m-7 0h8m9 0h8m4 0h8m22 0h8m6 0h8m-4 0h8m-351 1h8m138 0h8m1 0h8m61 0h8m1 0h8m69 0h8m12 0h8m14 0h8m-228 1h8m131 0h8m-7 0h8m-1 0h8m74 0h8m-6 0h8m-112 1h8m39 0h8m-67 1h8m44 0h8m2 0h8m-1 0h8m-128 1h8m17 0h8m159 0h8m-306 1h8m75 0h8m109 0h8m0 0h8m43 0h8m-2 0h8m-5 0h8m26 0h8m-415 1h8m27 0h8m233 0h8m2 0h8m36 0h8m46 0h8m-245 1h8m103 0h8m3 0h8m45 0h8m-1 0h8m4 0h8m8 0h8m-122 1h8m20 0h8m-6 0h8m0 0h8m9 0h8m11 0h8m11 0h8m-259 1h8m85 0h8m146 0h8m-90 1h8m-133 1h8m56 0h8m112 0h8m84 0h8m-187 1h8m20 0h8m5 0h8m-15 1h8m-6 0h8m-6 0h8m-1 0h8m79 0h8m-70 1h8m18 0h8m8 0h8m-191 1h8m137 0h8m-5 0h8m-252 1h8m61 0h8m111 0h8m19 0h8m-2 0h8m3 0h8m36 0h8m-199 1h8m129 0h8m-5 0h8m73 0h8m-318 1h8m126 0h8m42 0h8m65 0h8m32 0h8m5 0h8m13 0h8m11 0h8m1 0h8m-196 1h8m100 0h8m21 0h8m-151 1h8m12 0h8m26 0h8m-4 0h8m7 0h8m55 0h8m-334 1h8m159 0h8m95 0h8m-113 1h8m61 0h8m0 0h8m-8 0h8m15 0h8m-8 0h8m84 0h8m-113 1h8m0 0h8m3 1h8m78 0h8m-20 1h8m15 0h8m-239 1h8m28 0h8m44 0h8m63 0h8m22 0h8m-129 1h8m55 0h8m41 0h8m-6 0h8m41 0h8m-171 1h8m4 0h8m33 0h8m61 0h8m-3 0h8m14 0h8m-31 1h8m1 0h8m-331 1h8m258 1h8m5 0h8m12 0h8m12 0h8m-375 1h8m220 0h8m55 0h8m33 0h8m-260 1h8m95 0h8m102 0h8m-2 0h8m15 0h8m74 0h8m-375 1h8m109 0h8m150 0h8m63 0h8m8 0h8m-282 1h8m194 0h8m8 0h8m-2 0h8m-7 0h8m7 0h8m-61 1h8m-2 0h8m18 0h8m1 0h8m-6 0h8m-108 1h8m-221 1h8m109 0h8m157 0h8m28 0h8m-238 1h8m110 0h8m63 0h8m13 0h8m-152 1h8m63 0h8m17 0h8m-63 1h8m9 0h8m16 0h8m5 0h8m0 0h8m31 0h8m13 0h8m8 0h8m20 0h8m-127 1h8m54 0h8m-78 1h8m11 0h8m51 0h8m3 0h8m-6 0h8m-81 1h8m42 0h8m17 0h8m-56 1h8m-1 0h8m-113 1h8m37 0h8m43 0h8m3 0h8m-133 1h8m167 0h8m-110 1h8m36 0h8m-6 0h8m58 0h8m-207 1h8m20 0h8m110 0h8m-24 1h8m-3 0h8m17 0h8m21 0h8m11 1h8m-250 1h8m59 0h8m48 0h8m43 0h8m57 0h8m-110 1h8m21 1h8m-258 1h8m213 0h8m94 0h8m-5 0h8m-75 1h8m40 0h8m-176 1h8m8 0h8m61 0h8m0 0h8m72 0h8m10 0h8m-221 1h8m178 1h8m-364 1h8m236 0h8m59 0h8m2 0h8m-148 1h8m27 0h8m-3 0h8m72 0h8m31 0h8m-3 0h8m8 0h8m-365 2h8m295 1h8m40 0h8m-46 1h8m14 0h8m7 0h8m3 0h8m-298 1h8m51 0h8m174 0h8m13 0h8m1 0h8m-3 0h8m-5 0h8m20 0h8m-326 1h8m173 0h8m33 0h8m12 0h8m8 0h8m50 0h8m-170 1h8m-2 0h8m36 0h8m11 0h8m75 0h8m-5 0h8m-5 0h8m-21 1h8m-1 1h8m-434 1h8m64 0h8m232 0h8m35 0h8m23 0h8m31 0h8m-302 1h8m277 0h8m-90 1h8m16 0h8m35 0h8m9 0h8m5 0h8m-259 1h8m113 0h8m8 1h8m12 0h8m1 0h8m27 0h8m-7 0h8m39 0h8m-41 3h8m6 0h8m10 0h8m-125 1h8m112 0h8m-3 0h8m-116 1h8m59 0h8m6 1h8m-26 1h8m-107 1h8m0 0h8m76 0h8m-101 1h8m3 0h8m1 0h8m-159 1h8m114 0h8m55 0h8m-12 1h8m38 0h8m20 0h8m-67 1h8m14 0h8m31 0h8m7 0h8m-73 1h8m-175 1h8m143 0h8m21 0h8m-7 0h8m7 0h8m-4 0h8m11 0h8m12 0h8m-107 1h8m-1 0h8m68 0h8m10 0h8m-144 1h8m111 0h8m-273 1h8m188 0h8m21 0h8m-52 1h8m9 0h8m11 0h8m-373 1h8m377 0h8m-202 1h8m53 0h8m120 0h8m19 0h8m-8 0h8m5 0h8m-46 1h8m-4 0h8m-24 1h8m-1 0h8m28 0h8m-77 1h8m16 0h8m-4 0h8m-1 0h8m-8 0h8m39 0h8m-232 1h8m8 0h8m26 0h8m71 1h8m78 1h8m-58 3h8m26 0h8m21 0h8m-434 1h8m400 0h8m-146 1h8m60 0h8m48 0h8m20 0h8m-249 1h8m53 0h8m115 0h8m3 0h8m0 0h8m18 0h8m-321 1h8m118 0h8m42 1h8m15 0h8m28 0h8m43 0h8m-2 0h8m-6 0h8m-3 0h8m-82 1h8m79 0h8m-186 1h8m124 0h8m-6 0h8m30 0h8m-7 0h8m-262 1h8m127 0h8m41 0h8m2 0h8m-274 1h8m236 0h8m14 0h8m36 0h8m-4 0h8m20 1h8m-6 0h8m-4 0h8m-154 1h8m10 0h8m46 0h8m-267 1h8m263 0h8m43 0h8m-419 1h8m344 0h8m22 0h8m-117 1h8m114 0h8m-220 1h8m5 1h8m76 0h8m108 0h8m17 0h8m-149 1h8m48 0h8m16 0h8m-36 1h8m24 0h8m-162 1h8m77 0h8m23 0h8m72 0h8m-331 1h8m-1 0h8m275 0h8m36 0h8m-385 1h8m217 0h8m135 1h8m5 0h8m-326 1h8m-87 1h8m15 0h8m171 0h8m36 0h8m37 0h8m30 0h8m41 0h8m14 0h8m-242 1h8m142 0h8m-5 0h8m4 0h8m1 0h8m51 0h8m-133 1h8m3 0h8m-37 2h8m93 0h8m-350 1h8m300 0h8m25 0h8m23 0h8m-1 0h8m0 0h8m-145 1h8m59 1h8m6 0h8m47 0h8m-376 2h8m198 0h8m68 0h8m-380 1h8m182 0h8m80 0h8m80 0h8m32 0h8m19 0h8m10 1h8m-295 1h8m108 0h8m10 2h8m126 0h8m-215 1h8m112 0h8m43 0h8m46 0h8m-129 1h8m59 0h8m-127 1h8m128 0h8m-59 1h8m59 0h8m-6 0h8m-385 1h8m321 0h8m-2 0h8m24 0h8m-5 0h8m-4 0h8m-6 0h8m24 0h8m-81 1h8m33 0h8m-114 1h8m86 0h8m-17 1h8m-92 1h8m119 0h8m-116 1h8m49 0h8m-348 2h8m320 0h8m47 0h8m-388 1h8m196 0h8m73 0h8m-4 0h8m91 0h8m-2 0h8m-181 1h8m125 0h8m28 0h8m-291 1h8m144 0h8m78 0h8m-133 1h8m128 0h8m35 0h8m-85 1h8m-181 1h8m189 0h8m-117 1h8m137 1h8m-262 1h8m176 0h8m76 0h8m-31 1h8m-5 0h8m-47 1h8m39 0h8m-48 1h8m16 0h8m-98 1h8m-251 2h8m224 0h8m25 0h8m4 0h8m15 0h8m48 0h8m-5 0h8m-160 1h8m34 0h8m3 0h8m82 0h8m-83 1h8m13 0h8m48 0h8m-26 1h8m-233 1h8m169 0h8m-6 0h8m7 0h8m5 0h8m-4 0h8m34 0h8m-115 1h8m5 0h8m15 0h8m-2 0h8m53 0h8m-97 1h8m37 0h8m8 0h8m20 0h8m-66 1h8m-7 0h8m-175 1h8m208 0h8m-21 1h8m-86 1h8m73 0h8m-110 1h8m-187 1h8m142 0h8m120 0h8m-364 1h8m278 0h8m40 0h8m-19 1h8m16 0h8m2 1h8m2 0h8m-170 1h8m113 0h8m-385 2h8m141 0h8m219 0h8m10 0h8m-74 1h8m27 2h8m7 0h8m5 0h8m-260 1h8m150 0h8m44 0h8m27 0h8m6 0h8m-188 1h8m120 0h8m-4 0h8m26 0h8m6 0h8m6 0h8m-3 0h8m-74 1h8m35 0h8m-8 0h8m-5 0h8m1 1h8m-84 1h8m99 0h8m-422 1h8m78 0h8m40 0h8m227 0h8m-27 1h8m29 0h8m0 0h8m-271 1h8m183 0h8m0 0h8m45 0h8m23 1h8m-64 2h8m18 1h8m11 0h8m-72 1h8m24 0h8m-3 0h8m-125 1h8m-75 1h8m171 0h8m27 0h8m-398 1h8m177 0h8m166 0h8m17 0h8m-69 1h8m-1 0h8m-79 1h8m92 0h8m10 0h8m5 0h8m-27 1h8m13 0h8m-6 0h8m-51 1h8m34 0h8m-282 1h8m31 0h8m168 0h8m17 0h8m5 0h8m-123 1h8m-6 0h8m106 0h8m-322 2h8m289 0h8m-339 1h8m120 0h8m134 0h8m46 0h8m-140 1h8m125 0h8m-299 1h8m140 0h8m153 2h8m-61 1h8m0 0h8m6 0h8m2 0h8m8 0h8m-87 1h8m34 1h8m-35 1h8m-7 0h8m35 0h8m27 0h8m5 0h8m-124 1h8m-79 1h8m10 0h8m-78 1h8m136 0h8m52 0h8m24 0h8m2 0h8m-6 0h8m-48 1h8m13 0h8m-94 1h8m31 0h8m40 0h8m-293 1h8m268 0h8m-401 1h8m393 0h8m-430 1h8m330 0h8m98 0h8m-55 1h8m-17 1h8m-27 1h8m60 0h8m-432 1h8m310 0h8m0 0h8m63 0h8m-154 1h8m56 0h8m9 0h8m-377 1h8m116 0h8m31 0h8m103 0h8m66 0h8m53 0h8m19 1h8m7 0h8m-135 1h8m-263 1h8m150 0h8m107 0h8m79 0h8m-279 2h8m13 0h8m211 0h8m-67 1h8m61 0h8m-3 0h8m18 0h8m-158 1h8m72 0h8m44 1h8m-108 2h8m142 0h8m-219 1h8m88 1h8m9 0h8m-95 1h8m88 0h8m68 0h8m-14 1h8m-5 0h8m-93 1h8m-178 1h8m220 0h8m12 0h8m-205 1h8m144 0h8m-2 0h8m16 0h8m-91 1h8m23 0h8m-128 1h8m181 0h8m-38 1h8m21 0h8m-8 1h8m2 1h8m-324 1h8m217 0h8m36 0h8m28 0h8m-31 1h8m-247 1h8m199 0h8m-8 0h8m14 0h8m-108 1h8m94 0h8m-7 0h8m39 0h8m-224 1h8m194 0h8m-321 1h8m69 0h8m139 0h8m-167 1h8m184 0h8m49 0h8m3 0h8m-70 1h8m13 0h8m16 0h8m-139 1h8m1 0h8m-5 0h8m100 0h8m4 0h8m-232 1h8m210 0h8m3 0h8m-85 1h8m80 0h8m-327 1h8m226 0h8m12 0h8m-49 1h8m28 0h8m12 1h8m6 2h8m-50 1h8m57 0h8m-322 1h8m144 0h8m76 0h8m34 0h8m5 0h8m-296 1h8m10 0h8m79 0h8m151 1h8m-267 1h8m244 0h8m36 0h8m-36 1h8m35 0h8m6 0h8m-40 1h8m-178 1h8m35 0h8m27 0h8m39 0h8m24 0h8m-3 0h8m-347 1h8m232 0h8m-2 0h8m-48 1h8m108 0h8m-93 1h8m95 0h8m-171 1h8m13 0h8m73 0h8m27 0h8m-2 0h8m-18 1h8m29 0h8m-288 1h8m150 0h8m30 0h8m-5 0h8m22 0h8m11 0h8m-25 1h8m42 0h8m-6 0h8m-167 1h8m122 0h8m24 0h8m-6 0h8m-187 1h8m88 0h8m-3 0h8m18 0h8m-36 1h8m29 0h8m52 0h8m-6 0h8m-37 1h8m4 0h8m10 0h8m-253 1h8m137 0h8m-2 0h8m14 0h8m-3 0h8m-62 1h8m59 0h8m36 0h8m-373 1h8m290 0h8m1 0h8m35 0h8m-1 1h8m-57 1h8m-175 1h8m141 1h8m-136 1h8m31 0h8m109 0h8m0 0h8m-240 1h8m199 0h8m5 0h8m-9 1h8m-9 1h8m-355 1h8m269 0h8m87 1h8m-23 1h8m-301 1h8m180 0h8m96 0h8m-6 0h8m24 1h8m-48 1h8m-1 0h8m40 0h8m-94 1h8m-13 1h8m-5 0h8m59 0h8m-5 0h8m-53 1h8m19 1h8m28 1h8m-377 1h8m105 0h8m164 0h8m21 0h8m-128 1h8m153 0h8m-211 1h8m-124 1h8m198 0h8m22 0h8m20 0h8m31 0h8m13 0h8m-5 0h8m-192 1h8m130 0h8m24 0h8m-145 1h8m-148 1h8m1 0h8m229 0h8m28 0h8m-216 1h8m118 0h8m8 1h8m-155 1h8m210 0h8m-178 1h8m23 0h8m83 0h8m-148 1h8m127 0h8m-324 1h8m224 0h8m136 0h8m-127 1h8m64 1h8m-9 1h8m-5 0h8m0 0h8m-106 2h8m93 0h8m-164 1h8m139 2h8m-14 1h8m16 1h8m-240 1h8m164 0h8m-116 2h8m95 0h8m-131 3h8m196 0h8m-78 3h8m39 0h8m23 1h8m-315 1h8m-110 1h8m370 0h8m-34 1h8m48 0h8m-53 1h8m29 1h8m-105 1h8m19 0h8m22 0h8m32 0h8m-38 3h8m-78 1h8m86 1h8m-448 1h8m329 0h8m55 0h8m39 0h8m0 0h8m-282 2h8m200 0h8m58 1h8m-67 1h8m27 0h8m-38 1h8m48 0h8m-124 1h8m98 2h8m-218 1h8m99 0h8m104 1h8m-23 1h8m-368 1h8m253 3h8m58 2h8m24 0h8m-256 1h8m92 2h8m158 1h8m-110 1h8m16 0h8m73 0h8m2 0h8m-299 1h8m196 0h8m42 0h8m28 0h8m-117 1h8" stroke="#000" stroke-width="7.4" fill="none" opacity="0.85"/></g>
<path d="M99.2 704.2C99.4 703.1 101.8 701.6 104.0 700.8C106.2 700.0 109.3 699.9 112.7 699.6C116.1 699.3 121.0 698.9 124.2 699.2C127.4 699.5 129.8 700.4 131.9 701.2C134.0 702.0 135.5 702.9 137.0 703.8C138.5 704.7 140.1 705.4 141.0 706.5C141.9 707.6 142.0 709.2 142.2 710.5C142.4 711.8 142.2 713.1 142.0 714.5C141.8 715.9 141.4 717.5 140.8 719.0C140.2 720.5 139.0 721.5 138.3 723.5C137.7 725.5 137.4 728.9 136.9 731.2C136.4 733.5 136.1 735.8 135.4 737.3C134.7 738.8 133.7 740.5 132.5 740.2C131.3 739.9 129.6 737.1 128.1 735.4C126.6 733.7 124.6 732.0 123.3 730.2C122.0 728.4 121.7 726.5 120.4 724.4C119.1 722.3 117.0 719.4 115.6 717.7C114.2 716.0 113.1 715.1 112.0 714.0C110.9 712.9 110.3 712.0 108.8 711.0C107.2 710.0 104.3 708.8 102.7 707.7C101.1 706.6 99.0 705.4 99.2 704.2Z" fill="#fff" stroke="#aaa" stroke-width="0.5"/>
<path d="M130.7 707.3C130.6 708.4 129.8 709.5 128.6 710.3C127.5 711.0 125.5 711.6 123.8 711.8C122.0 711.9 119.7 711.7 118.0 711.3C116.3 710.8 114.5 709.9 113.5 708.9C112.4 708.0 111.8 706.7 111.9 705.7C112.0 704.6 112.8 703.5 114.0 702.7C115.1 702.0 117.1 701.4 118.8 701.2C120.6 701.1 122.9 701.3 124.6 701.7C126.3 702.2 128.1 703.1 129.1 704.1C130.2 705.0 130.8 706.3 130.7 707.3Z" fill="none" stroke="#888" stroke-width="0.55"/>
<path d="M134.8 779.0C127.7 776.7 133.6 769.5 133.0 765.0C132.4 760.5 131.7 755.6 131.3 752.0C130.9 748.4 130.4 745.7 130.8 743.5C131.2 741.3 132.7 741.0 133.8 739.0C134.9 737.0 136.5 733.7 137.3 731.2C138.1 728.7 138.1 726.0 138.8 724.0C139.6 722.0 141.0 720.7 141.8 719.3C142.6 717.9 142.4 716.1 143.6 715.5C144.8 714.9 147.0 715.2 149.2 715.8C151.4 716.4 154.4 718.1 157.0 719.2C159.6 720.4 162.4 721.3 164.6 722.7C166.8 724.1 168.9 725.7 170.4 727.7C171.9 729.7 173.0 732.1 173.8 734.6C174.7 737.1 175.2 735.3 175.5 742.7C175.8 750.1 182.4 773.0 175.6 779.0C168.8 785.0 141.9 781.3 134.8 779.0Z" fill="#fff" stroke="#999" stroke-width="0.5"/>
<g clip-path="url(#clipR1)">
<path d="M136.2 779.3C129.4 777.1 135.0 770.2 134.4 765.9C133.9 761.6 133.2 756.9 132.8 753.5C132.5 750.1 131.9 747.5 132.3 745.4C132.7 743.3 134.2 743.0 135.2 741.1C136.2 739.1 137.8 736.0 138.5 733.6C139.3 731.2 139.3 728.7 140.0 726.8C140.7 724.9 142.1 723.6 142.8 722.3C143.6 720.9 143.4 719.2 144.6 718.6C145.7 718.1 147.8 718.3 149.9 718.9C152.0 719.5 154.9 721.1 157.4 722.2C159.8 723.3 162.5 724.2 164.6 725.5C166.8 726.9 168.7 728.4 170.2 730.3C171.6 732.2 172.6 734.5 173.4 736.9C174.2 739.3 174.7 737.6 175.0 744.6C175.3 751.7 181.6 773.5 175.1 779.3C168.6 785.1 142.9 781.5 136.2 779.3Z" fill="none" stroke="#8a8a8a" stroke-width="0.5"/>
<path d="M137.5 779.6C131.1 777.4 136.4 770.9 135.9 766.8C135.3 762.7 134.7 758.3 134.3 755.0C134.0 751.7 133.5 749.2 133.9 747.3C134.3 745.3 135.6 745.0 136.6 743.2C137.6 741.3 139.0 738.3 139.8 736.1C140.6 733.8 140.5 731.3 141.2 729.5C141.8 727.7 143.2 726.5 143.9 725.2C144.6 724.0 144.4 722.3 145.5 721.8C146.6 721.3 148.6 721.5 150.6 722.1C152.7 722.6 155.4 724.1 157.7 725.1C160.1 726.2 162.6 727.0 164.6 728.3C166.7 729.6 168.5 731.1 169.9 732.9C171.3 734.7 172.2 736.9 173.0 739.2C173.8 741.4 174.3 739.8 174.6 746.5C174.8 753.3 180.8 774.1 174.6 779.6C168.5 785.1 144.0 781.7 137.5 779.6Z" fill="none" stroke="#8a8a8a" stroke-width="0.5"/>
<path d="M138.9 779.9C132.7 777.8 137.8 771.6 137.3 767.7C136.8 763.8 136.2 759.6 135.8 756.5C135.5 753.4 135.1 751.0 135.4 749.1C135.8 747.3 137.1 747.0 138.0 745.3C138.9 743.5 140.3 740.7 141.0 738.5C141.8 736.3 141.7 734.0 142.3 732.3C143.0 730.6 144.2 729.4 144.9 728.2C145.6 727.0 145.4 725.4 146.5 724.9C147.6 724.4 149.4 724.6 151.3 725.2C153.3 725.7 155.9 727.1 158.1 728.1C160.3 729.1 162.7 729.9 164.7 731.2C166.6 732.4 168.3 733.8 169.7 735.5C171.0 737.2 171.9 739.3 172.6 741.4C173.3 743.6 173.8 742.1 174.1 748.5C174.3 754.9 180.0 774.6 174.2 779.9C168.3 785.1 145.0 781.9 138.9 779.9Z" fill="none" stroke="#8a8a8a" stroke-width="0.5"/>
<path d="M140.2 780.1C134.4 778.2 139.2 772.3 138.8 768.7C138.3 765.0 137.7 760.9 137.4 758.0C137.1 755.1 136.6 752.8 137.0 751.0C137.3 749.2 138.5 749.0 139.4 747.3C140.3 745.7 141.6 743.0 142.3 740.9C143.0 738.9 142.9 736.7 143.5 735.0C144.1 733.4 145.3 732.3 146.0 731.2C146.6 730.0 146.4 728.5 147.5 728.1C148.5 727.6 150.2 727.8 152.0 728.3C153.9 728.8 156.3 730.2 158.4 731.1C160.5 732.0 162.8 732.8 164.7 734.0C166.5 735.1 168.2 736.4 169.4 738.1C170.7 739.7 171.5 741.7 172.2 743.7C172.9 745.8 173.4 744.3 173.6 750.4C173.9 756.4 179.3 775.2 173.7 780.1C168.1 785.1 146.1 782.0 140.2 780.1Z" fill="none" stroke="#8a8a8a" stroke-width="0.5"/>
<path d="M141.6 780.4C136.1 778.6 140.7 773.1 140.2 769.6C139.7 766.1 139.2 762.3 138.9 759.5C138.6 756.7 138.2 754.6 138.5 752.9C138.8 751.2 140.0 751.0 140.8 749.4C141.7 747.8 142.9 745.3 143.5 743.4C144.2 741.4 144.1 739.3 144.7 737.8C145.3 736.3 146.4 735.2 147.0 734.1C147.6 733.1 147.5 731.7 148.4 731.2C149.4 730.8 151.0 731.0 152.8 731.4C154.5 731.9 156.8 733.2 158.8 734.1C160.8 735.0 163.0 735.7 164.7 736.8C166.4 737.9 168.0 739.1 169.2 740.7C170.4 742.2 171.2 744.1 171.8 746.0C172.5 747.9 172.9 746.6 173.1 752.3C173.4 758.0 178.5 775.7 173.2 780.4C168.0 785.1 147.1 782.2 141.6 780.4Z" fill="none" stroke="#8a8a8a" stroke-width="0.5"/>
<defs><filter id="kr1" x="-30%" y="-30%" width="160%" height="160%"><feGaussianBlur stdDeviation="0.9"/></filter></defs>
<g filter="url(#kr1)">
<path d="M140.8 780.3C135.2 778.4 139.9 772.7 139.4 769.1C138.9 765.5 138.3 761.5 138.0 758.7C137.7 755.8 137.3 753.6 137.6 751.9C138.0 750.1 139.2 749.9 140.0 748.3C140.9 746.6 142.2 744.0 142.8 742.0C143.5 740.0 143.4 737.8 144.0 736.3C144.6 734.7 145.8 733.6 146.4 732.5C147.1 731.4 146.9 729.9 147.9 729.5C148.9 729.0 150.6 729.2 152.4 729.7C154.1 730.2 156.5 731.5 158.6 732.4C160.7 733.3 162.9 734.1 164.7 735.2C166.5 736.4 168.1 737.6 169.3 739.2C170.5 740.8 171.4 742.7 172.0 744.7C172.7 746.7 173.2 745.3 173.4 751.2C173.6 757.1 178.9 775.4 173.5 780.3C168.1 785.1 146.5 782.1 140.8 780.3Z" fill="#777" stroke="none" stroke-width="1" opacity="0.22"/>
<path d="M143.0 724.0C143.2 721.8 144.5 719.8 146.0 719.0C147.5 718.2 150.0 718.8 152.0 719.5C154.0 720.2 156.7 721.6 158.0 723.5C159.3 725.4 160.2 728.6 160.0 731.0C159.8 733.4 158.7 736.8 157.0 738.0C155.3 739.2 152.0 739.0 150.0 738.0C148.0 737.0 146.2 734.3 145.0 732.0C143.8 729.7 142.8 726.2 143.0 724.0Z" fill="#222" stroke="none" stroke-width="1" opacity="0.6"/>
<path d="M145.0 732.0C144.7 730.7 142.8 726.2 143.0 724.0C143.2 721.8 144.5 719.8 146.0 719.0C147.5 718.2 151.0 719.4 152.0 719.5" fill="none" stroke="#000" stroke-width="1.8" opacity="0.8"/>
<ellipse cx="141.5" cy="759.5" rx="2.8" ry="17.5" fill="#000" fill-opacity="0.97"/>
<ellipse cx="147.6" cy="759.5" rx="2.7" ry="17.5" fill="#000" fill-opacity="0.97"/>
<ellipse cx="144.5" cy="760" rx="1.4" ry="15.5" fill="#000" fill-opacity="0.7"/>
<ellipse cx="161.5" cy="753" rx="4.0" ry="22.5" fill="#000" fill-opacity="0.97"/>
<ellipse cx="169.5" cy="753.5" rx="3.0" ry="20.5" fill="#000" fill-opacity="0.95"/>
<ellipse cx="165.8" cy="755" rx="1.3" ry="17" fill="#000" fill-opacity="0.75"/>
<path d="M140.4 748.0C140.6 747.2 141.1 744.2 141.8 743.0C142.5 741.8 143.6 740.6 144.5 740.6C145.4 740.6 146.5 741.8 147.2 743.0C147.9 744.2 148.4 747.2 148.6 748.0" fill="none" stroke="#000" stroke-width="2.6" opacity="0.85"/>
<path d="M158.8 740.0C159.2 739.0 160.0 735.6 161.0 734.0C162.0 732.4 163.7 730.8 165.0 730.5C166.3 730.2 168.0 730.8 169.0 732.0C170.0 733.2 170.7 737.0 171.0 738.0" fill="none" stroke="#000" stroke-width="3.2" opacity="0.8"/>
</g>
<ellipse cx="144.55" cy="760.5" rx="6.6" ry="21.4" fill="none" stroke="#777" stroke-width="0.45"/>
<ellipse cx="144.55" cy="760.5" rx="8.1" ry="22.0" fill="none" stroke="#777" stroke-width="0.45"/>
<path d="M152.7 733.0C152.8 733.7 153.4 735.9 153.4 737.4C153.5 738.9 153.3 740.3 153.1 741.8C152.8 743.3 152.3 744.7 152.1 746.2C151.9 747.7 151.8 749.1 151.9 750.6C152.1 752.1 152.6 753.5 152.8 755.0C153.1 756.5 153.4 757.9 153.4 759.4C153.5 760.9 153.1 762.3 152.9 763.8C152.7 765.3 152.1 766.7 152.0 768.2C151.8 769.7 152.0 771.9 152.0 772.6" fill="none" stroke="#888" stroke-width="0.5"/>
<path d="M154.9 733.0C154.9 733.7 155.0 735.9 154.8 737.4C154.7 738.9 154.1 740.3 153.9 741.8C153.7 743.3 153.4 744.7 153.5 746.2C153.5 747.7 153.9 749.1 154.2 750.6C154.4 752.1 154.9 753.5 155.0 755.0C155.1 756.5 154.9 757.9 154.7 759.4C154.5 760.9 154.0 762.3 153.7 763.8C153.5 765.3 153.4 766.7 153.5 768.2C153.6 769.7 154.2 771.9 154.4 772.6" fill="none" stroke="#fff" stroke-width="0.6"/>
<path d="M156.7 733.0C156.5 733.7 156.1 735.9 155.8 737.4C155.6 738.9 155.2 740.3 155.2 741.8C155.1 743.3 155.4 744.7 155.7 746.2C155.9 747.7 156.4 749.1 156.6 750.6C156.7 752.1 156.7 753.5 156.6 755.0C156.4 756.5 155.9 757.9 155.7 759.4C155.4 760.9 155.1 762.3 155.2 763.8C155.2 765.3 155.6 766.7 155.8 768.2C156.1 769.7 156.5 771.9 156.7 772.6" fill="none" stroke="#888" stroke-width="0.5"/>
<line x1="165.8" y1="740" x2="165.8" y2="771.3" stroke="#e8e8e8" stroke-width="0.8" stroke-dasharray="0.8 0.8"/>
<path d="M146.3 725.6C146.4 724.3 147.2 723.1 148.2 722.6C149.1 722.2 150.6 722.5 151.8 723.0C152.9 723.4 154.5 724.2 155.3 725.4C156.2 726.5 156.7 728.4 156.6 729.9C156.5 731.3 155.8 733.3 154.8 734.0C153.8 734.8 151.8 734.6 150.6 734.0C149.4 733.4 148.2 731.9 147.6 730.5C146.9 729.1 146.2 727.0 146.3 725.6Z" fill="none" stroke="#ccc" stroke-width="0.55"/>
<path d="M146.3 725.6C146.4 725.0 146.8 724.4 147.2 724.1C147.7 723.9 148.5 724.1 149.1 724.3C149.7 724.5 150.4 724.9 150.8 725.5C151.2 726.1 151.5 727.0 151.4 727.8C151.4 728.5 151.1 729.5 150.6 729.8C150.1 730.2 149.0 730.1 148.4 729.8C147.8 729.5 147.3 728.8 146.9 728.0C146.6 727.3 146.3 726.3 146.3 725.6Z" fill="none" stroke="#e4e4e4" stroke-width="0.55"/>
</g>
</g>
<path d="M84.4 689.2L142.3 689.2L141.6 714L135.6 739.2L84.4 739.2Z" fill="none" stroke="#111" stroke-width="1.0"/>
<rect x="85.0" y="689.8000000000001" width="13.4" height="12.8" fill="#fff" stroke="none" stroke-width="1"/>
<path d="M98.60000000000001 689.2V702.6H84.4" fill="none" stroke="#333" stroke-width="0.8"/>
<text x="88.30000000000001" y="700.8000000000001" font-size="12" text-anchor="start" font-weight="normal" fill="#111">3</text>
<line x1="84.4" y1="689.2" x2="175.7" y2="689.2" stroke="#666" stroke-width="0.8"/>
<line x1="175.7" y1="689.2" x2="175.7" y2="779.3" stroke="#666" stroke-width="0.8"/>
<line x1="84.4" y1="689.2" x2="84.4" y2="779.3" stroke="#666" stroke-width="0.8"/>
<line x1="84.4" y1="779.3" x2="175.7" y2="779.3" stroke="#111" stroke-width="1.2"/>
<line x1="82.80000000000001" y1="757.3243902439024" x2="84.4" y2="757.3243902439024" stroke="#777" stroke-width="0.7"/>
<line x1="106.66829268292683" y1="779.3" x2="106.66829268292683" y2="781.0999999999999" stroke="#888" stroke-width="0.7"/>
<line x1="82.80000000000001" y1="735.3487804878049" x2="84.4" y2="735.3487804878049" stroke="#777" stroke-width="0.7"/>
<line x1="128.93658536585366" y1="779.3" x2="128.93658536585366" y2="781.0999999999999" stroke="#888" stroke-width="0.7"/>
<line x1="82.80000000000001" y1="713.3731707317073" x2="84.4" y2="713.3731707317073" stroke="#777" stroke-width="0.7"/>
<line x1="151.2048780487805" y1="779.3" x2="151.2048780487805" y2="781.0999999999999" stroke="#888" stroke-width="0.7"/>
<line x1="82.80000000000001" y1="691.3975609756098" x2="84.4" y2="691.3975609756098" stroke="#777" stroke-width="0.7"/>
<line x1="173.4731707317073" y1="779.3" x2="173.4731707317073" y2="781.0999999999999" stroke="#888" stroke-width="0.7"/>
<g transform="scale(.1)"><path d="M2293 5938h8m29 65h8m140 4h8m12 9h8m215 6h8m-318 5h8m-79 1h8m530 63h8m-291 5h8m-51 3h8m297 9h8m-172 3h8m132 7h8m-98 4h8m-83 11h8m-211 18h8m-17 6h8m266 3h8m-1 3h8m35 0h8m-259 14h8m291 7h8m-12 3h8m-219 3h8m235 3h8m-329 1h8m109 1h8m169 0h8m-111 2h8m-248 5h8m84 7h8m198 5h8m-290 1h8m182 0h8m-116 6h8m226 22h8m-260 2h8m199 1h8m24 1h8m9 23h8m-333 3h8m-45 4h8m333 2h8m28 3h8m-70 1h8m-318 1h8m172 3h8m-153 1h8m281 1h8m-45 4h8m-259 4h8m81 0h8m253 0h8m-306 8h8m55 5h8m35 1h8m97 13h8m-326 16h8m8 14h8m250 5h8m-275 9h8m378 12h8m-376 2h8m-26 14h8m45 0h8m339 9h8m-44 3h8m-361 2h8m247 8h8m-271 6h8m385 0h8m-310 1h8m131 1h8m-246 12h8m283 1h8m14 0h8m-120 3h8m-207 10h8m180 3h8m-197 11h8m253 7h8m-278 7h8m3 14h8m139 13h8m-159 1h8m300 8h8m20 4h8m-335 2h8m368 11h8m-381 3h8m65 9h8m-71 5h8m-7 14h8m158 12h8m-188 2h8m-13 14h8m171 6h8m-188 8h8m262 1h8m-29 4h8m-157 2h8m272 4h8m-397 3h8m289 0h8m-2 13h8m-305 1h8m100 8h8m-128 6h8m199 2h8m-116 4h8m79 5h8m-185 3h8m344 4h8m-243 1h8m-126 5h8m6 0h8m-15 3h8m-16 1h8m38 4h8m-53 10h8m316 13h8m-321 1h8m3 14h8" stroke="#000" stroke-width="7.4" fill="none" opacity="0.85"/></g>
<defs><clipPath id="fc0"><rect x="201.20000000000002" y="585.0" width="90.10000000000001" height="90.50000000000004"/></clipPath></defs><g clip-path="url(#fc0)">
<path d="M201.5 613.4C203.8 613.5 209.9 613.7 215.0 613.9C220.1 614.1 227.8 614.2 232.0 614.6C236.2 615.0 238.7 615.1 240.5 616.2C242.3 617.3 242.6 618.4 242.8 621.0C243.1 623.6 241.9 628.3 242.0 632.0C242.1 635.7 243.6 639.2 243.5 643.0C243.4 646.8 241.6 651.2 241.5 655.0C241.4 658.8 243.1 662.7 243.0 666.0C242.9 669.3 241.3 673.5 241.0 675.0L201.5 675.0Z" fill="#fff" stroke="#888" stroke-width="0.5"/>
<path d="M241.0 615.2C243.0 612.4 249.8 614.2 253.5 614.6C257.2 615.0 260.1 616.1 263.0 617.4C265.9 618.7 270.8 621.1 270.8 622.6C270.8 624.1 266.1 625.4 263.0 626.6C259.9 627.8 255.6 628.8 252.0 629.6C248.4 630.4 243.3 633.6 241.5 631.2C239.7 628.8 239.0 618.0 241.0 615.2Z" fill="#fff" stroke="#666" stroke-width="0.55"/>
<path d="M241.0 617.8C242.4 615.8 247.1 616.5 250.0 616.8C252.9 617.1 256.1 618.6 258.5 619.6C260.9 620.6 264.5 621.6 264.5 622.6C264.5 623.6 260.9 624.5 258.5 625.4C256.1 626.3 252.8 627.4 250.0 628.0C247.2 628.6 243.0 630.5 241.5 628.8C240.0 627.1 239.6 619.8 241.0 617.8Z" fill="none" stroke="#777" stroke-width="0.5"/>
<path d="M243.5 620.4C247.5 620.4 250 624.6 253.8 624.6C257.6 624.6 257.6 620.4 253.8 620.4C250 620.4 247.5 624.6 243.5 624.8" fill="none" stroke="#555" stroke-width="0.55"/>
<path d="M201.4 614.4C203.4 614.4 208.7 614.7 213.2 614.9C217.6 615.1 224.3 615.2 228.0 615.5C231.7 615.9 233.8 616.1 235.4 617.1C236.9 618.2 237.1 619.3 237.4 621.8C237.6 624.4 236.6 629.1 236.7 632.7C236.8 636.3 238.0 639.7 238.0 643.5C237.9 647.3 236.3 651.5 236.2 655.3C236.1 659.1 237.6 662.9 237.5 666.1C237.5 669.4 236.1 673.5 235.8 675.0L201.4 675.0Z" fill="none" stroke="#888" stroke-width="0.5"/>
<path d="M201.3 615.3C203.0 615.3 207.7 615.5 211.5 615.7C215.3 615.9 221.0 616.0 224.2 616.4C227.4 616.8 229.2 616.9 230.6 618.0C231.9 619.0 232.1 620.1 232.3 622.6C232.5 625.2 231.6 629.7 231.7 633.3C231.8 636.9 232.9 640.2 232.8 644.0C232.8 647.7 231.4 651.9 231.3 655.6C231.3 659.3 232.5 663.0 232.5 666.3C232.4 669.5 231.2 673.6 231.0 675.0L201.3 675.0Z" fill="none" stroke="#888" stroke-width="0.5"/>
<path d="M201.3 615.9C202.8 616.0 206.9 616.2 210.2 616.4C213.6 616.6 218.6 616.7 221.4 617.1C224.2 617.4 225.8 617.6 227.0 618.6C228.2 619.6 228.4 620.7 228.6 623.2C228.7 625.7 227.9 630.2 228.0 633.8C228.1 637.3 229.1 640.6 229.0 644.3C229.0 648.0 227.8 652.1 227.7 655.8C227.6 659.5 228.7 663.2 228.7 666.4C228.6 669.6 227.6 673.6 227.4 675.0L201.3 675.0Z" fill="none" stroke="#888" stroke-width="0.5"/>
<defs><filter id="fb0" x="-30%" y="-30%" width="160%" height="160%"><feGaussianBlur stdDeviation="0.9"/></filter></defs>
<g filter="url(#fb0)">
<path d="M206.4 618.8C207.7 614.2 210.7 617.7 213.4 617.6C216.0 617.5 219.5 617.5 222.2 618.1C224.8 618.6 227.8 619.1 229.3 620.9C230.8 622.6 231.1 625.4 231.2 628.6C231.2 631.8 229.6 636.2 229.6 639.9C229.7 643.7 231.5 647.7 231.5 651.3C231.6 654.9 231.1 658.7 229.9 661.6C228.7 664.4 227.1 666.8 224.4 668.3C221.6 669.7 216.3 670.4 213.4 670.1C210.4 669.9 208.1 670.9 206.8 666.7C205.5 662.5 205.7 653.1 205.7 645.1C205.6 637.1 205.2 623.4 206.4 618.8Z" fill="#777" stroke="none" stroke-width="1" opacity="0.42"/>
<path d="M207.7 619.5C208.9 615.0 211.6 618.4 214.0 618.3C216.4 618.2 219.6 618.3 222.0 618.8C224.4 619.3 227.1 619.8 228.5 621.5C229.9 623.2 230.1 625.9 230.2 629.0C230.2 632.1 228.8 636.3 228.8 640.0C228.9 643.7 230.5 647.5 230.5 651.0C230.5 654.5 230.1 658.2 229.0 661.0C227.9 663.8 226.5 666.1 224.0 667.5C221.5 668.9 216.7 669.5 214.0 669.3C211.3 669.0 209.2 670.0 208.0 666.0C206.8 662.0 207.1 652.8 207.0 645.0C206.9 637.2 206.5 624.0 207.7 619.5Z" fill="none" stroke="#000" stroke-width="2.0" opacity="0.76"/>
<path d="M208.0 666.0C207.8 662.5 207.1 652.8 207.0 645.0C206.9 637.2 206.5 624.0 207.7 619.5C208.9 615.0 211.6 618.4 214.0 618.3C216.4 618.2 219.6 618.3 222.0 618.8C224.4 619.3 227.4 621.0 228.5 621.5" fill="none" stroke="#000" stroke-width="3.0" opacity="0.95"/>
</g>
<path d="M209.7 622.2C210.5 618.0 212.3 620.6 214.4 620.4C216.5 620.2 220.3 620.3 222.4 621.0C224.5 621.8 225.6 623.2 226.8 624.9C228.0 626.7 229.5 628.9 229.6 631.4C229.6 634.0 227.1 637.1 226.9 640.3C226.7 643.5 228.3 647.6 228.4 650.6C228.4 653.6 227.8 655.8 227.2 658.1C226.5 660.3 226.3 662.4 224.2 663.9C222.2 665.3 217.1 666.9 214.7 666.7C212.3 666.5 210.8 666.1 209.9 662.6C209.0 659.0 209.5 652.1 209.4 645.4C209.4 638.7 208.9 626.4 209.7 622.2Z" fill="none" stroke="#333" stroke-width="0.5"/>
<path d="M212.0 626.2C212.8 623.0 213.7 625.8 215.4 625.7C217.1 625.5 220.3 624.8 222.1 625.3C224.0 625.7 225.8 627.1 226.7 628.3C227.6 629.5 227.9 630.5 227.7 632.6C227.5 634.7 225.7 638.3 225.6 640.9C225.5 643.5 227.0 645.8 227.1 648.2C227.2 650.5 226.6 653.2 226.0 655.2C225.3 657.3 225.0 659.3 223.4 660.3C221.7 661.4 218.1 661.4 216.2 661.3C214.3 661.2 212.9 662.5 211.9 659.7C211.0 656.9 210.3 650.1 210.3 644.5C210.3 638.9 211.1 629.3 212.0 626.2Z" fill="none" stroke="#333" stroke-width="0.5"/>
<path d="M213.4 629.0C213.9 626.5 215.1 629.2 216.3 629.3C217.4 629.4 219.0 629.2 220.3 629.4C221.6 629.6 223.1 629.6 224.1 630.4C225.0 631.3 225.7 632.8 225.9 634.6C226.2 636.4 225.6 639.1 225.7 641.3C225.7 643.5 226.4 646.0 226.2 647.8C226.0 649.6 225.2 650.5 224.5 651.9C223.8 653.2 223.2 655.1 221.9 656.0C220.6 657.0 218.0 657.8 216.7 657.6C215.3 657.4 214.2 656.8 213.7 654.7C213.1 652.5 213.4 648.9 213.3 644.6C213.3 640.3 213.0 631.6 213.4 629.0Z" fill="none" stroke="#333" stroke-width="0.5"/>
<path d="M218.0 642.0C216.7 642.3 213.9 642.0 212.8 641.3C211.7 640.5 211.3 638.6 211.5 637.5C211.6 636.3 212.3 635.2 213.4 634.4C214.5 633.7 216.5 632.9 217.9 633.2C219.3 633.4 221.2 634.8 221.7 635.8C222.2 636.9 221.5 638.5 220.9 639.5C220.3 640.6 219.4 641.7 218.0 642.0Z" fill="none" stroke="#333" stroke-width="0.45"/>
<path d="M214.4 648.7C212.8 648.9 210.8 648.9 209.8 647.9C208.8 646.8 208.2 643.9 208.5 642.6C208.9 641.2 210.4 640.3 211.9 639.8C213.4 639.3 216.3 639.1 217.8 639.5C219.2 640.0 220.3 641.3 220.6 642.4C220.8 643.6 220.4 645.3 219.4 646.3C218.4 647.4 216.0 648.4 214.4 648.7Z" fill="none" stroke="#333" stroke-width="0.45"/>
<path d="M225.3 651.0C224.6 651.2 223.6 652.1 223.1 651.8C222.6 651.6 222.2 650.0 222.3 649.4C222.3 648.8 222.7 648.4 223.3 648.1C223.8 647.8 224.8 647.5 225.5 647.5C226.2 647.6 227.0 647.9 227.3 648.4C227.6 648.9 227.7 650.2 227.3 650.7C227.0 651.1 226.0 650.8 225.3 651.0Z" fill="none" stroke="#333" stroke-width="0.45"/>
<path d="M223.2 640.0C222.0 640.6 220.6 640.1 219.6 639.5C218.5 639.0 217.3 637.6 217.1 636.5C216.9 635.4 217.6 634.1 218.4 633.1C219.2 632.0 220.5 630.4 221.8 630.2C223.1 630.0 225.4 630.9 226.1 631.9C226.9 632.9 226.8 634.7 226.3 636.0C225.8 637.4 224.3 639.4 223.2 640.0Z" fill="none" stroke="#333" stroke-width="0.45"/>
<path d="M219.0 629.3C218.5 630.2 217.1 631.3 216.2 631.5C215.4 631.8 214.5 631.6 213.9 631.0C213.3 630.4 212.5 628.9 212.7 627.9C212.9 627.0 214.2 626.0 215.0 625.1C215.8 624.3 216.5 622.9 217.3 623.1C218.0 623.2 219.1 625.0 219.4 626.1C219.7 627.1 219.5 628.4 219.0 629.3Z" fill="none" stroke="#333" stroke-width="0.45"/>
<path d="M215.1 623.6C215.0 624.5 214.3 626.3 213.6 626.7C212.9 627.1 211.4 626.5 210.9 626.2C210.3 625.8 210.2 625.5 210.3 624.6C210.4 623.7 210.8 621.5 211.4 620.8C212.0 620.0 213.3 620.0 213.8 620.0C214.3 620.1 214.3 620.6 214.5 621.2C214.7 621.8 215.3 622.6 215.1 623.6Z" fill="none" stroke="#333" stroke-width="0.45"/>
<path d="M225.0 651.4C225.0 652.6 224.2 653.1 223.1 653.6C221.9 654.0 219.5 654.2 218.0 653.8C216.6 653.4 215.0 652.2 214.5 651.2C214.0 650.1 214.3 648.6 215.1 647.6C215.8 646.5 217.7 645.0 219.1 644.8C220.5 644.6 222.4 645.2 223.4 646.3C224.4 647.4 225.1 650.2 225.0 651.4Z" fill="none" stroke="#333" stroke-width="0.45"/>
<path d="M224.7 664.6C223.9 665.0 222.5 664.6 221.6 664.2C220.7 663.8 219.8 663.4 219.3 662.3C218.8 661.3 218.1 658.7 218.6 657.9C219.1 657.1 221.3 657.3 222.3 657.4C223.4 657.4 224.4 657.5 225.0 658.3C225.7 659.1 226.3 661.2 226.2 662.3C226.2 663.3 225.5 664.3 224.7 664.6Z" fill="none" stroke="#333" stroke-width="0.45"/>
<path d="M217.5 641.7C216.6 642.7 214.3 644.1 213.1 644.2C212.0 644.2 211.3 642.9 210.8 642.1C210.2 641.3 209.6 640.4 209.7 639.4C209.8 638.3 210.5 636.6 211.3 635.8C212.1 635.1 213.3 634.8 214.5 635.1C215.6 635.5 217.7 636.8 218.2 637.9C218.7 639.0 218.3 640.6 217.5 641.7Z" fill="none" stroke="#333" stroke-width="0.45"/>
<path d="M226.8 642.1C226.0 642.5 225.1 643.0 224.5 642.5C223.8 642.1 223.2 640.4 222.9 639.6C222.6 638.7 222.6 637.9 222.9 637.5C223.2 637.0 223.9 636.7 224.7 636.7C225.5 636.7 227.0 637.1 227.7 637.8C228.4 638.4 228.9 639.6 228.7 640.3C228.6 641.1 227.5 641.8 226.8 642.1Z" fill="none" stroke="#333" stroke-width="0.45"/>
<path d="M222.6 664.1C221.9 665.1 220.3 666.3 218.8 666.1C217.3 665.8 214.8 663.7 213.8 662.5C212.7 661.4 212.3 660.5 212.5 659.2C212.6 658.0 213.4 655.8 214.6 655.3C215.7 654.8 217.9 655.2 219.3 656.0C220.8 656.8 222.7 658.8 223.3 660.2C223.8 661.5 223.4 663.1 222.6 664.1Z" fill="none" stroke="#333" stroke-width="0.45"/>
<path d="M225.4 661.7C224.9 662.3 223.8 663.3 222.8 662.9C221.7 662.5 219.8 660.3 219.2 659.3C218.6 658.3 219.2 657.5 219.4 656.7C219.7 656.0 220.0 654.8 220.7 654.7C221.4 654.5 222.8 655.1 223.7 655.9C224.6 656.7 225.9 658.5 226.2 659.5C226.5 660.5 226.0 661.1 225.4 661.7Z" fill="none" stroke="#333" stroke-width="0.45"/>
<path d="M227.0 630.3C226.5 631.3 225.1 633.2 224.0 633.4C222.9 633.7 221.4 632.6 220.5 631.7C219.6 630.9 218.8 629.3 218.7 628.3C218.6 627.3 219.2 626.2 220.2 625.7C221.1 625.2 223.3 625.2 224.4 625.5C225.5 625.7 226.4 626.4 226.8 627.2C227.3 628.0 227.5 629.2 227.0 630.3Z" fill="none" stroke="#333" stroke-width="0.45"/>
<path d="M230.0 652.4C229.9 653.1 230.0 653.2 229.5 653.6C229.1 653.9 227.9 654.7 227.3 654.6C226.6 654.5 225.8 653.6 225.7 653.0C225.6 652.3 226.4 651.4 226.7 650.8C227.1 650.3 227.3 649.8 227.8 649.6C228.4 649.4 229.4 649.3 229.8 649.8C230.2 650.3 230.0 651.8 230.0 652.4Z" fill="none" stroke="#333" stroke-width="0.45"/>
<path d="M224.0 659.3C223.6 660.3 222.5 661.3 221.5 661.7C220.5 662.1 218.8 662.1 217.7 661.7C216.6 661.3 215.3 660.3 214.8 659.3C214.2 658.3 214.1 656.8 214.4 655.9C214.8 654.9 215.9 653.9 216.9 653.5C217.9 653.1 219.6 653.1 220.7 653.5C221.8 653.9 223.1 654.9 223.6 655.9C224.2 656.9 224.3 658.4 224.0 659.3Z" fill="none" stroke="#444" stroke-width="0.5"/>
<path d="M222.6 658.8C222.3 659.5 221.6 660.2 220.8 660.5C220.1 660.8 218.9 660.8 218.1 660.5C217.4 660.2 216.5 659.5 216.1 658.8C215.7 658.1 215.6 657.1 215.8 656.4C216.1 655.7 216.8 655.0 217.6 654.7C218.3 654.4 219.5 654.4 220.3 654.7C221.0 655.0 221.9 655.7 222.3 656.4C222.7 657.1 222.8 658.1 222.6 658.8Z" fill="none" stroke="#444" stroke-width="0.5"/>
<path d="M221.3 658.3C221.1 658.8 220.6 659.2 220.2 659.4C219.7 659.6 219.0 659.6 218.6 659.4C218.1 659.2 217.5 658.8 217.3 658.3C217.1 657.9 217.0 657.3 217.1 656.9C217.3 656.4 217.8 656.0 218.2 655.8C218.7 655.6 219.4 655.6 219.8 655.8C220.3 656.0 220.9 656.4 221.1 656.9C221.3 657.3 221.4 657.9 221.3 658.3Z" fill="#fff" stroke="#444" stroke-width="0.5"/>
<path d="M220.2 658.0C220.1 658.2 219.9 658.4 219.7 658.4C219.5 658.5 219.1 658.5 218.9 658.4C218.7 658.4 218.4 658.1 218.3 657.9C218.2 657.7 218.2 657.4 218.2 657.2C218.3 657.0 218.5 656.8 218.7 656.8C218.9 656.7 219.3 656.7 219.5 656.8C219.7 656.8 220.0 657.1 220.1 657.3C220.2 657.5 220.2 657.8 220.2 658.0Z" fill="none" stroke="#444" stroke-width="0.5"/>
<path d="M221.6 626.4C221.6 627.2 221.1 628.2 220.4 628.8C219.7 629.4 218.5 629.8 217.5 629.8C216.5 629.8 215.3 629.4 214.6 628.8C213.9 628.2 213.4 627.2 213.4 626.4C213.4 625.6 213.9 624.6 214.6 624.0C215.3 623.4 216.5 623.0 217.5 623.0C218.5 623.0 219.7 623.4 220.4 624.0C221.1 624.6 221.6 625.6 221.6 626.4Z" fill="none" stroke="#555" stroke-width="0.5"/>
<path d="M220.0 626.4C220.0 626.9 219.7 627.5 219.3 627.9C218.9 628.2 218.1 628.5 217.5 628.5C216.9 628.5 216.1 628.2 215.7 627.9C215.3 627.5 215.0 626.9 215.0 626.4C215.0 625.9 215.3 625.3 215.7 624.9C216.1 624.6 216.9 624.3 217.5 624.3C218.1 624.3 218.9 624.6 219.3 624.9C219.7 625.3 220.0 625.9 220.0 626.4Z" fill="#f4f4f4" stroke="#555" stroke-width="0.5"/>
<path d="M218.7 626.4C218.7 626.6 218.5 626.9 218.3 627.1C218.1 627.3 217.8 627.4 217.5 627.4C217.2 627.4 216.9 627.3 216.7 627.1C216.5 626.9 216.3 626.6 216.3 626.4C216.3 626.2 216.5 625.9 216.7 625.7C216.9 625.5 217.2 625.4 217.5 625.4C217.8 625.4 218.1 625.5 218.3 625.7C218.5 625.9 218.7 626.2 218.7 626.4Z" fill="none" stroke="#555" stroke-width="0.5"/>
<path d="M216.0 633.4C216.8 634.1 220.2 635.7 220.5 637.4C220.8 639.1 217.3 641.6 217.5 643.4C217.7 645.2 221.3 646.9 221.5 648.4C221.7 649.9 219.0 651.7 218.5 652.4" fill="none" stroke="#fff" stroke-width="0.9"/>
<path d="M201.3 612.9L204.5 616.4L205.8 671.0L230 672.0L238 672.8L251 674.8L201.3 675.2Z" fill="#0a0a0a" stroke="none" stroke-width="1"/>
<line x1="207.3" y1="620.4" x2="207.5" y2="667.2" stroke="#111" stroke-width="1.6" opacity="0.8"/>
</g>
<rect x="242.3" y="607.4" width="43.2" height="24.5" fill="none" stroke="#111" stroke-width="1.0"/>
<text x="264.3" y="603.6" font-size="11.8" text-anchor="middle" font-weight="normal" fill="#111">1.6</text>
<line x1="200.9" y1="585.0" x2="291.3" y2="585.0" stroke="#666" stroke-width="0.8"/>
<line x1="291.3" y1="585.0" x2="291.3" y2="675.2" stroke="#666" stroke-width="0.8"/>
<line x1="200.9" y1="585.0" x2="200.9" y2="675.2" stroke="#666" stroke-width="0.8"/>
<line x1="200.9" y1="675.2" x2="291.3" y2="675.2" stroke="#333" stroke-width="1.0"/>
<line x1="199.3" y1="653.2" x2="200.9" y2="653.2" stroke="#777" stroke-width="0.7"/>
<line x1="222.9487804878049" y1="675.2" x2="222.9487804878049" y2="677.0" stroke="#888" stroke-width="0.7"/>
<line x1="199.3" y1="631.2" x2="200.9" y2="631.2" stroke="#777" stroke-width="0.7"/>
<line x1="244.99756097560976" y1="675.2" x2="244.99756097560976" y2="677.0" stroke="#888" stroke-width="0.7"/>
<line x1="199.3" y1="609.2" x2="200.9" y2="609.2" stroke="#777" stroke-width="0.7"/>
<line x1="267.04634146341465" y1="675.2" x2="267.04634146341465" y2="677.0" stroke="#888" stroke-width="0.7"/>
<line x1="199.3" y1="587.2" x2="200.9" y2="587.2" stroke="#777" stroke-width="0.7"/>
<line x1="289.09512195121954" y1="675.2" x2="289.09512195121954" y2="677.0" stroke="#888" stroke-width="0.7"/>
<g transform="scale(.1)"><path d="M2254 7101h8m-4 1h8m15 0h8m3 2h8m50 0h8m111 7h8m-214 3h8m65 1h8m-13 2h8m30 0h8m-79 1h8m136 1h8m-42 1h8m-95 1h8m-1 3h8m-4 3h8m-76 3h8m95 1h8m-64 2h8m23 0h8m18 0h8m-109 2h8m144 2h8m-81 1h8m23 1h8m18 0h8m9 1h8m-1 0h8m23 1h8m-145 1h8m89 0h8m14 0h8m-48 2h8m-42 2h8m18 0h8m-40 1h8m60 3h8m15 2h8m-205 1h8m159 0h8m-29 1h8m-16 2h8m6 1h8m-51 2h8m-31 2h8m41 0h8m39 0h8m-90 1h8m73 1h8m-131 3h8m53 0h8m-66 1h8m-6 1h8m67 0h8m-35 1h8m51 2h8m-36 2h8m-102 1h8m72 0h8m-47 1h8m-47 1h8m23 0h8m-97 1h8m101 1h8m25 3h8m7 0h8m-6 0h8m-35 2h8m-50 1h8m52 1h8m-16 2h8m-25 1h8m47 0h8m26 1h8m-68 5h8m-6 0h8m10 0h8m-186 1h8m104 0h8m57 1h8m-79 1h8m46 0h8m-5 0h8m-89 1h8m101 0h8m-129 1h8m38 0h8m9 0h8m27 0h8m1 1h8m-94 1h8m75 0h8m-118 3h8m95 1h8m-89 1h8m32 0h8m-32 1h8m3 0h8m80 1h8m-23 3h8m-65 1h8m37 0h8m47 0h8m-177 1h8m30 0h8m-73 1h8m131 0h8m-74 1h8m46 0h8m-95 1h8m2 0h8m74 0h8m-169 1h8m53 1h8m85 2h8m18 0h8m-2 1h8m-123 3h8m30 0h8m6 1h8m47 0h8m-128 1h8m39 0h8m4 0h8m3 1h8m-82 1h8m95 1h8m3 0h8m-110 2h8m111 1h8m-112 1h8m0 1h8m57 0h8m-35 1h8m-19 1h8m-36 2h8m57 1h8m-7 0h8m-12 1h8m-101 1h8m13 1h8m-20 1h8m85 0h8m13 0h8m-10 1h8m-65 1h8m-2 5h8m29 2h8m-31 1h8m56 3h8m-68 4h8m23 0h8m-13 1h8m35 0h8m-60 1h8m79 0h8m-95 5h8m-22 1h8m6 3h8m49 1h8m-44 3h8m30 2h8m-88 1h8m30 1h8m12 0h8m-52 2h8m0 0h8m-6 2h8m-31 2h8m41 0h8m-52 1h8m3 0h8m60 0h8m-67 1h8m-23 1h8m94 1h8m-108 3h8m15 3h8m-27 2h8m-20 1h8m20 1h8m-41 1h8m16 0h8m-35 1h8m13 3h8m16 0h8m-32 1h8m-17 1h8m37 0h8m-46 1h8m1 0h8m-45 1h8m11 0h8m71 0h8m-84 6h8m-2 0h8m1 0h8m-14 1h8m-3 0h8m1 1h8m29 1h8m-49 1h8m30 0h8m-67 4h8m0 1h8m55 0h8m-54 5h8m79 0h8m-98 3h8m26 0h8m-45 1h8m-40 1h8m55 1h8m-68 2h8m10 0h8m-5 0h8m5 1h8m-9 1h8m23 1h8m-6 1h8m56 0h8m-101 4h8m-2 0h8m-53 2h8m-6 1h8m5 0h8m1 0h8m27 0h8m-42 3h8m21 0h8m4 0h8m-5 0h8m-53 5h8m49 0h8m-69 3h8m35 3h8m-80 1h8m13 0h8m31 0h8m-62 1h8m25 0h8m-42 1h8m6 2h8m5 1h8m-19 5h8m48 0h8m-83 2h8m2 1h8m64 0h8m-68 2h8m-15 1h8m10 4h8m-4 1h8m-44 2h8m8 2h8m-25 1h8m9 0h8m44 0h8m-67 3h8m7 0h8m-41 3h8m-6 0h8m18 0h8m-27 2h8m30 1h8m-40 1h8m25 2h8m-30 1h8m2 0h8m-46 1h8m18 0h8m-9 1h8m-30 2h8m12 1h8m22 3h8m-50 2h8m37 0h8m10 2h8m-73 2h8m-1 4h8m-7 0h8m-3 2h8m-7 0h8m-27 1h8m34 3h8m-50 2h8m14 2h8m5 0h8m-33 5h8m-14 2h8m54 3h8m18 5h8m-105 1h8m-9 2h8m30 0h8m-45 1h8m2 1h8m3 1h8m-7 0h8m-1 0h8m46 0h8m-43 2h8m-65 1h8m12 0h8m8 0h8m4 0h8m-28 6h8m-16 1h8m-5 0h8m21 2h8m-46 1h8m20 1h8m10 0h8m-15 1h8m12 0h8m-68 1h8m11 0h8m1 0h8m-46 7h8m-6 0h8m19 0h8m-25 2h8m-18 1h8m70 1h8m-44 1h8m22 0h8m-51 2h8m-12 1h8m-2 1h8m11 2h8m-58 1h8m-7 2h8m-15 1h8m27 0h8m-17 2h8m10 3h8m-36 2h8m-23 1h8m76 0h8m-77 3h8m-19 1h8m-2 0h8m5 1h8m-4 0h8m-4 0h8m-32 1h8m-3 0h8m18 0h8m0 0h8m-45 1h8m-5 0h8m-1 1h8m1 2h8m-30 1h8m-3 0h8m12 0h8m12 1h8m-63 4h8m32 0h8m32 1h8m-71 1h8m-6 0h8m5 0h8m2 0h8m-26 1h8m15 0h8m25 0h8m-76 1h8m-7 1h8m-20 3h8m5 1h8m9 3h8m7 1h8m65 0h8m-105 2h8m224 0h8m-266 3h8m4 0h8m8 0h8m-18 3h8m-10 4h8m-4 2h8m5 0h8m26 0h8m-65 2h8m17 0h8m-40 2h8m18 0h8m0 0h8m-28 3h8m10 0h8m-39 1h8m36 0h8m65 0h8m-79 1h8m-60 1h8m35 0h8m-56 2h8m30 1h8m-26 1h8m-23 5h8m1 0h8m16 3h8m-8 0h8m110 0h8m-155 1h8m11 0h8m-5 1h8m-35 1h8m36 4h8m-46 3h8m-1 0h8m-5 0h8m-22 1h8m2 3h8m-3 0h8m8 0h8m-43 2h8m4 1h8m44 1h8m111 4h8m-184 1h8m-8 1h8m-15 1h8m-11 1h8m39 0h8m-7 1h8m-45 3h8m7 2h8m4 0h8m-47 2h8m10 0h8m-8 0h8m30 0h8m-21 3h8m-53 1h8m25 1h8m2 4h8m-8 0h8m-51 1h8m13 1h8m-33 2h8m10 0h8m25 1h8m-57 1h8m38 4h8m15 0h8m-77 1h8m14 0h8m1 0h8m-26 2h8m-5 0h8m15 1h8m-45 2h8m29 0h8m-38 1h8m7 0h8m-31 1h8m33 0h8m-37 3h8m0 0h8m-29 4h8m30 3h8m-28 1h8m-13 2h8m25 0h8m-51 1h8m0 4h8m-26 4h8m-1 2h8m10 0h8m-7 1h8m-26 1h8m19 0h8m-32 2h8m34 0h8m-64 1h8m11 0h8m-27 3h8m-5 3h8m-10 1h8m-4 0h8m21 0h8m-49 1h8m26 0h8m-25 1h8m11 2h8m-20 3h8m25 0h8m-6 0h8m-40 1h8m-21 1h8m-21 1h8m20 0h8m20 0h8m10 6h8m-67 1h8m-24 1h8m16 2h8m-13 2h8m-28 2h8m-6 2h8m0 0h8m-13 3h8m241 0h8m-257 1h8m32 0h8m237 0h8m-281 2h8m-2 1h8m-20 1h8m-16 2h8m157 3h8m-157 1h8m8 0h8m-27 2h8m-31 2h8m20 2h8m-28 2h8m-5 1h8m-19 3h8m8 1h8m-7 0h8m-2 0h8m-4 0h8m-38 2h8m23 0h8m-10 2h8m-16 1h8m-7 0h8m-25 2h8m6 1h8m28 0h8m-46 1h8m-2 5h8m-39 2h8m52 6h8m-64 2h8m-2 0h8m1 2h8m1 0h8m176 1h8m-202 5h8m-12 2h8m-1 0h8m-25 2h8m161 1h8m-177 1h8m-15 3h8m13 0h8m-22 2h8m35 0h8m-43 2h8m19 0h8m-45 1h8m-6 0h8m-13 1h8m-2 3h8m33 0h8m-35 1h8m-13 1h8m-3 1h8m-30 1h8m7 1h8m-23 1h8m6 1h8m-4 0h8m-23 2h8m-9 1h8m-6 2h8m-11 2h8m4 0h8m0 3h8m-24 1h8m5 0h8" stroke="#000" stroke-width="7.4" fill="none" opacity="0.85"/></g>
<defs><clipPath id="fc1"><rect x="201.20000000000002" y="688.6" width="90.10000000000001" height="91.3"/></clipPath></defs><g clip-path="url(#fc1)">
<path d="M201.5 716.0C203.2 716.6 208.1 718.7 212.0 719.5C215.9 720.3 221.3 720.3 225.0 721.0C228.7 721.7 231.9 722.2 234.0 723.5C236.1 724.8 237.3 726.2 237.8 729.0C238.3 731.8 237.0 736.2 236.8 740.0C236.6 743.8 237.0 748.0 236.5 752.0C236.0 756.0 234.9 760.3 234.0 764.0C233.1 767.7 232.3 771.5 231.0 774.0C229.7 776.5 226.8 778.2 226.0 779.0L201.5 779.4Z" fill="#fff" stroke="#888" stroke-width="0.5"/>
<path d="M201.4 716.9C203.0 717.5 207.2 719.5 210.7 720.4C214.1 721.2 218.9 721.2 222.1 721.8C225.3 722.5 228.2 723.0 230.0 724.3C231.9 725.6 233.0 727.0 233.4 729.7C233.8 732.4 232.7 736.8 232.5 740.6C232.3 744.3 232.6 748.5 232.2 752.4C231.8 756.3 230.8 760.6 230.0 764.2C229.2 767.8 228.6 771.6 227.4 774.1C226.2 776.5 223.7 778.2 223.0 779.0L201.4 779.4Z" fill="none" stroke="#888" stroke-width="0.5"/>
<path d="M201.4 717.7C202.7 718.2 206.5 720.3 209.6 721.1C212.6 721.9 216.8 721.9 219.7 722.5C222.6 723.2 225.1 723.7 226.7 725.0C228.4 726.3 229.3 727.7 229.7 730.3C230.0 733.0 229.1 737.3 228.9 741.0C228.7 744.8 229.0 748.8 228.7 752.7C228.3 756.6 227.4 760.8 226.7 764.4C226.0 768.0 225.4 771.7 224.4 774.1C223.3 776.6 221.1 778.2 220.5 779.0L201.4 779.4Z" fill="none" stroke="#888" stroke-width="0.5"/>
<path d="M201.3 718.4C202.5 719.0 205.8 721.0 208.4 721.8C211.1 722.6 214.8 722.6 217.3 723.3C219.8 723.9 222.0 724.4 223.4 725.7C224.9 726.9 225.7 728.3 226.0 730.9C226.3 733.6 225.5 737.8 225.3 741.5C225.2 745.2 225.4 749.2 225.1 753.1C224.8 756.9 224.0 761.1 223.4 764.6C222.8 768.1 222.3 771.8 221.4 774.2C220.5 776.6 218.5 778.2 218.0 779.0L201.3 779.4Z" fill="none" stroke="#888" stroke-width="0.5"/>
<defs><filter id="fb1" x="-30%" y="-30%" width="160%" height="160%"><feGaussianBlur stdDeviation="0.9"/></filter></defs>
<g filter="url(#fb1)">
<path d="M206.6 722.8C207.8 718.1 211.0 721.7 213.5 721.6C215.9 721.5 218.9 721.7 221.2 722.3C223.5 722.9 225.9 723.7 227.2 725.4C228.6 727.1 229.1 729.5 229.2 732.6C229.3 735.7 227.7 740.1 227.8 743.9C227.8 747.7 229.5 751.6 229.4 755.3C229.4 758.9 228.8 762.6 227.6 765.6C226.4 768.5 224.8 771.2 222.3 772.8C219.8 774.3 215.0 775.1 212.4 774.8C209.8 774.6 208.0 775.3 206.9 771.2C205.8 767.1 205.8 758.2 205.8 750.1C205.7 742.0 205.3 727.6 206.6 722.8Z" fill="#777" stroke="none" stroke-width="1" opacity="0.1"/>
<path d="M207.7 723.5C208.9 718.9 211.8 722.4 214.0 722.3C216.2 722.2 218.9 722.4 221.0 723.0C223.1 723.6 225.3 724.3 226.5 726.0C227.7 727.7 228.2 730.0 228.3 733.0C228.4 736.0 227.0 740.3 227.0 744.0C227.0 747.7 228.5 751.5 228.5 755.0C228.5 758.5 227.9 762.2 226.8 765.0C225.7 767.8 224.3 770.5 222.0 772.0C219.7 773.5 215.3 774.2 213.0 774.0C210.7 773.8 209.0 774.5 208.0 770.5C207.0 766.5 207.1 757.8 207.0 750.0C206.9 742.2 206.5 728.1 207.7 723.5Z" fill="none" stroke="#000" stroke-width="1.6" opacity="0.40"/>
<path d="M208.0 770.5C207.8 767.1 207.1 757.8 207.0 750.0C206.9 742.2 206.5 728.1 207.7 723.5C208.9 718.9 211.8 722.4 214.0 722.3C216.2 722.2 218.9 722.4 221.0 723.0C223.1 723.6 225.6 725.5 226.5 726.0" fill="none" stroke="#000" stroke-width="3.0" opacity="0.5"/>
</g>
<path d="M208.9 726.1C210.1 722.2 213.4 725.6 215.5 725.6C217.5 725.7 219.4 725.8 221.1 726.3C222.9 726.8 225.0 727.5 226.1 728.8C227.2 730.1 227.7 731.5 227.6 734.2C227.5 736.9 225.7 741.7 225.5 745.0C225.3 748.3 226.5 751.0 226.5 754.0C226.5 757.0 226.6 760.4 225.7 763.0C224.8 765.6 223.1 768.1 221.2 769.5C219.3 770.9 216.4 771.8 214.5 771.3C212.6 770.8 210.8 770.5 209.7 766.8C208.7 763.0 208.3 755.6 208.2 748.8C208.1 742.0 207.7 729.9 208.9 726.1Z" fill="none" stroke="#777" stroke-width="0.5"/>
<path d="M210.8 730.1C211.8 726.8 214.7 729.3 216.3 729.3C217.9 729.3 219.1 729.7 220.5 730.0C221.9 730.3 224.0 729.8 224.7 731.0C225.5 732.2 224.9 735.0 224.9 737.2C224.9 739.4 224.5 741.6 224.6 744.3C224.6 747.0 225.1 751.0 225.1 753.5C225.1 756.0 225.2 757.5 224.6 759.3C224.1 761.1 223.2 763.0 221.7 764.1C220.2 765.3 217.4 766.3 215.7 766.2C214.1 766.1 212.8 766.3 211.9 763.4C211.0 760.6 210.4 754.9 210.2 749.4C210.1 743.8 209.8 733.5 210.8 730.1Z" fill="none" stroke="#777" stroke-width="0.5"/>
<path d="M213.3 734.3C213.8 731.9 214.4 734.1 215.5 734.0C216.6 733.9 218.4 733.7 219.8 733.8C221.2 733.8 223.1 733.7 223.8 734.5C224.5 735.3 224.2 736.8 224.1 738.6C223.9 740.4 222.9 743.0 222.8 745.1C222.8 747.2 223.6 749.4 223.6 751.3C223.6 753.2 223.3 755.2 222.7 756.6C222.2 758.1 221.4 759.3 220.4 760.0C219.3 760.7 217.8 760.7 216.7 760.8C215.5 760.9 214.1 762.7 213.4 760.6C212.8 758.5 212.7 752.5 212.7 748.1C212.7 743.7 212.9 736.7 213.3 734.3Z" fill="none" stroke="#777" stroke-width="0.5"/>
<path d="M212.7 744.8C211.9 744.8 211.3 744.0 210.8 743.2C210.2 742.4 209.1 740.9 209.3 739.9C209.5 739.0 210.9 738.0 211.8 737.4C212.7 736.9 214.0 736.5 214.8 736.8C215.5 737.1 216.2 738.3 216.4 739.4C216.5 740.4 216.3 742.2 215.7 743.1C215.1 744.0 213.5 744.7 212.7 744.8Z" fill="none" stroke="#777" stroke-width="0.45"/>
<path d="M226.5 757.9C225.9 758.3 224.7 758.1 224.2 757.9C223.6 757.8 223.4 757.7 223.2 757.2C223.0 756.8 222.7 755.9 222.8 755.3C223.0 754.6 223.4 753.6 224.0 753.3C224.6 753.0 225.8 753.0 226.5 753.3C227.1 753.7 227.9 754.8 227.9 755.5C227.9 756.3 227.1 757.5 226.5 757.9Z" fill="none" stroke="#777" stroke-width="0.45"/>
<path d="M224.1 736.5C223.4 736.7 222.6 736.5 222.3 736.2C222.0 735.8 222.3 734.9 222.3 734.3C222.4 733.6 222.2 732.7 222.6 732.4C223.1 732.1 224.2 732.6 224.9 732.6C225.5 732.7 226.2 732.5 226.4 732.8C226.7 733.1 226.7 733.8 226.3 734.4C225.9 735.0 224.7 736.2 224.1 736.5Z" fill="none" stroke="#777" stroke-width="0.45"/>
<path d="M225.5 755.6C225.2 756.2 225.1 756.9 224.6 757.0C224.0 757.1 222.7 756.8 222.1 756.3C221.5 755.7 220.8 754.1 220.8 753.5C220.7 752.8 221.4 752.7 221.9 752.3C222.3 752.0 222.7 751.3 223.4 751.4C224.1 751.6 225.8 752.6 226.2 753.3C226.5 754.0 225.7 755.0 225.5 755.6Z" fill="none" stroke="#777" stroke-width="0.45"/>
<path d="M223.0 750.1C222.2 750.5 221.6 750.8 220.9 750.7C220.3 750.6 219.6 750.3 219.4 749.5C219.2 748.7 219.2 746.7 219.8 746.1C220.4 745.5 222.0 745.9 222.8 746.0C223.5 746.1 223.8 746.3 224.3 746.7C224.8 747.1 225.9 747.8 225.7 748.4C225.5 749.0 223.8 749.7 223.0 750.1Z" fill="none" stroke="#777" stroke-width="0.45"/>
<path d="M224.0 763.7C223.6 764.7 222.5 765.7 221.5 766.1C220.5 766.5 218.8 766.5 217.7 766.1C216.6 765.7 215.3 764.7 214.8 763.7C214.2 762.7 214.1 761.2 214.4 760.3C214.8 759.3 215.9 758.3 216.9 757.9C217.9 757.5 219.6 757.5 220.7 757.9C221.8 758.3 223.1 759.3 223.6 760.3C224.2 761.3 224.3 762.8 224.0 763.7Z" fill="none" stroke="#666" stroke-width="0.5"/>
<path d="M222.6 763.2C222.3 763.9 221.6 764.6 220.8 764.9C220.1 765.2 218.9 765.2 218.1 764.9C217.4 764.6 216.5 763.9 216.1 763.2C215.7 762.5 215.6 761.5 215.8 760.8C216.1 760.1 216.8 759.4 217.6 759.1C218.3 758.8 219.5 758.8 220.3 759.1C221.0 759.4 221.9 760.1 222.3 760.8C222.7 761.5 222.8 762.5 222.6 763.2Z" fill="none" stroke="#666" stroke-width="0.5"/>
<path d="M221.3 762.7C221.1 763.2 220.6 763.6 220.2 763.8C219.7 764.0 219.0 764.0 218.6 763.8C218.1 763.6 217.5 763.2 217.3 762.7C217.1 762.3 217.0 761.7 217.1 761.3C217.3 760.8 217.8 760.4 218.2 760.2C218.7 760.0 219.4 760.0 219.8 760.2C220.3 760.4 220.9 760.8 221.1 761.3C221.3 761.7 221.4 762.3 221.3 762.7Z" fill="#fff" stroke="#666" stroke-width="0.5"/>
<path d="M220.2 762.4C220.1 762.6 219.9 762.8 219.7 762.8C219.5 762.9 219.1 762.9 218.9 762.8C218.7 762.8 218.4 762.5 218.3 762.3C218.2 762.1 218.2 761.8 218.2 761.6C218.3 761.4 218.5 761.2 218.7 761.2C218.9 761.1 219.3 761.1 219.5 761.2C219.7 761.2 220.0 761.5 220.1 761.7C220.2 761.9 220.2 762.2 220.2 762.4Z" fill="none" stroke="#666" stroke-width="0.5"/>
<path d="M221.6 729.0C221.6 729.8 221.1 730.8 220.4 731.4C219.7 732.0 218.5 732.4 217.5 732.4C216.5 732.4 215.3 732.0 214.6 731.4C213.9 730.8 213.4 729.8 213.4 729.0C213.4 728.2 213.9 727.2 214.6 726.6C215.3 726.0 216.5 725.6 217.5 725.6C218.5 725.6 219.7 726.0 220.4 726.6C221.1 727.2 221.6 728.2 221.6 729.0Z" fill="none" stroke="#777" stroke-width="0.5"/>
<path d="M220.0 729.0C220.0 729.5 219.7 730.1 219.3 730.5C218.9 730.8 218.1 731.1 217.5 731.1C216.9 731.1 216.1 730.8 215.7 730.5C215.3 730.1 215.0 729.5 215.0 729.0C215.0 728.5 215.3 727.9 215.7 727.5C216.1 727.2 216.9 726.9 217.5 726.9C218.1 726.9 218.9 727.2 219.3 727.5C219.7 727.9 220.0 728.5 220.0 729.0Z" fill="#f4f4f4" stroke="#777" stroke-width="0.5"/>
<path d="M218.7 729.0C218.7 729.2 218.5 729.5 218.3 729.7C218.1 729.9 217.8 730.0 217.5 730.0C217.2 730.0 216.9 729.9 216.7 729.7C216.5 729.5 216.3 729.2 216.3 729.0C216.3 728.8 216.5 728.5 216.7 728.3C216.9 728.1 217.2 728.0 217.5 728.0C217.8 728.0 218.1 728.1 218.3 728.3C218.5 728.5 218.7 728.8 218.7 729.0Z" fill="none" stroke="#777" stroke-width="0.5"/>
<path d="M216.0 736.0C216.8 736.7 220.2 738.3 220.5 740.0C220.8 741.7 217.3 744.2 217.5 746.0C217.7 747.8 221.3 749.5 221.5 751.0C221.7 752.5 219.0 754.3 218.5 755.0" fill="none" stroke="#fff" stroke-width="0.9"/>
<path d="M201.3 715.5L204.5 719.0L205.8 775.4L218 776.4L226 777.2L239 779.2L201.3 779.6Z" fill="#0a0a0a" stroke="none" stroke-width="1"/>
<line x1="207.3" y1="723" x2="207.5" y2="771.6" stroke="#111" stroke-width="1.6" opacity="0.8"/>
</g>
<rect x="242.3" y="711" width="43.5" height="24.5" fill="#fff" stroke="#111" stroke-width="1.0"/>
<text x="263.3" y="707.8" font-size="12" text-anchor="middle" font-weight="normal" fill="#111">&lt;0.1</text>
<line x1="200.9" y1="688.6" x2="291.3" y2="688.6" stroke="#666" stroke-width="0.8"/>
<line x1="291.3" y1="688.6" x2="291.3" y2="779.6" stroke="#666" stroke-width="0.8"/>
<line x1="200.9" y1="688.6" x2="200.9" y2="779.6" stroke="#666" stroke-width="0.8"/>
<line x1="200.9" y1="779.6" x2="291.3" y2="779.6" stroke="#333" stroke-width="1.0"/>
<line x1="199.3" y1="757.4048780487805" x2="200.9" y2="757.4048780487805" stroke="#777" stroke-width="0.7"/>
<line x1="222.9487804878049" y1="779.6" x2="222.9487804878049" y2="781.4" stroke="#888" stroke-width="0.7"/>
<line x1="199.3" y1="735.209756097561" x2="200.9" y2="735.209756097561" stroke="#777" stroke-width="0.7"/>
<line x1="244.99756097560976" y1="779.6" x2="244.99756097560976" y2="781.4" stroke="#888" stroke-width="0.7"/>
<line x1="199.3" y1="713.0146341463415" x2="200.9" y2="713.0146341463415" stroke="#777" stroke-width="0.7"/>
<line x1="267.04634146341465" y1="779.6" x2="267.04634146341465" y2="781.4" stroke="#888" stroke-width="0.7"/>
<line x1="199.3" y1="690.819512195122" x2="200.9" y2="690.819512195122" stroke="#777" stroke-width="0.7"/>
<line x1="289.09512195121954" y1="779.6" x2="289.09512195121954" y2="781.4" stroke="#888" stroke-width="0.7"/>
<line x1="142.5" y1="591" x2="188" y2="591" stroke="#000" stroke-width="1.1"/>
<path d="M187.5 585.1L187.5 596.9L200 591Z" fill="#000" stroke="none" stroke-width="1"/>
<line x1="285.7" y1="618" x2="304" y2="618" stroke="#000" stroke-width="1.1"/>
<path d="M303.6 612.4L303.6 623.8L315 618Z" fill="#000" stroke="none" stroke-width="1"/>
<text x="31.4" y="634" font-size="12" text-anchor="start" font-weight="normal" fill="#111">WT BM</text>
<text x="6.6" y="737.5" font-size="12" text-anchor="start" font-weight="normal" fill="#111">CCR9-/- BM</text>
<text x="77" y="762.3" font-size="11.8" text-anchor="middle" font-weight="normal" fill="#111" transform="rotate(-90 77 762.3)">Kit</text>
<text x="95.6" y="795.2" font-size="11.8" text-anchor="start" font-weight="normal" fill="#111">Lin</text>
<text x="195" y="759.8" font-size="11.8" text-anchor="middle" font-weight="normal" fill="#111" transform="rotate(-90 195 759.8)">Flt3</text>
<text x="212.5" y="795.2" font-size="11.8" text-anchor="start" font-weight="normal" fill="#111">CCR9</text>
<path d="M316.3 632.5L317.5 618.8L319.5 630L321.3 622.5L323 632.5L325 617.5L327 625L328.8 602.5L330.5 592.5L332 602.5L333.8 615L335.5 625L337.5 635L340 647.5L342.5 657.5L345 665L347.5 671.3L350 672.5L352.5 668.8L354.5 673.8L356.3 675.5L356.3 675.6L316.3 675.6Z" fill="#bababa" stroke="none" stroke-width="1"/>
<line x1="315.6" y1="585.5" x2="406.8" y2="585.5" stroke="#666" stroke-width="0.8"/>
<line x1="406.8" y1="585.5" x2="406.8" y2="675.6" stroke="#666" stroke-width="0.8"/>
<line x1="315.6" y1="585.5" x2="315.6" y2="675.6" stroke="#666" stroke-width="0.9"/>
<line x1="314.0" y1="658.9148148148148" x2="315.6" y2="658.9148148148148" stroke="#777" stroke-width="0.7"/>
<line x1="314.0" y1="642.2296296296297" x2="315.6" y2="642.2296296296297" stroke="#777" stroke-width="0.7"/>
<line x1="314.0" y1="625.5444444444445" x2="315.6" y2="625.5444444444445" stroke="#777" stroke-width="0.7"/>
<line x1="314.0" y1="608.8592592592593" x2="315.6" y2="608.8592592592593" stroke="#777" stroke-width="0.7"/>
<line x1="314.0" y1="592.174074074074" x2="315.6" y2="592.174074074074" stroke="#777" stroke-width="0.7"/>
<line x1="315.6" y1="675.6" x2="315.6" y2="677.4" stroke="#888" stroke-width="0.7"/>
<line x1="338.40000000000003" y1="675.6" x2="338.40000000000003" y2="677.4" stroke="#888" stroke-width="0.7"/>
<line x1="361.20000000000005" y1="675.6" x2="361.20000000000005" y2="677.4" stroke="#888" stroke-width="0.7"/>
<line x1="384.0" y1="675.6" x2="384.0" y2="677.4" stroke="#888" stroke-width="0.7"/>
<line x1="406.8" y1="675.6" x2="406.8" y2="677.4" stroke="#888" stroke-width="0.7"/>
<line x1="316.4" y1="633" x2="316.4" y2="675.5" stroke="#000" stroke-width="1.5"/>
<path d="M316.4 633.8L317 660L318 673.8L321.3 674.5L323.8 672.5L326.3 673.8L328.8 671.3L331.3 667.5L333.8 662.5L335.5 652.5L337.5 640L339.5 637.5L340.8 625L342 616.3L343.3 620L344.5 612.5L346.3 605L347.5 615L349.3 602.5L350.5 607.5L352.5 590.5L353.8 602.5L355 612.5L357 615L358.8 630L360.5 640L362 650L363.3 662.5L364.5 669.5L367 671.3L369.5 670L372.5 673.8L375 675.3L406.8 675.5" fill="none" stroke="#000" stroke-width="1.3" stroke-linejoin="round"/>
<line x1="340" y1="631" x2="393.8" y2="631" stroke="#333" stroke-width="1.1"/>
<line x1="393.8" y1="629" x2="393.8" y2="633" stroke="#555" stroke-width="0.8"/>
<text x="372.5" y="627.5" font-size="11.5" text-anchor="middle" font-weight="normal" fill="#111">81</text>
<path d="M386.8 631V603.8H417" fill="none" stroke="#000" stroke-width="1.1"/>
<path d="M416 598L416 609.6L428 603.8Z" fill="#000" stroke="none" stroke-width="1"/>
<text x="327" y="692.5" font-size="11.5" text-anchor="start" font-weight="normal" fill="#111">CCR7</text>
<line x1="427.8" y1="585.5" x2="518.6" y2="585.5" stroke="#666" stroke-width="0.8"/>
<line x1="518.6" y1="585.5" x2="518.6" y2="675.9" stroke="#666" stroke-width="0.8"/>
<line x1="427.8" y1="585.5" x2="427.8" y2="675.9" stroke="#666" stroke-width="0.9"/>
<line x1="426.2" y1="659.1592592592592" x2="427.8" y2="659.1592592592592" stroke="#777" stroke-width="0.7"/>
<line x1="426.2" y1="642.4185185185185" x2="427.8" y2="642.4185185185185" stroke="#777" stroke-width="0.7"/>
<line x1="426.2" y1="625.6777777777778" x2="427.8" y2="625.6777777777778" stroke="#777" stroke-width="0.7"/>
<line x1="426.2" y1="608.937037037037" x2="427.8" y2="608.937037037037" stroke="#777" stroke-width="0.7"/>
<line x1="426.2" y1="592.1962962962963" x2="427.8" y2="592.1962962962963" stroke="#777" stroke-width="0.7"/>
<line x1="427.8" y1="675.9" x2="427.8" y2="677.6999999999999" stroke="#888" stroke-width="0.7"/>
<line x1="450.5" y1="675.9" x2="450.5" y2="677.6999999999999" stroke="#888" stroke-width="0.7"/>
<line x1="473.20000000000005" y1="675.9" x2="473.20000000000005" y2="677.6999999999999" stroke="#888" stroke-width="0.7"/>
<line x1="495.90000000000003" y1="675.9" x2="495.90000000000003" y2="677.6999999999999" stroke="#888" stroke-width="0.7"/>
<line x1="518.6" y1="675.9" x2="518.6" y2="677.6999999999999" stroke="#888" stroke-width="0.7"/>
<path d="M427.7 675.9L465.3 675.9L466.9 669.6L468.5 655.8L469.9 647.7L471.5 641.9L472.7 635L474.3 640.8L475.7 635L477.3 626.9L478.5 621.2L479.9 630.4L481.2 621.2L482.6 631.5L484 624.6L485.9 632.7L487.2 637.3L488.9 624.6L490 607.3L490.9 598.8L492.1 616.5L493.2 632.2L494.2 616.5L495.1 595.8L495.8 591.2L496.9 611.9L498.3 625.8L499.7 641.9L501.5 648.8L503.8 655.8L506.2 667.3L508 674.2L510.3 675.6L511.9 673.8L513.5 675.6L518.9 675.9" fill="none" stroke="#000" stroke-width="1.3" stroke-linejoin="round"/>
<line x1="452" y1="624.8" x2="489" y2="624.8" stroke="#333" stroke-width="1.1"/>
<line x1="452" y1="622.6" x2="452" y2="627" stroke="#555" stroke-width="0.8"/>
<line x1="487.2" y1="616" x2="517.8" y2="616" stroke="#333" stroke-width="1.1"/>
<line x1="517.6" y1="613.8" x2="517.6" y2="618" stroke="#555" stroke-width="0.8"/>
<text x="464.3" y="620.7" font-size="11.5" text-anchor="middle" font-weight="normal" fill="#111">48</text>
<text x="508" y="612" font-size="11.5" text-anchor="middle" font-weight="normal" fill="#111">52</text>
<text x="439.7" y="692.3" font-size="11.5" text-anchor="start" font-weight="normal" fill="#111">Kit</text>
</svg>
</body></html>
